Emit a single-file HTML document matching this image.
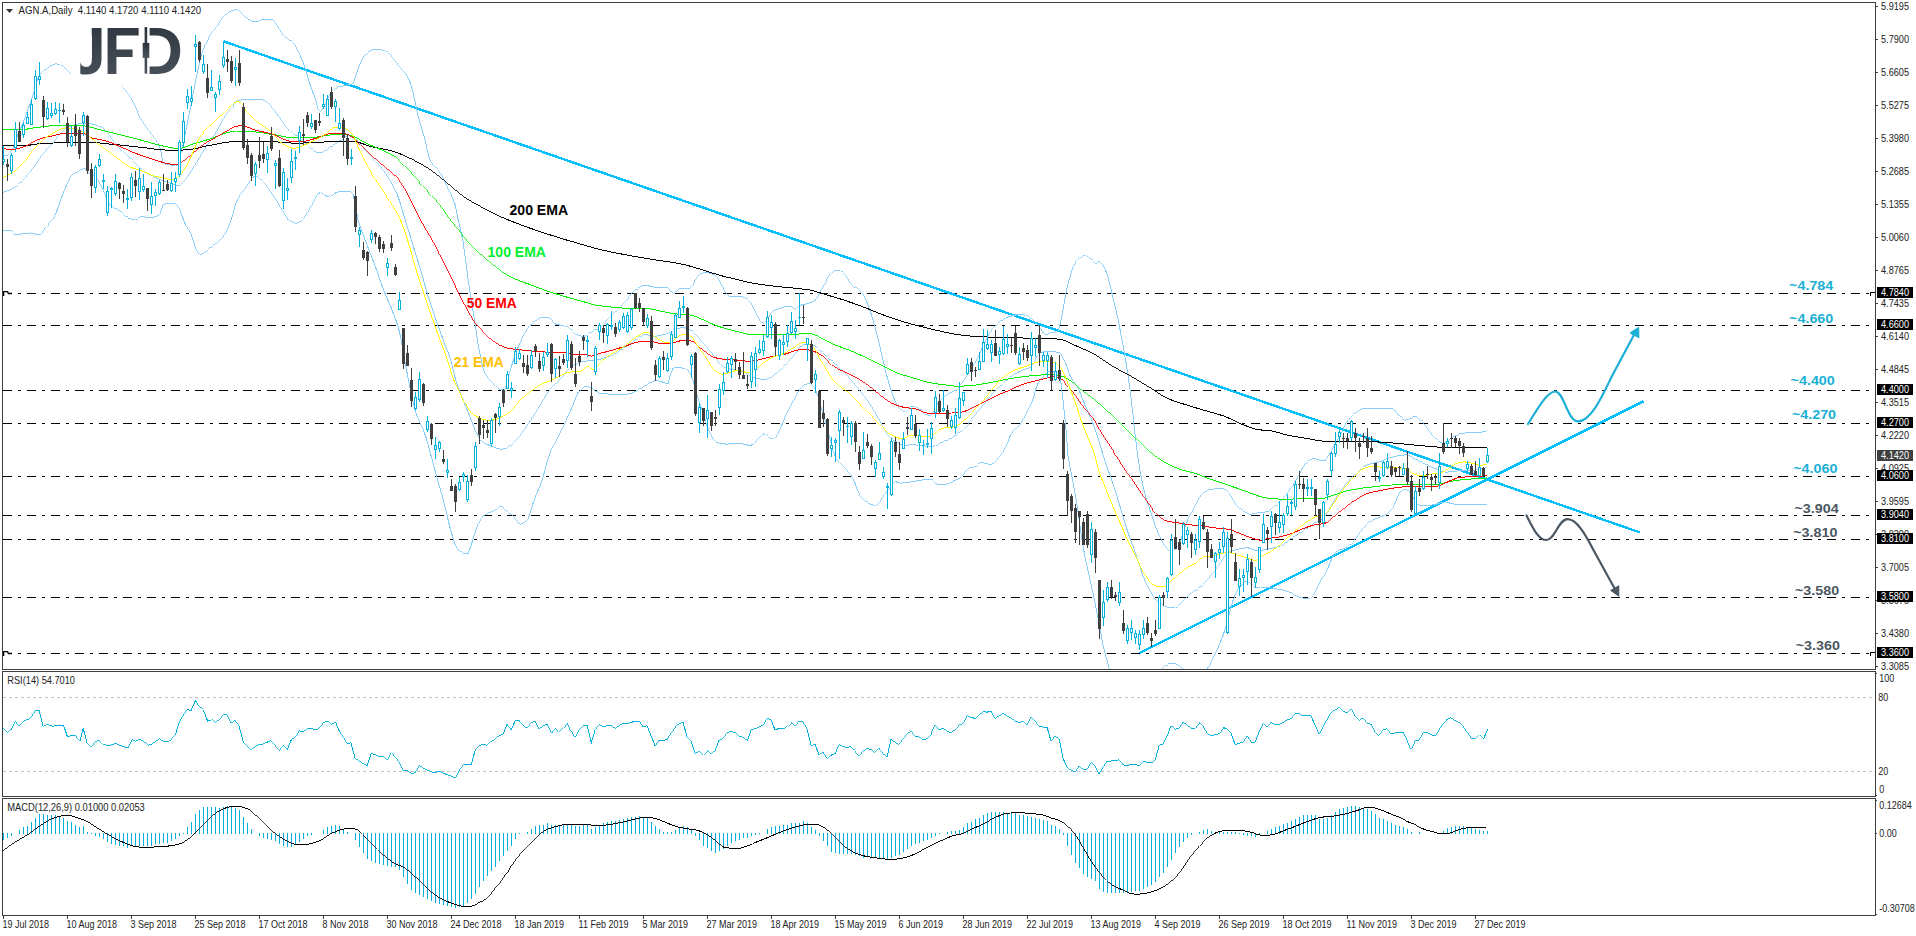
<!DOCTYPE html><html><head><meta charset="utf-8"><title>AGN.A Daily</title><style>html,body{margin:0;padding:0;background:#fff}body{width:1916px;height:936px;overflow:hidden}</style></head><body><svg width="1916" height="936" viewBox="0 0 1916 936" style="display:block">
<defs><clipPath id="cm"><rect x="3" y="3" width="1872" height="666"/></clipPath><clipPath id="cr"><rect x="3" y="672" width="1872" height="124"/></clipPath><clipPath id="cd"><rect x="3" y="799" width="1872" height="116"/></clipPath><linearGradient id="lg" x1="0" y1="0" x2="0" y2="1"><stop offset="0" stop-color="#2b323c"/><stop offset="1" stop-color="#4c555e"/></linearGradient><clipPath id="dclip"><rect x="150.4" y="20" width="40" height="60"/></clipPath></defs>
<rect width="1916" height="936" fill="#fff"/>
<g clip-path="url(#cm)">
<line x1="3" y1="293.5" x2="1872" y2="293.5" stroke="#000" stroke-width="1" stroke-dasharray="9 6 3 6" shape-rendering="crispEdges"/>
<line x1="3" y1="325.5" x2="1872" y2="325.5" stroke="#000" stroke-width="1" stroke-dasharray="9 6 3 6" shape-rendering="crispEdges"/>
<line x1="3" y1="390.5" x2="1872" y2="390.5" stroke="#000" stroke-width="1" stroke-dasharray="9 6 3 6" shape-rendering="crispEdges"/>
<line x1="3" y1="423.5" x2="1872" y2="423.5" stroke="#000" stroke-width="1" stroke-dasharray="9 6 3 6" shape-rendering="crispEdges"/>
<line x1="3" y1="476.5" x2="1872" y2="476.5" stroke="#000" stroke-width="1" stroke-dasharray="9 6 3 6" shape-rendering="crispEdges"/>
<line x1="3" y1="515.5" x2="1872" y2="515.5" stroke="#000" stroke-width="1" stroke-dasharray="9 6 3 6" shape-rendering="crispEdges"/>
<line x1="3" y1="539.5" x2="1872" y2="539.5" stroke="#000" stroke-width="1" stroke-dasharray="9 6 3 6" shape-rendering="crispEdges"/>
<line x1="3" y1="597.5" x2="1872" y2="597.5" stroke="#000" stroke-width="1" stroke-dasharray="9 6 3 6" shape-rendering="crispEdges"/>
<line x1="3" y1="653.5" x2="1872" y2="653.5" stroke="#000" stroke-width="1" stroke-dasharray="9 6 3 6" shape-rendering="crispEdges"/>
<line x1="223.5" y1="41.3" x2="1639.6" y2="532.3" stroke="#00BFFF" stroke-width="2.4" shape-rendering="crispEdges"/>
<line x1="1139.5" y1="653" x2="1643.5" y2="401.3" stroke="#00BFFF" stroke-width="2.4" shape-rendering="crispEdges"/>
<g fill="none" stroke="#87CEFA" shape-rendering="crispEdges">
<polyline points="3,154.4 5.5,155.5" stroke-width="0.9"/>
<polyline points="5.5,155.5 8,155.1" stroke-width="1"/>
<polyline points="8,155.1 10.5,152" stroke-width="0.8"/>
<polyline points="10.5,152 13,147.8" stroke-width="0.9"/>
<polyline points="13,147.8 15.5,141.5 18,134.5 20.5,128.6 23,123 25.5,116.3 28,109 30.5,102.9 33,95.2 35.5,86.3 38,78.1" stroke-width="1"/>
<polyline points="38,78.1 40.5,73.5" stroke-width="0.9"/>
<polyline points="40.5,73.5 43,70.9 45.5,69" stroke-width="0.8"/>
<polyline points="45.5,69 48,67.4 50.5,65.7 53,64.4" stroke-width="0.9"/>
<polyline points="53,64.4 55.5,63.8 58,64.1 60.5,65.1" stroke-width="1"/>
<polyline points="60.5,65.1 63,66.4 65.5,68.2" stroke-width="0.9"/>
<polyline points="65.5,68.2 68,70.9 70.5,73.6" stroke-width="0.8"/>
</g>
<g fill="none" stroke="#87CEFA" shape-rendering="crispEdges">
<polyline points="120.5,85.9 123,88 125.5,90.8 128,94 130.5,97.6" stroke-width="0.8"/>
<polyline points="130.5,97.6 133,101.7 135.5,106.9" stroke-width="0.9"/>
<polyline points="135.5,106.9 138,112.5" stroke-width="1"/>
<polyline points="138,112.5 140.5,117.9 143,122.3 145.5,126.1" stroke-width="0.9"/>
<polyline points="145.5,126.1 148,129.6 150.5,132.9 153,136.3 155.5,139.7 158,143.1" stroke-width="0.8"/>
<polyline points="158,143.1 160.5,149.7 163,162.7" stroke-width="1"/>
<polyline points="163,162.7 165.5,164.3" stroke-width="0.9"/>
<polyline points="165.5,164.3 168,164.8 170.5,165 173,165.2 175.5,165.4" stroke-width="1"/>
<polyline points="175.5,165.4 178,164.1" stroke-width="0.9"/>
<polyline points="178,164.1 180.5,154.9 183,144.7 185.5,132.5 188,119.8 190.5,107.3 193,94.5 195.5,81.9 198,69 200.5,58.2 203,50.3 205.5,43.8" stroke-width="1"/>
<polyline points="205.5,43.8 208,38.5 210.5,34.4" stroke-width="0.9"/>
<polyline points="210.5,34.4 213,31 215.5,27.9 218,24.6" stroke-width="0.8"/>
<polyline points="218,24.6 220.5,20.7 223,16.9" stroke-width="0.9"/>
<polyline points="223,16.9 225.5,14.3" stroke-width="0.7"/>
<polyline points="225.5,14.3 228,12.7 230.5,11.4" stroke-width="0.9"/>
<polyline points="230.5,11.4 233,10.3 235.5,9.7 238,9.9" stroke-width="1"/>
<polyline points="238,9.9 240.5,11.9 243,14.9 245.5,17.6" stroke-width="0.8"/>
<polyline points="245.5,17.6 248,19.1 250.5,20.4" stroke-width="0.9"/>
<polyline points="250.5,20.4 253,21.4 255.5,22 258,21.6" stroke-width="1"/>
<polyline points="258,21.6 260.5,20.3" stroke-width="0.9"/>
<polyline points="260.5,20.3 263,19.3 265.5,19.2 268,19.2 270.5,19.2 273,19.8" stroke-width="1"/>
<polyline points="273,19.8 275.5,22.9" stroke-width="0.8"/>
<polyline points="275.5,22.9 278,27 280.5,30.8 283,35" stroke-width="0.9"/>
<polyline points="283,35 285.5,37.9" stroke-width="0.8"/>
<polyline points="285.5,37.9 288,39.5 290.5,40.7" stroke-width="0.9"/>
<polyline points="290.5,40.7 293,42.6" stroke-width="0.8"/>
<polyline points="293,42.6 295.5,46.2 298,51 300.5,56.2" stroke-width="0.9"/>
<polyline points="300.5,56.2 303,62.2 305.5,69.3 308,78 310.5,86 313,92.5 315.5,99.1 318,108.9" stroke-width="1"/>
<polyline points="318,108.9 320.5,112.1" stroke-width="0.8"/>
<polyline points="320.5,112.1 323,108.4 325.5,103.6 328,98.3 330.5,93.3" stroke-width="0.9"/>
<polyline points="330.5,93.3 333,90.3 335.5,88.2" stroke-width="0.8"/>
<polyline points="335.5,88.2 338,87.1" stroke-width="0.9"/>
<polyline points="338,87.1 340.5,86.5 343,86 345.5,85.4 348,84.9 350.5,84.4" stroke-width="1"/>
<polyline points="350.5,84.4 353,83.1" stroke-width="0.9"/>
<polyline points="353,83.1 355.5,77.1 358,68.8 360.5,62.5" stroke-width="1"/>
<polyline points="360.5,62.5 363,57.9 365.5,54" stroke-width="0.9"/>
<polyline points="365.5,54 368,51.8" stroke-width="0.8"/>
<polyline points="368,51.8 370.5,50.6" stroke-width="0.9"/>
<polyline points="370.5,50.6 373,49.7 375.5,49.1 378,49 380.5,49.4 383,50.3 385.5,51.3" stroke-width="1"/>
<polyline points="385.5,51.3 388,52.6" stroke-width="0.9"/>
<polyline points="388,52.6 390.5,54.9 393,57.9 395.5,61.3 398,64.7 400.5,67.9 403,70.7 405.5,73.6" stroke-width="0.8"/>
<polyline points="405.5,73.6 408,77.6" stroke-width="0.9"/>
<polyline points="408,77.6 410.5,83.7 413,91.8 415.5,103.7 418,115.7 420.5,124.5 423,132.6 425.5,142 428,153.4 430.5,161.3" stroke-width="1"/>
<polyline points="430.5,161.3 433,164.9" stroke-width="0.9"/>
<polyline points="433,164.9 435.5,167.5 438,169.9" stroke-width="0.7"/>
<polyline points="438,169.9 440.5,173.3" stroke-width="0.8"/>
<polyline points="440.5,173.3 443,178 445.5,183.3 448,188.6 450.5,193.4 453,198.7" stroke-width="0.9"/>
<polyline points="453,198.7 455.5,206 458,219.5 460.5,229.2 463,241.3 465.5,259.3 468,278.6 470.5,295.2 473,310.8 475.5,326.9 478,343.6 480.5,356.9 483,368 485.5,374.6" stroke-width="1"/>
<polyline points="485.5,374.6 488,377.7 490.5,380.4 493,383.4 495.5,386.3 498,388.5" stroke-width="0.8"/>
<polyline points="498,388.5 500.5,389.5 503,390.1" stroke-width="1"/>
<polyline points="503,390.1 505.5,388.3" stroke-width="0.8"/>
<polyline points="505.5,388.3 508,378 510.5,369.3 513,361.5 515.5,354.2 518,347.6 520.5,341.6" stroke-width="1"/>
<polyline points="520.5,341.6 523,336.2 525.5,331.7 528,327.7" stroke-width="0.9"/>
<polyline points="528,327.7 530.5,324.4 533,322.2 535.5,320.4" stroke-width="0.8"/>
<polyline points="535.5,320.4 538,318.9 540.5,317.7" stroke-width="0.9"/>
<polyline points="540.5,317.7 543,317.1 545.5,317.2 548,317.7 550.5,318.7" stroke-width="1"/>
<polyline points="550.5,318.7 553,321.7 555.5,324" stroke-width="0.8"/>
<polyline points="555.5,324 558,324.7 560.5,325.2 563,325.7 565.5,326.3" stroke-width="1"/>
<polyline points="565.5,326.3 568,327.5" stroke-width="0.9"/>
<polyline points="568,327.5 570.5,329.8 573,332 575.5,334.1" stroke-width="0.8"/>
<polyline points="575.5,334.1 578,335.4" stroke-width="0.9"/>
<polyline points="578,335.4 580.5,336 583,336.3 585.5,335.8" stroke-width="1"/>
<polyline points="585.5,335.8 588,334 590.5,332" stroke-width="0.8"/>
<polyline points="590.5,332 593,330.6 595.5,329.5 598,328.3 600.5,326.5" stroke-width="0.9"/>
<polyline points="600.5,326.5 603,324.2 605.5,321.5 608,318.7" stroke-width="0.8"/>
<polyline points="608,318.7 610.5,316.1" stroke-width="0.7"/>
<polyline points="610.5,316.1 613,313.8 615.5,311.6 618,309.4 620.5,307.1 623,304.4 625.5,301.1" stroke-width="0.8"/>
<polyline points="625.5,301.1 628,297.5" stroke-width="0.9"/>
<polyline points="628,297.5 630.5,294.2 633,291.6 635.5,289.7" stroke-width="0.8"/>
<polyline points="635.5,289.7 638,288 640.5,286.6" stroke-width="0.9"/>
<polyline points="640.5,286.6 643,285.7 645.5,285.4 648,285.7 650.5,286.2 653,286.8 655.5,287.2 658,287.4 660.5,287.4 663,287.5 665.5,287.5 668,287.7" stroke-width="1"/>
<polyline points="668,287.7 670.5,291.9" stroke-width="0.9"/>
<polyline points="670.5,291.9 673,293.7 675.5,291.1 678,289.2" stroke-width="0.8"/>
<polyline points="678,289.2 680.5,288.8 683,288.6 685.5,288.4 688,288.2 690.5,287.9" stroke-width="1"/>
<polyline points="690.5,287.9 693,285.4" stroke-width="0.7"/>
<polyline points="693,285.4 695.5,279.2" stroke-width="1"/>
<polyline points="695.5,279.2 698,275.8 700.5,273.9" stroke-width="0.8"/>
<polyline points="700.5,273.9 703,272.6" stroke-width="0.9"/>
<polyline points="703,272.6 705.5,272.3 708,272.7 710.5,273.3 713,274.2" stroke-width="1"/>
<polyline points="713,274.2 715.5,275.6" stroke-width="0.9"/>
<polyline points="715.5,275.6 718,278.7" stroke-width="0.8"/>
<polyline points="718,278.7 720.5,282.8 723,287.4 725.5,292.7" stroke-width="0.9"/>
<polyline points="725.5,292.7 728,295.2" stroke-width="0.7"/>
<polyline points="728,295.2 730.5,296.7" stroke-width="0.9"/>
<polyline points="730.5,296.7 733,296.9 735.5,296.8 738,296.6 740.5,296.5 743,296.8" stroke-width="1"/>
<polyline points="743,296.8 745.5,298.1" stroke-width="0.9"/>
<polyline points="745.5,298.1 748,300 750.5,302.6" stroke-width="0.8"/>
<polyline points="750.5,302.6 753,307.1 755.5,312.2 758,317 760.5,322.1 763,323.7" stroke-width="0.9"/>
<polyline points="763,323.7 765.5,321.6 768,318.3" stroke-width="0.8"/>
<polyline points="768,318.3 770.5,313.5" stroke-width="0.9"/>
<polyline points="770.5,313.5 773,310.8" stroke-width="0.8"/>
<polyline points="773,310.8 775.5,309.8 778,309.1 780.5,308.3 783,307.2 785.5,306.6 788,306.4 790.5,306.3" stroke-width="1"/>
<polyline points="790.5,306.3 793,308.1 795.5,309.5" stroke-width="0.9"/>
<polyline points="795.5,309.5 798,306.8" stroke-width="0.8"/>
<polyline points="798,306.8 800.5,305.2" stroke-width="0.9"/>
<polyline points="800.5,305.2 803,304.7 805.5,304.1 808,303.4 810.5,302.5 813,301.7" stroke-width="1"/>
<polyline points="813,301.7 815.5,300.3 818,296.2 820.5,291.2 823,287.3 825.5,282.6 828,277.4 830.5,273.7" stroke-width="0.9"/>
<polyline points="830.5,273.7 833,271.4" stroke-width="0.8"/>
<polyline points="833,271.4 835.5,270.2" stroke-width="0.9"/>
<polyline points="835.5,270.2 838,270.3 840.5,271.1" stroke-width="1"/>
<polyline points="840.5,271.1 843,272.6" stroke-width="0.9"/>
<polyline points="843,272.6 845.5,275.3" stroke-width="0.8"/>
<polyline points="845.5,275.3 848,279.4 850.5,284.3" stroke-width="0.9"/>
<polyline points="850.5,284.3 853,286.4" stroke-width="0.8"/>
<polyline points="853,286.4 855.5,287.5 858,289.1" stroke-width="0.9"/>
<polyline points="858,289.1 860.5,291.2 863,294.2" stroke-width="0.8"/>
<polyline points="863,294.2 865.5,299" stroke-width="0.9"/>
<polyline points="865.5,299 868,304.8 870.5,311.8 873,320.2 875.5,329.1 878,338.7 880.5,349.4 883,360.1 885.5,370.7 888,380.2 890.5,388.5 893,396 895.5,402" stroke-width="1"/>
<polyline points="895.5,402 898,406.2 900.5,409.8" stroke-width="0.9"/>
<polyline points="900.5,409.8 903,411.9" stroke-width="0.8"/>
<polyline points="903,411.9 905.5,411.5" stroke-width="1"/>
<polyline points="905.5,411.5 908,409.1" stroke-width="0.7"/>
<polyline points="908,409.1 910.5,406.7" stroke-width="0.8"/>
<polyline points="910.5,406.7 913,406.5 915.5,407.3" stroke-width="1"/>
<polyline points="915.5,407.3 918,408.5 920.5,409.9" stroke-width="0.9"/>
<polyline points="920.5,409.9 923,412 925.5,414.3" stroke-width="0.8"/>
<polyline points="925.5,414.3 928,415.8" stroke-width="0.9"/>
<polyline points="928,415.8 930.5,415.3" stroke-width="1"/>
<polyline points="930.5,415.3 933,412" stroke-width="0.8"/>
<polyline points="933,412 935.5,407.5 938,403.3" stroke-width="0.9"/>
<polyline points="938,403.3 940.5,400.3 943,397.6 945.5,395.4" stroke-width="0.8"/>
<polyline points="945.5,395.4 948,393.8" stroke-width="0.9"/>
<polyline points="948,393.8 950.5,392.7 953,391.7" stroke-width="1"/>
<polyline points="953,391.7 955.5,390.3" stroke-width="0.9"/>
<polyline points="955.5,390.3 958,388 960.5,384.8" stroke-width="0.8"/>
<polyline points="960.5,384.8 963,381.2" stroke-width="0.9"/>
<polyline points="963,381.2 965.5,377.7" stroke-width="0.8"/>
<polyline points="965.5,377.7 968,374 970.5,370.1 973,366.1 975.5,361.9 978,357.3 980.5,352.1" stroke-width="0.9"/>
<polyline points="980.5,352.1 983,345.9" stroke-width="1"/>
<polyline points="983,345.9 985.5,340.5 988,335.6 990.5,331.2" stroke-width="0.9"/>
<polyline points="990.5,331.2 993,327.8 995.5,325.1 998,322.7 1000.5,320.8" stroke-width="0.8"/>
<polyline points="1000.5,320.8 1003,319.3 1005.5,318.1" stroke-width="0.9"/>
<polyline points="1005.5,318.1 1008,317.1 1010.5,316.3 1013,315.6 1015.5,315 1018,314.5 1020.5,314.4 1023,314.7 1025.5,315.4" stroke-width="1"/>
<polyline points="1025.5,315.4 1028,316.6" stroke-width="0.9"/>
<polyline points="1028,316.6 1030.5,318.5 1033,320.5 1035.5,322.7 1038,325.3 1040.5,328.7" stroke-width="0.8"/>
<polyline points="1040.5,328.7 1043,332.5 1045.5,334.1" stroke-width="0.9"/>
<polyline points="1045.5,334.1 1048,334.2" stroke-width="1"/>
<polyline points="1048,334.2 1050.5,332.6" stroke-width="0.9"/>
<polyline points="1050.5,332.6 1053,332.3 1055.5,332 1058,331 1060.5,322.9 1063,310 1065.5,295.1 1068,283.9 1070.5,274.8 1073,267" stroke-width="1"/>
<polyline points="1073,267 1075.5,261.5" stroke-width="0.9"/>
<polyline points="1075.5,261.5 1078,259" stroke-width="0.7"/>
<polyline points="1078,259 1080.5,257" stroke-width="0.8"/>
<polyline points="1080.5,257 1083,255.5" stroke-width="0.9"/>
<polyline points="1083,255.5 1085.5,255.6" stroke-width="1"/>
<polyline points="1085.5,255.6 1088,257" stroke-width="0.9"/>
<polyline points="1088,257 1090.5,259 1093,261.3 1095.5,263.1" stroke-width="0.8"/>
<polyline points="1095.5,263.1 1098,261.5" stroke-width="0.9"/>
<polyline points="1098,261.5 1100.5,262.1" stroke-width="1"/>
<polyline points="1100.5,262.1 1103,265.3" stroke-width="0.8"/>
<polyline points="1103,265.3 1105.5,270.1" stroke-width="0.9"/>
<polyline points="1105.5,270.1 1108,277.2 1110.5,286.7 1113,297.9 1115.5,308.1 1118,318.9 1120.5,332.1 1123,345.4 1125.5,359.4 1128,374.8 1130.5,393.8 1133,415.2 1135.5,438.2 1138,457.7 1140.5,473.8 1143,486.3 1145.5,496 1148,504.2 1150.5,511.6 1153,519.1 1155.5,526.4 1158,533" stroke-width="1"/>
<polyline points="1158,533 1160.5,538.3 1163,543 1165.5,546.9" stroke-width="0.9"/>
<polyline points="1165.5,546.9 1168,549.9 1170.5,551.7" stroke-width="0.8"/>
<polyline points="1170.5,551.7 1173,551" stroke-width="1"/>
<polyline points="1173,551 1175.5,549.1 1178,546.3" stroke-width="0.8"/>
<polyline points="1178,546.3 1180.5,541.3" stroke-width="0.9"/>
<polyline points="1180.5,541.3 1183,533.1 1185.5,525.1 1188,519.4" stroke-width="1"/>
<polyline points="1188,519.4 1190.5,514.4 1193,509.7 1195.5,504.9 1198,500 1200.5,496" stroke-width="0.9"/>
<polyline points="1200.5,496 1203,493.4" stroke-width="0.7"/>
<polyline points="1203,493.4 1205.5,491.3" stroke-width="0.8"/>
<polyline points="1205.5,491.3 1208,489.9" stroke-width="0.9"/>
<polyline points="1208,489.9 1210.5,489.4 1213,489.1 1215.5,488.9 1218,488.8 1220.5,488.8 1223,488.8 1225.5,489.2" stroke-width="1"/>
<polyline points="1225.5,489.2 1228,491.9 1230.5,495.4" stroke-width="0.8"/>
<polyline points="1230.5,495.4 1233,499.7 1235.5,504" stroke-width="0.9"/>
<polyline points="1235.5,504 1238,506.8 1240.5,509 1243,510.9" stroke-width="0.8"/>
<polyline points="1243,510.9 1245.5,512.6 1248,513.9" stroke-width="0.9"/>
<polyline points="1248,513.9 1250.5,514.2 1253,513.9 1255.5,513.4 1258,512.9 1260.5,512.5 1263,512.3 1265.5,512 1268,511.6" stroke-width="1"/>
<polyline points="1268,511.6 1270.5,509.9" stroke-width="0.9"/>
<polyline points="1270.5,509.9 1273,507.4 1275.5,505" stroke-width="0.7"/>
<polyline points="1275.5,505 1278,502.9 1280.5,500.8 1283,498.5 1285.5,495.6 1288,492.1" stroke-width="0.8"/>
<polyline points="1288,492.1 1290.5,488.4 1293,484.5 1295.5,480.4 1298,476.3 1300.5,471.9 1303,467.2 1305.5,463.4" stroke-width="0.9"/>
<polyline points="1305.5,463.4 1308,461.3" stroke-width="0.8"/>
<polyline points="1308,461.3 1310.5,459.7" stroke-width="0.9"/>
<polyline points="1310.5,459.7 1313,458.8 1315.5,458.8 1318,459.5 1320.5,460.5 1323,461.1 1325.5,460.1" stroke-width="1"/>
<polyline points="1325.5,460.1 1328,456.3 1330.5,452.4 1333,448.2 1335.5,443.6 1338,438.9 1340.5,433.7 1343,428.5 1345.5,424.1 1348,420" stroke-width="0.9"/>
<polyline points="1348,420 1350.5,416.5" stroke-width="0.8"/>
<polyline points="1350.5,416.5 1353,414.1" stroke-width="0.7"/>
<polyline points="1353,414.1 1355.5,412.3" stroke-width="0.8"/>
<polyline points="1355.5,412.3 1358,410.8 1360.5,409.5" stroke-width="0.9"/>
<polyline points="1360.5,409.5 1363,408.8 1365.5,408.6 1368,408.4 1370.5,408.3 1373,408.2 1375.5,408.1 1378,408.1 1380.5,408.1 1383,408.1 1385.5,408.2 1388,408.3 1390.5,408.4 1393,408.7" stroke-width="1"/>
<polyline points="1393,408.7 1395.5,410.9" stroke-width="0.8"/>
<polyline points="1395.5,410.9 1398,414.6" stroke-width="0.9"/>
<polyline points="1398,414.6 1400.5,416.9 1403,418.9" stroke-width="0.8"/>
<polyline points="1403,418.9 1405.5,420.1" stroke-width="0.9"/>
<polyline points="1405.5,420.1 1408,419.8" stroke-width="1"/>
<polyline points="1408,419.8 1410.5,418.1 1413,416.6" stroke-width="0.9"/>
<polyline points="1413,416.6 1415.5,416.6" stroke-width="1"/>
<polyline points="1415.5,416.6 1418,417.9" stroke-width="0.9"/>
<polyline points="1418,417.9 1420.5,420 1423,422.4 1425.5,425.8 1428,429.3 1430.5,432.8 1433,436.1" stroke-width="0.8"/>
<polyline points="1433,436.1 1435.5,438.6" stroke-width="0.7"/>
<polyline points="1435.5,438.6 1438,440.8 1440.5,442.5" stroke-width="0.8"/>
<polyline points="1440.5,442.5 1443,443.3 1445.5,442.4" stroke-width="1"/>
<polyline points="1445.5,442.4 1448,440.5 1450.5,438.6" stroke-width="0.8"/>
<polyline points="1450.5,438.6 1453,437 1455.5,435.5 1458,434.3" stroke-width="0.9"/>
<polyline points="1458,434.3 1460.5,433.7 1463,433.3 1465.5,432.9 1468,432.7 1470.5,432.6 1473,432.5 1475.5,432.5 1478,432.4 1480.5,432.2 1483,431.8 1485.5,431.2 1487.2,430.8" stroke-width="1"/>
</g>
<g fill="none" stroke="#87CEFA" shape-rendering="crispEdges">
<polyline points="3,192.3 5.5,191.7 8,190.7" stroke-width="1"/>
<polyline points="8,190.7 10.5,189.6 13,188.1" stroke-width="0.9"/>
<polyline points="13,188.1 15.5,186.3 18,184.2 20.5,182 23,179.7" stroke-width="0.8"/>
<polyline points="23,179.7 25.5,177.1" stroke-width="0.7"/>
<polyline points="25.5,177.1 28,174.3 30.5,171.4 33,168.1" stroke-width="0.8"/>
<polyline points="33,168.1 35.5,164.4 38,160.6 40.5,157.1" stroke-width="0.9"/>
<polyline points="40.5,157.1 43,153.9 45.5,151 48,148.2 50.5,145.3 53,142.3 55.5,139.3 58,136.2 60.5,133.4 63,130.6" stroke-width="0.8"/>
<polyline points="63,130.6 65.5,128.1" stroke-width="0.7"/>
<polyline points="65.5,128.1 68,126.8" stroke-width="0.9"/>
<polyline points="68,126.8 70.5,126 73,125.3 75.5,124.7 78,124 80.5,123.4 83,123 85.5,123.1 88,123.3 90.5,123.7 93,124.1 95.5,124.8 98,125.8" stroke-width="1"/>
<polyline points="98,125.8 100.5,127 103,128.5" stroke-width="0.9"/>
<polyline points="103,128.5 105.5,130.6 108,133.4 110.5,136.5 113,139.5 115.5,142.5 118,145.5 120.5,148.5 123,151.3" stroke-width="0.8"/>
<polyline points="123,151.3 125.5,153.9 128,156.4 130.5,158.8 133,161.2 135.5,163.8" stroke-width="0.7"/>
<polyline points="135.5,163.8 138,166.4" stroke-width="0.8"/>
<polyline points="138,166.4 140.5,168.8" stroke-width="0.7"/>
<polyline points="140.5,168.8 143,170.8" stroke-width="0.8"/>
<polyline points="143,170.8 145.5,172.5 148,173.9 150.5,175.3 153,176.5 155.5,177.6" stroke-width="0.9"/>
<polyline points="155.5,177.6 158,178.7 160.5,179.7 163,180.6 165.5,181.5 168,182.3 170.5,183.2 173,184.2 175.5,185 178,185.6 180.5,184.9" stroke-width="1"/>
<polyline points="180.5,184.9 183,182.4" stroke-width="0.7"/>
<polyline points="183,182.4 185.5,179.4 188,176" stroke-width="0.8"/>
<polyline points="188,176 190.5,172.1 193,168 195.5,164 198,160 200.5,155.9 203,151.9 205.5,148 208,144.4 210.5,140.8 213,137.1 215.5,133.2 218,128.8 220.5,124 223,119.4 225.5,115.3" stroke-width="0.9"/>
<polyline points="225.5,115.3 228,111.9 230.5,108.9 233,105.5" stroke-width="0.8"/>
<polyline points="233,105.5 235.5,101.9" stroke-width="0.9"/>
<polyline points="235.5,101.9 238,100.8 240.5,100.1 243,99.6 245.5,99.3 248,99.2 250.5,99.2 253,99.2 255.5,99.2 258,99.2 260.5,99.2 263,99.7" stroke-width="1"/>
<polyline points="263,99.7 265.5,101.3" stroke-width="0.9"/>
<polyline points="265.5,101.3 268,103.5 270.5,105.9 273,108.6 275.5,111.9" stroke-width="0.8"/>
<polyline points="275.5,111.9 278,115.6 280.5,119.2" stroke-width="0.9"/>
<polyline points="280.5,119.2 283,122.4 285.5,125.5 288,128.5 290.5,131.3 293,133.7" stroke-width="0.8"/>
<polyline points="293,133.7 295.5,135.4 298,136.7" stroke-width="0.9"/>
<polyline points="298,136.7 300.5,138.6 303,141.2 305.5,143.9 308,146.1 310.5,148.1 313,150.1" stroke-width="0.8"/>
<polyline points="313,150.1 315.5,151.8" stroke-width="0.9"/>
<polyline points="315.5,151.8 318,152.9 320.5,153 323,152" stroke-width="1"/>
<polyline points="323,152 325.5,150.2" stroke-width="0.9"/>
<polyline points="325.5,150.2 328,148.5" stroke-width="0.8"/>
<polyline points="328,148.5 330.5,146.9 333,145.2 335.5,143.4 338,141.7 340.5,140.2 343,138.4 345.5,136.7 348,135.6" stroke-width="0.9"/>
<polyline points="348,135.6 350.5,135.6" stroke-width="1"/>
<polyline points="350.5,135.6 353,137.5 355.5,139.8 358,142.1" stroke-width="0.8"/>
<polyline points="358,142.1 360.5,144.7" stroke-width="0.7"/>
<polyline points="360.5,144.7 363,147.4 365.5,150.2 368,153 370.5,155.8 373,158.5 375.5,161.2 378,163.9 380.5,166.7 383,169.9 385.5,173.4" stroke-width="0.8"/>
<polyline points="385.5,173.4 388,177.1 390.5,181.2 393,185.8 395.5,190.8" stroke-width="0.9"/>
<polyline points="395.5,190.8 398,196.5 400.5,203.9 403,212.4 405.5,220.9 408,229 410.5,237.1 413,245.2 415.5,253.3 418,261.4 420.5,269.6 423,278.3 425.5,287.3 428,295.9 430.5,303.8 433,311.3 435.5,318.6 438,325.6 440.5,332.5 443,339.3 445.5,345.9 448,352.3 450.5,359.4 453,368.9 455.5,379.6 458,386.9 460.5,393.1 463,399.5 465.5,405.7 468,411.9 470.5,418.3 473,424.9 475.5,431.1" stroke-width="1"/>
<polyline points="475.5,431.1 478,436.4 480.5,440.5" stroke-width="0.9"/>
<polyline points="480.5,440.5 483,442.4" stroke-width="0.8"/>
<polyline points="483,442.4 485.5,443.8" stroke-width="0.9"/>
<polyline points="485.5,443.8 488,444.8 490.5,445.7 493,446.7 495.5,447.7 498,448.6 500.5,449.1 503,449.1 505.5,448.2" stroke-width="1"/>
<polyline points="505.5,448.2 508,446.8 510.5,445" stroke-width="0.9"/>
<polyline points="510.5,445 513,443.1" stroke-width="0.8"/>
<polyline points="513,443.1 515.5,440.6" stroke-width="0.7"/>
<polyline points="515.5,440.6 518,437.6 520.5,434.5 523,431.3 525.5,427.9" stroke-width="0.8"/>
<polyline points="525.5,427.9 528,424.3 530.5,420.6 533,416.7 535.5,412.7 538,408.6 540.5,404.6 543,400.4 545.5,396.1 548,392.1" stroke-width="0.9"/>
<polyline points="548,392.1 550.5,388.8 553,386.2 555.5,383.8 558,381.5 560.5,378.9 563,375.8 565.5,372.7 568,369.7" stroke-width="0.8"/>
<polyline points="568,369.7 570.5,367.2" stroke-width="0.7"/>
<polyline points="570.5,367.2 573,365.6 575.5,364.2 578,363" stroke-width="0.9"/>
<polyline points="578,363 580.5,362 583,361.4 585.5,361.1 588,360.9 590.5,360.8 593,360.6 595.5,360.3 598,359.9 600.5,359.2 603,358.5 605.5,357.6 608,356.6 610.5,355.6" stroke-width="1"/>
<polyline points="610.5,355.6 613,354.4 615.5,353 618,351.4 620.5,349.8 623,348.2 625.5,346.6 628,344.8 630.5,343.1 633,341.5 635.5,339.8" stroke-width="0.9"/>
<polyline points="635.5,339.8 638,337.9 640.5,336.1" stroke-width="0.8"/>
<polyline points="640.5,336.1 643,334.8" stroke-width="0.9"/>
<polyline points="643,334.8 645.5,334.4 648,335 650.5,335.9 653,336.3 655.5,336.2 658,335.8 660.5,335.4 663,334.9 665.5,334.3 668,333.5" stroke-width="1"/>
<polyline points="668,333.5 670.5,332.1" stroke-width="0.9"/>
<polyline points="670.5,332.1 673,330.1" stroke-width="0.8"/>
<polyline points="673,330.1 675.5,328.7" stroke-width="0.9"/>
<polyline points="675.5,328.7 678,328.2 680.5,327.9 683,327.7 685.5,328 688,328.9" stroke-width="1"/>
<polyline points="688,328.9 690.5,330.2 693,331.9" stroke-width="0.9"/>
<polyline points="693,331.9 695.5,334.4" stroke-width="0.7"/>
<polyline points="695.5,334.4 698,337.3 700.5,340 703,342.8 705.5,345.6 708,348.6 710.5,351.6 713,354.7 715.5,357.7 718,360.5 720.5,363.6 723,366.2" stroke-width="0.8"/>
<polyline points="723,366.2 725.5,367.9" stroke-width="0.9"/>
<polyline points="725.5,367.9 728,368.7 730.5,369.1 733,369.5 735.5,370 738,370.6 740.5,371.3 743,372.1 745.5,373.1" stroke-width="1"/>
<polyline points="745.5,373.1 748,374.3 750.5,375.8 753,377.1" stroke-width="0.9"/>
<polyline points="753,377.1 755.5,377.9 758,378.6 760.5,379.2 763,379.6 765.5,379.5 768,378.6" stroke-width="1"/>
<polyline points="768,378.6 770.5,377.1 773,375.4 775.5,373.7" stroke-width="0.9"/>
<polyline points="775.5,373.7 778,371.5" stroke-width="0.8"/>
<polyline points="778,371.5 780.5,369.1 783,366.7" stroke-width="0.7"/>
<polyline points="783,366.7 785.5,364.3" stroke-width="0.8"/>
<polyline points="785.5,364.3 788,361.9 790.5,359.3" stroke-width="0.7"/>
<polyline points="790.5,359.3 793,356.7 795.5,353.4" stroke-width="0.8"/>
<polyline points="795.5,353.4 798,349.5" stroke-width="0.9"/>
<polyline points="798,349.5 800.5,346.1" stroke-width="0.8"/>
<polyline points="800.5,346.1 803,344.5" stroke-width="0.9"/>
<polyline points="803,344.5 805.5,344.5 808,344.6 810.5,344.7 813,345.1" stroke-width="1"/>
<polyline points="813,345.1 815.5,346.5" stroke-width="0.9"/>
<polyline points="815.5,346.5 818,348.6" stroke-width="0.8"/>
<polyline points="818,348.6 820.5,351" stroke-width="0.7"/>
<polyline points="820.5,351 823,353.3 825.5,355.4 828,357.7 830.5,360 833,362.4 835.5,364.7 838,366.9 840.5,369.1 843,371.4 845.5,373.8 848,376.4 850.5,379.2 853,382.1 855.5,385.2 858,388.3 860.5,391.4 863,394.6 865.5,398 868,401.4" stroke-width="0.8"/>
<polyline points="868,401.4 870.5,405.1 873,409.1 875.5,413.3 878,417.6 880.5,422 883,426.6 885.5,431.4 888,435.4" stroke-width="0.9"/>
<polyline points="888,435.4 890.5,438" stroke-width="0.7"/>
<polyline points="890.5,438 893,439.9" stroke-width="0.8"/>
<polyline points="893,439.9 895.5,441.5 898,442.9 900.5,444.4" stroke-width="0.9"/>
<polyline points="900.5,444.4 903,445.3 905.5,445.3 908,445.1 910.5,444.8 913,444.8 915.5,445 918,445.2 920.5,445.5 923,445.7 925.5,446.1 928,446.5 930.5,446.7 933,446.5 935.5,445.6" stroke-width="1"/>
<polyline points="935.5,445.6 938,444.3 940.5,442.9 943,441.7 945.5,440.5 948,439.4 950.5,438.1 953,436.8 955.5,435.2" stroke-width="0.9"/>
<polyline points="955.5,435.2 958,433.4 960.5,431.3 963,429" stroke-width="0.8"/>
<polyline points="963,429 965.5,426.5" stroke-width="0.7"/>
<polyline points="965.5,426.5 968,423.5 970.5,420.3 973,417.2 975.5,414.2 978,411.2 980.5,408.2 983,405.2 985.5,402.1 988,399.1 990.5,396.1 993,393.3 995.5,390.6" stroke-width="0.8"/>
<polyline points="995.5,390.6 998,388.1 1000.5,385.7" stroke-width="0.7"/>
<polyline points="1000.5,385.7 1003,383.3" stroke-width="0.8"/>
<polyline points="1003,383.3 1005.5,380.9" stroke-width="0.7"/>
<polyline points="1005.5,380.9 1008,378.5 1010.5,376.4" stroke-width="0.8"/>
<polyline points="1010.5,376.4 1013,374.8 1015.5,373.4 1018,372.2" stroke-width="0.9"/>
<polyline points="1018,372.2 1020.5,371.1 1023,370.1 1025.5,369.3 1028,368.5" stroke-width="1"/>
<polyline points="1028,368.5 1030.5,367.2" stroke-width="0.9"/>
<polyline points="1030.5,367.2 1033,363.8" stroke-width="0.8"/>
<polyline points="1033,363.8 1035.5,358.5 1038,354.6" stroke-width="0.9"/>
<polyline points="1038,354.6 1040.5,352.7" stroke-width="0.8"/>
<polyline points="1040.5,352.7 1043,352 1045.5,351.6 1048,351.5 1050.5,351.6 1053,351.7 1055.5,351.9 1058,352.2" stroke-width="1"/>
<polyline points="1058,352.2 1060.5,353.3 1063,357.7 1065.5,363" stroke-width="0.9"/>
<polyline points="1065.5,363 1068,370.1 1070.5,376.7" stroke-width="1"/>
<polyline points="1070.5,376.7 1073,380.6" stroke-width="0.9"/>
<polyline points="1073,380.6 1075.5,383.7" stroke-width="0.8"/>
<polyline points="1075.5,383.7 1078,387.8" stroke-width="0.9"/>
<polyline points="1078,387.8 1080.5,393.7 1083,400.2 1085.5,406.1" stroke-width="1"/>
<polyline points="1085.5,406.1 1088,411.5 1090.5,417.1" stroke-width="0.9"/>
<polyline points="1090.5,417.1 1093,423.4 1095.5,430.4 1098,438 1100.5,446.4 1103,454.8 1105.5,462.4 1108,469.7 1110.5,476.7 1113,483.8 1115.5,491.3 1118,499.6 1120.5,508.1 1123,516.4 1125.5,524.7 1128,532.5 1130.5,539.7 1133,546.4 1135.5,553.2 1138,560.7 1140.5,568.7 1143,576 1145.5,581.9" stroke-width="1"/>
<polyline points="1145.5,581.9 1148,587.1 1150.5,591.7 1153,595.5" stroke-width="0.9"/>
<polyline points="1153,595.5 1155.5,599 1158,601.8 1160.5,603.7" stroke-width="0.8"/>
<polyline points="1160.5,603.7 1163,605.4 1165.5,606.5" stroke-width="0.9"/>
<polyline points="1165.5,606.5 1168,607.2 1170.5,607.7 1173,608 1175.5,607.9" stroke-width="1"/>
<polyline points="1175.5,607.9 1178,606.1 1180.5,603.4" stroke-width="0.8"/>
<polyline points="1180.5,603.4 1183,600.9 1185.5,598.3" stroke-width="0.7"/>
<polyline points="1185.5,598.3 1188,595.7 1190.5,593.5 1193,591.7" stroke-width="0.8"/>
<polyline points="1193,591.7 1195.5,590.1 1198,588.4" stroke-width="0.9"/>
<polyline points="1198,588.4 1200.5,586.4 1203,584.1" stroke-width="0.8"/>
<polyline points="1203,584.1 1205.5,581.6" stroke-width="0.7"/>
<polyline points="1205.5,581.6 1208,578.9 1210.5,576 1213,572.8 1215.5,569.5 1218,566.1 1220.5,562.6" stroke-width="0.8"/>
<polyline points="1220.5,562.6 1223,558.8" stroke-width="0.9"/>
<polyline points="1223,558.8 1225.5,555.3" stroke-width="0.8"/>
<polyline points="1225.5,555.3 1228,552.9" stroke-width="0.7"/>
<polyline points="1228,552.9 1230.5,551.6" stroke-width="0.9"/>
<polyline points="1230.5,551.6 1233,550.6 1235.5,549.8 1238,549.2 1240.5,548.7 1243,548.3 1245.5,548 1248,547.9 1250.5,548.5 1253,549.6 1255.5,550.5 1258,550.8 1260.5,550.5 1263,550.1 1265.5,549.6 1268,549.1 1270.5,548.6 1273,548.1 1275.5,547.4 1278,546.7 1280.5,545.8" stroke-width="1"/>
<polyline points="1280.5,545.8 1283,544.4 1285.5,542.6" stroke-width="0.9"/>
<polyline points="1285.5,542.6 1288,540.7 1290.5,538.9" stroke-width="0.8"/>
<polyline points="1290.5,538.9 1293,537.2 1295.5,535.5 1298,533.8 1300.5,532.2 1303,530.5 1305.5,528.8 1308,527.2 1310.5,525.5 1313,523.8 1315.5,522.2 1318,520.8 1320.5,519.4 1323,517.7" stroke-width="0.9"/>
<polyline points="1323,517.7 1325.5,515.6 1328,512.1" stroke-width="0.8"/>
<polyline points="1328,512.1 1330.5,507.3 1333,502.6 1335.5,498.6 1338,494.8 1340.5,491.2" stroke-width="0.9"/>
<polyline points="1340.5,491.2 1343,487.8 1345.5,484.6 1348,481.6 1350.5,478.9" stroke-width="0.8"/>
<polyline points="1350.5,478.9 1353,476.4" stroke-width="0.7"/>
<polyline points="1353,476.4 1355.5,474 1358,471.6" stroke-width="0.8"/>
<polyline points="1358,471.6 1360.5,469.1" stroke-width="0.7"/>
<polyline points="1360.5,469.1 1363,467.1" stroke-width="0.8"/>
<polyline points="1363,467.1 1365.5,465.7" stroke-width="0.9"/>
<polyline points="1365.5,465.7 1368,464.6 1370.5,463.8 1373,463.2 1375.5,462.7 1378,462.3 1380.5,461.6 1383,460.5" stroke-width="1"/>
<polyline points="1383,460.5 1385.5,459.3" stroke-width="0.9"/>
<polyline points="1385.5,459.3 1388,458.4 1390.5,457.7 1393,457 1395.5,456.4 1398,455.9 1400.5,455.5 1403,455.1 1405.5,454.8 1408,455.1" stroke-width="1"/>
<polyline points="1408,455.1 1410.5,456.4 1413,458 1415.5,459.3 1418,460.6 1420.5,461.8 1423,463.1 1425.5,464.4 1428,465.6" stroke-width="0.9"/>
<polyline points="1428,465.6 1430.5,466.7 1433,467.7 1435.5,468.6 1438,469.5" stroke-width="1"/>
<polyline points="1438,469.5 1440.5,470.8" stroke-width="0.9"/>
<polyline points="1440.5,470.8 1443,471.8 1445.5,472.1 1448,472 1450.5,471.7 1453,471.5 1455.5,471.2 1458,470.9 1460.5,470.8 1463,470.8 1465.5,470.8 1468,470.8 1470.5,470.7 1473,470.4 1475.5,470 1478,469.5 1480.5,469 1483,468.5 1485.5,467.8 1487.2,467.3" stroke-width="1"/>
</g>
<g fill="none" stroke="#87CEFA" shape-rendering="crispEdges">
<polyline points="3,230.8 5.5,230.1 8,230 10.5,230.8" stroke-width="1"/>
<polyline points="10.5,230.8 13,233.1" stroke-width="0.8"/>
<polyline points="13,233.1 15.5,234.9" stroke-width="0.9"/>
<polyline points="15.5,234.9 18,234.8 20.5,234.1 23,233.4 25.5,233.2 28,233.1 30.5,233 33,233.3 35.5,234.2 38,234.9 40.5,234.5" stroke-width="1"/>
<polyline points="40.5,234.5 43,231.4" stroke-width="0.8"/>
<polyline points="43,231.4 45.5,227.4" stroke-width="0.9"/>
<polyline points="45.5,227.4 48,224.5 50.5,221.8 53,218.8" stroke-width="0.8"/>
<polyline points="53,218.8 55.5,214.6" stroke-width="0.9"/>
<polyline points="55.5,214.6 58,207.8 60.5,200.7 63,193.9 65.5,187.7 68,181.8" stroke-width="1"/>
<polyline points="68,181.8 70.5,176.9" stroke-width="0.9"/>
<polyline points="70.5,176.9 73,174.2" stroke-width="0.8"/>
<polyline points="73,174.2 75.5,172.6 78,171.3 80.5,169.9 83,168.6" stroke-width="0.9"/>
<polyline points="83,168.6 85.5,168" stroke-width="1"/>
<polyline points="85.5,168 88,172.1" stroke-width="0.9"/>
<polyline points="88,172.1 90.5,174.5" stroke-width="0.8"/>
<polyline points="90.5,174.5 93,175.5" stroke-width="1"/>
<polyline points="93,175.5 95.5,176.8" stroke-width="0.9"/>
<polyline points="95.5,176.8 98,179.9" stroke-width="0.8"/>
<polyline points="98,179.9 100.5,184.7 103,189.7" stroke-width="0.9"/>
<polyline points="103,189.7 105.5,195.3 108,201.2" stroke-width="1"/>
<polyline points="108,201.2 110.5,205.5" stroke-width="0.9"/>
<polyline points="110.5,205.5 113,207.5" stroke-width="0.8"/>
<polyline points="113,207.5 115.5,208.8 118,210 120.5,211.6" stroke-width="0.9"/>
<polyline points="120.5,211.6 123,213.9 125.5,216.3" stroke-width="0.8"/>
<polyline points="125.5,216.3 128,217.9" stroke-width="0.9"/>
<polyline points="128,217.9 130.5,218.8 133,219.5 135.5,219.6" stroke-width="1"/>
<polyline points="135.5,219.6 138,218.3 140.5,216.6" stroke-width="0.9"/>
<polyline points="140.5,216.6 143,216.3 145.5,217.2 148,217.9 150.5,217.9 153,217.4 155.5,216.7 158,215.7" stroke-width="1"/>
<polyline points="158,215.7 160.5,213.1" stroke-width="0.7"/>
<polyline points="160.5,213.1 163,204.6 165.5,203.9 168,203.4 170.5,203.1 173,203 175.5,203.4" stroke-width="1"/>
<polyline points="175.5,203.4 178,206.6" stroke-width="0.8"/>
<polyline points="178,206.6 180.5,211.2" stroke-width="0.9"/>
<polyline points="180.5,211.2 183,218.5 185.5,224.8" stroke-width="1"/>
<polyline points="185.5,224.8 188,228.9 190.5,232.9" stroke-width="0.9"/>
<polyline points="190.5,232.9 193,239.7 195.5,248.6" stroke-width="1"/>
<polyline points="195.5,248.6 198,252.8" stroke-width="0.9"/>
<polyline points="198,252.8 200.5,254.6" stroke-width="0.8"/>
<polyline points="200.5,254.6 203,253.5" stroke-width="1"/>
<polyline points="203,253.5 205.5,251.1 208,248.8 210.5,247" stroke-width="0.8"/>
<polyline points="210.5,247 213,245.3 215.5,243.6" stroke-width="0.9"/>
<polyline points="215.5,243.6 218,241.8 220.5,239.6 223,236.9" stroke-width="0.8"/>
<polyline points="223,236.9 225.5,233.2 228,227.9" stroke-width="0.9"/>
<polyline points="228,227.9 230.5,221.4 233,214.2 235.5,204.5 238,198.8" stroke-width="1"/>
<polyline points="238,198.8 240.5,194.6" stroke-width="0.9"/>
<polyline points="240.5,194.6 243,191.1 245.5,187.9" stroke-width="0.8"/>
<polyline points="245.5,187.9 248,184.1 250.5,180.2" stroke-width="0.9"/>
<polyline points="250.5,180.2 253,177.2" stroke-width="0.8"/>
<polyline points="253,177.2 255.5,176.2" stroke-width="1"/>
<polyline points="255.5,176.2 258,177.4" stroke-width="0.9"/>
<polyline points="258,177.4 260.5,179.6 263,181.9 265.5,184.8 268,188.1 270.5,191.6" stroke-width="0.8"/>
<polyline points="270.5,191.6 273,195.2 275.5,198.8 278,202.5 280.5,206.5 283,210.6 285.5,215.6 288,219.5 290.5,221.2 293,222.5" stroke-width="0.9"/>
<polyline points="293,222.5 295.5,223.2 298,222.9" stroke-width="1"/>
<polyline points="298,222.9 300.5,221.2" stroke-width="0.9"/>
<polyline points="300.5,221.2 303,218.8" stroke-width="0.7"/>
<polyline points="303,218.8 305.5,215.8" stroke-width="0.8"/>
<polyline points="305.5,215.8 308,211.7 310.5,207.2 313,203 315.5,198.1 318,193.6" stroke-width="0.9"/>
<polyline points="318,193.6 320.5,192.6" stroke-width="1"/>
<polyline points="320.5,192.6 323,194.1 325.5,195.8" stroke-width="0.9"/>
<polyline points="325.5,195.8 328,196.3 330.5,195.6" stroke-width="1"/>
<polyline points="330.5,195.6 333,194.4 335.5,193" stroke-width="0.9"/>
<polyline points="335.5,193 338,191.9 340.5,191.5 343,191.3 345.5,191.2 348,191.2 350.5,191.4" stroke-width="1"/>
<polyline points="350.5,191.4 353,194.2" stroke-width="0.8"/>
<polyline points="353,194.2 355.5,206.2 358,219.6 360.5,227.8 363,234.4 365.5,241 368,247.5 370.5,253.9 373,260.4 375.5,267.1 378,274.2 380.5,281.4 383,288.3 385.5,294.7 388,300.5 390.5,306.3 393,312.4 395.5,319 398,326.3 400.5,336.5 403,350.5 405.5,364.5 408,377.8 410.5,390.5 413,402.3 415.5,411.6 418,418.3" stroke-width="1"/>
<polyline points="418,418.3 420.5,423.6 423,429.1" stroke-width="0.9"/>
<polyline points="423,429.1 425.5,435.8 428,444.2 430.5,453.5 433,463.1 435.5,472.2 438,481 440.5,489.9 443,499 445.5,508.8 448,519.4 450.5,529.5 453,537.8 455.5,545.4" stroke-width="1"/>
<polyline points="455.5,545.4 458,549.7" stroke-width="0.9"/>
<polyline points="458,549.7 460.5,551.7" stroke-width="0.8"/>
<polyline points="460.5,551.7 463,553" stroke-width="0.9"/>
<polyline points="463,553 465.5,553.8 468,553.5 470.5,547.3 473,539.4 475.5,531.3 478,523.7" stroke-width="1"/>
<polyline points="478,523.7 480.5,519.5" stroke-width="0.9"/>
<polyline points="480.5,519.5 483,516.4 485.5,514.2" stroke-width="0.8"/>
<polyline points="485.5,514.2 488,512.9" stroke-width="0.9"/>
<polyline points="488,512.9 490.5,512.1 493,511.2" stroke-width="1"/>
<polyline points="493,511.2 495.5,509.8" stroke-width="0.9"/>
<polyline points="495.5,509.8 498,507.4" stroke-width="0.8"/>
<polyline points="498,507.4 500.5,506 503,507.4" stroke-width="0.9"/>
<polyline points="503,507.4 505.5,510.6 508,512.8" stroke-width="0.8"/>
<polyline points="508,512.8 510.5,514.5" stroke-width="0.9"/>
<polyline points="510.5,514.5 513,516.3 515.5,519.3" stroke-width="0.8"/>
<polyline points="515.5,519.3 518,522.9 520.5,524.2" stroke-width="0.9"/>
<polyline points="520.5,524.2 523,523.3" stroke-width="1"/>
<polyline points="523,523.3 525.5,521.5 528,518.6" stroke-width="0.8"/>
<polyline points="528,518.6 530.5,511.8 533,503.5 535.5,496.6 538,490.6 540.5,484.5 543,477.3 545.5,468.1 548,458.7 550.5,451.5" stroke-width="1"/>
<polyline points="550.5,451.5 553,446.4 555.5,441.8 558,436.8 560.5,431.8 563,426.8 565.5,421.6 568,416.2 570.5,410.8" stroke-width="0.9"/>
<polyline points="570.5,410.8 573,405.1 575.5,398.5 578,392.6" stroke-width="1"/>
<polyline points="578,392.6 580.5,389.5 583,387.5" stroke-width="0.8"/>
<polyline points="583,387.5 585.5,386.4 588,386.7" stroke-width="1"/>
<polyline points="588,386.7 590.5,387.9 593,389.4" stroke-width="0.9"/>
<polyline points="593,389.4 595.5,391.3" stroke-width="0.8"/>
<polyline points="595.5,391.3 598,392.8" stroke-width="0.9"/>
<polyline points="598,392.8 600.5,393.3 603,393.6 605.5,393.8 608,394 610.5,394 613,394 615.5,394 618,394 620.5,394 623,394 625.5,394 628,394 630.5,393.6 633,392.5" stroke-width="1"/>
<polyline points="633,392.5 635.5,391.2 638,389.9 640.5,388.3 643,386.6 645.5,385.2 648,383.8 650.5,382.4 653,381.3" stroke-width="0.9"/>
<polyline points="653,381.3 655.5,380.7 658,380.7 660.5,381.3 663,382.2 665.5,383.1 668,383.5 670.5,374.3 673,368.4 675.5,367.3 678,367.2 680.5,367.5 683,368.2 685.5,369.1" stroke-width="1"/>
<polyline points="685.5,369.1 688,370.4 690.5,374.1" stroke-width="0.9"/>
<polyline points="690.5,374.1 693,379.9 695.5,389.4 698,398.2 700.5,405.7 703,413 705.5,421.1 708,428.4" stroke-width="1"/>
<polyline points="708,428.4 710.5,433.8 713,438.6" stroke-width="0.9"/>
<polyline points="713,438.6 715.5,441.7" stroke-width="0.8"/>
<polyline points="715.5,441.7 718,442.7 720.5,443.4 723,443.9 725.5,444 728,444 730.5,443.7 733,443.4 735.5,443.1 738,443.1 740.5,443.4 743,443.9 745.5,444.6 748,445.1 750.5,445.4 753,444.5" stroke-width="1"/>
<polyline points="753,444.5 755.5,442" stroke-width="0.7"/>
<polyline points="755.5,442 758,438.9 760.5,436.1 763,433.5" stroke-width="0.8"/>
<polyline points="763,433.5 765.5,434.4" stroke-width="1"/>
<polyline points="765.5,434.4 768,436.7 770.5,438.8" stroke-width="0.8"/>
<polyline points="770.5,438.8 773,439" stroke-width="1"/>
<polyline points="773,439 775.5,436.5" stroke-width="0.7"/>
<polyline points="775.5,436.5 778,432.5 780.5,428.1" stroke-width="0.9"/>
<polyline points="780.5,428.1 783,422.2 785.5,416.1" stroke-width="1"/>
<polyline points="785.5,416.1 788,410.8 790.5,405.7 793,401 795.5,396.5 798,392.3 800.5,388.7" stroke-width="0.9"/>
<polyline points="800.5,388.7 803,385.9" stroke-width="0.8"/>
<polyline points="803,385.9 805.5,384.4" stroke-width="0.9"/>
<polyline points="805.5,384.4 808,383.5 810.5,383.4" stroke-width="1"/>
<polyline points="810.5,383.4 813,385.9" stroke-width="0.7"/>
<polyline points="813,385.9 815.5,389.9" stroke-width="0.9"/>
<polyline points="815.5,389.9 818,396.3 820.5,405 823,413.3 825.5,422.1 828,431 830.5,440.6 833,450.7 835.5,457.1" stroke-width="1"/>
<polyline points="835.5,457.1 838,460.5 840.5,463.2 843,466 845.5,468.8 848,471.6 850.5,474.6" stroke-width="0.8"/>
<polyline points="850.5,474.6 853,478.6" stroke-width="0.9"/>
<polyline points="853,478.6 855.5,484.6 858,491.2" stroke-width="1"/>
<polyline points="858,491.2 860.5,496.6" stroke-width="0.9"/>
<polyline points="860.5,496.6 863,499.2 865.5,501.3" stroke-width="0.8"/>
<polyline points="865.5,501.3 868,503 870.5,504.3" stroke-width="0.9"/>
<polyline points="870.5,504.3 873,505.1 875.5,505.4" stroke-width="1"/>
<polyline points="875.5,505.4 878,503.7" stroke-width="0.9"/>
<polyline points="878,503.7 880.5,500.5" stroke-width="0.8"/>
<polyline points="880.5,500.5 883,496.6" stroke-width="0.9"/>
<polyline points="883,496.6 885.5,493.3 888,490.1 890.5,486.9 893,484 895.5,481.7" stroke-width="0.8"/>
<polyline points="895.5,481.7 898,482.5 900.5,483.1 903,482.9 905.5,482.7 908,482.3 910.5,481.9 913,481.5 915.5,481.1 918,480.6 920.5,480.2 923,479.8 925.5,479.6 928,479.3 930.5,479.2" stroke-width="1"/>
<polyline points="930.5,479.2 933,480.7" stroke-width="0.9"/>
<polyline points="933,480.7 935.5,483.6" stroke-width="0.8"/>
<polyline points="935.5,483.6 938,484.3 940.5,484.5 943,484.6 945.5,484.5 948,483.8" stroke-width="1"/>
<polyline points="948,483.8 950.5,482.6 953,481.2" stroke-width="0.9"/>
<polyline points="953,481.2 955.5,480.1 958,479.1" stroke-width="1"/>
<polyline points="958,479.1 960.5,477.8" stroke-width="0.9"/>
<polyline points="960.5,477.8 963,475.3" stroke-width="0.7"/>
<polyline points="963,475.3 965.5,470.5" stroke-width="0.9"/>
<polyline points="965.5,470.5 968,468.1" stroke-width="0.8"/>
<polyline points="968,468.1 970.5,467.7 973,467.4" stroke-width="1"/>
<polyline points="973,467.4 975.5,466" stroke-width="0.9"/>
<polyline points="975.5,466 978,463.9" stroke-width="0.8"/>
<polyline points="978,463.9 980.5,462.5" stroke-width="0.9"/>
<polyline points="980.5,462.5 983,462.7 985.5,463.4 988,464.1 990.5,464.4 993,463.6" stroke-width="1"/>
<polyline points="993,463.6 995.5,461.4 998,458.4 1000.5,455.3" stroke-width="0.8"/>
<polyline points="1000.5,455.3 1003,451.6 1005.5,447.1 1008,442" stroke-width="0.9"/>
<polyline points="1008,442 1010.5,435.2" stroke-width="1"/>
<polyline points="1010.5,435.2 1013,431" stroke-width="0.9"/>
<polyline points="1013,431 1015.5,428.7 1018,426.5 1020.5,423.5" stroke-width="0.8"/>
<polyline points="1020.5,423.5 1023,419.3 1025.5,414.5 1028,409.9 1030.5,405.4" stroke-width="0.9"/>
<polyline points="1030.5,405.4 1033,399.5 1035.5,389.9 1038,383.5" stroke-width="1"/>
<polyline points="1038,383.5 1040.5,378.7" stroke-width="0.9"/>
<polyline points="1040.5,378.7 1043,375.5 1045.5,373.1" stroke-width="0.8"/>
<polyline points="1045.5,373.1 1048,372" stroke-width="0.9"/>
<polyline points="1048,372 1050.5,371.5 1053,371.2 1055.5,371.2" stroke-width="1"/>
<polyline points="1055.5,371.2 1058,373.1" stroke-width="0.8"/>
<polyline points="1058,373.1 1060.5,379.1 1063,400.1 1065.5,423.4 1068,455.9 1070.5,469.4 1073,482.4 1075.5,495.6 1078,511.6 1080.5,530 1083,546.1 1085.5,559.4 1088,570.9 1090.5,581.7 1093,593.1 1095.5,605 1098,617.5 1100.5,631.7 1103,645 1105.5,655 1108,663.8 1110.5,673.6 1113,684.5" stroke-width="1"/>
<polyline points="1113,684.5 1115.5,689.5" stroke-width="0.9"/>
<polyline points="1115.5,689.5 1118,692.4" stroke-width="0.8"/>
<polyline points="1118,692.4 1120.5,694.9" stroke-width="0.7"/>
<polyline points="1120.5,694.9 1123,697" stroke-width="0.8"/>
<polyline points="1123,697 1125.5,698.7 1128,699.9" stroke-width="0.9"/>
<polyline points="1128,699.9 1130.5,700.7 1133,701 1135.5,700.9 1138,700.5 1140.5,699.6" stroke-width="1"/>
<polyline points="1140.5,699.6 1143,698.5 1145.5,697" stroke-width="0.9"/>
<polyline points="1145.5,697 1148,695.2 1150.5,693.1 1153,690.8 1155.5,688.2" stroke-width="0.8"/>
<polyline points="1155.5,688.2 1158,682 1160.5,673.3" stroke-width="1"/>
<polyline points="1160.5,673.3 1163,668.2" stroke-width="0.9"/>
<polyline points="1163,668.2 1165.5,665.8" stroke-width="0.7"/>
<polyline points="1165.5,665.8 1168,664" stroke-width="0.8"/>
<polyline points="1168,664 1170.5,663.2 1173,663.4 1175.5,663.9 1178,664.8" stroke-width="1"/>
<polyline points="1178,664.8 1180.5,666.7 1183,669.6" stroke-width="0.8"/>
<polyline points="1183,669.6 1185.5,675.6 1188,682.9" stroke-width="1"/>
<polyline points="1188,682.9 1190.5,687.8" stroke-width="0.9"/>
<polyline points="1190.5,687.8 1193,688.2 1195.5,688.2 1198,688.2 1200.5,687.1 1203,681.4 1205.5,673.8 1208,667.5" stroke-width="1"/>
<polyline points="1208,667.5 1210.5,662.5 1213,657.8 1215.5,652.9 1218,647.6" stroke-width="0.9"/>
<polyline points="1218,647.6 1220.5,641.9 1223,635.6 1225.5,627.9 1228,618.7 1230.5,608.9 1233,600.5 1235.5,593.7" stroke-width="1"/>
<polyline points="1235.5,593.7 1238,588.7 1240.5,585.2" stroke-width="0.9"/>
<polyline points="1240.5,585.2 1243,582.8" stroke-width="0.8"/>
<polyline points="1243,582.8 1245.5,581.3" stroke-width="0.9"/>
<polyline points="1245.5,581.3 1248,581.8" stroke-width="1"/>
<polyline points="1248,581.8 1250.5,583.8 1253,586.2" stroke-width="0.8"/>
<polyline points="1253,586.2 1255.5,587.6" stroke-width="0.9"/>
<polyline points="1255.5,587.6 1258,587.3 1260.5,587 1263,587 1265.5,587.2 1268,587.5 1270.5,587.9 1273,588.3 1275.5,588.8 1278,589.2 1280.5,589.5 1283,590 1285.5,590.7 1288,591.7" stroke-width="1"/>
<polyline points="1288,591.7 1290.5,592.9 1293,594.2 1295.5,595.6 1298,596.8" stroke-width="0.9"/>
<polyline points="1298,596.8 1300.5,597.5 1303,598.1 1305.5,598.4 1308,598.4 1310.5,597.8" stroke-width="1"/>
<polyline points="1310.5,597.8 1313,595.4" stroke-width="0.8"/>
<polyline points="1313,595.4 1315.5,590.8 1318,586.2 1320.5,580.7 1323,577" stroke-width="0.9"/>
<polyline points="1323,577 1325.5,573.4" stroke-width="0.8"/>
<polyline points="1325.5,573.4 1328,568.1" stroke-width="0.9"/>
<polyline points="1328,568.1 1330.5,561.8 1333,556" stroke-width="1"/>
<polyline points="1333,556 1335.5,551.8 1338,550.4" stroke-width="0.9"/>
<polyline points="1338,550.4 1340.5,549.6 1343,548.9" stroke-width="1"/>
<polyline points="1343,548.9 1345.5,547.8 1348,546.2" stroke-width="0.9"/>
<polyline points="1348,546.2 1350.5,544.2 1353,541.9 1355.5,538.7" stroke-width="0.8"/>
<polyline points="1355.5,538.7 1358,535.1" stroke-width="0.9"/>
<polyline points="1358,535.1 1360.5,531.7 1363,528.3 1365.5,525.5" stroke-width="0.8"/>
<polyline points="1365.5,525.5 1368,523" stroke-width="0.7"/>
<polyline points="1368,523 1370.5,521" stroke-width="0.8"/>
<polyline points="1370.5,521 1373,519.6" stroke-width="0.9"/>
<polyline points="1373,519.6 1375.5,518.7 1378,517.9 1380.5,516.9 1383,515.8" stroke-width="1"/>
<polyline points="1383,515.8 1385.5,514.5 1388,512.9" stroke-width="0.9"/>
<polyline points="1388,512.9 1390.5,510.7 1393,507.7" stroke-width="0.8"/>
<polyline points="1393,507.7 1395.5,502.2" stroke-width="0.9"/>
<polyline points="1395.5,502.2 1398,495.7" stroke-width="1"/>
<polyline points="1398,495.7 1400.5,491.4" stroke-width="0.9"/>
<polyline points="1400.5,491.4 1403,489.4" stroke-width="0.8"/>
<polyline points="1403,489.4 1405.5,489.7 1408,490.3" stroke-width="1"/>
<polyline points="1408,490.3 1410.5,493.1" stroke-width="0.8"/>
<polyline points="1410.5,493.1 1413,497.4 1415.5,502.1" stroke-width="0.9"/>
<polyline points="1415.5,502.1 1418,504.8" stroke-width="0.8"/>
<polyline points="1418,504.8 1420.5,505.3 1423,505.6 1425.5,505.8 1428,505.6 1430.5,505.3 1433,504.8 1435.5,504.2 1438,503.7 1440.5,502.9 1443,502.2 1445.5,501.9 1448,502.5 1450.5,503.3 1453,503.9 1455.5,504.2 1458,504.5 1460.5,504.7 1463,504.8 1465.5,504.8 1468,504.8 1470.5,504.8 1473,504.8 1475.5,504.8 1478,504.8 1480.5,504.8 1483,504.8 1485.5,504.3" stroke-width="1"/>
<polyline points="1485.5,504.3 1487.2,503.5" stroke-width="0.9"/>
</g>
<g fill="none" stroke="#000" shape-rendering="crispEdges">
<polyline points="2.9,145.8 5.9,145.8 8.9,145.8 11.9,145.8 14.9,145.8 17.9,145.8 20.9,145.8 23.9,145.8 26.9,145.5 29.9,145.1 32.9,144.6 35.9,144.1 38.9,143.8 41.9,143.6 44.9,143.4 47.9,143.3 50.9,143.1 53.9,143 56.9,142.9 59.9,142.8 62.9,142.7 65.9,142.6 68.9,142.6 71.9,142.5 74.9,142.4 77.9,142.4 80.9,142.3 83.9,142.3 86.9,142.3 89.9,142.4 92.9,142.5 95.9,142.7 98.9,142.9 101.9,143.2 104.9,143.5 107.9,143.9 110.9,144.2 113.9,144.5 116.9,144.8 119.9,145 122.9,145.4 125.9,145.7 128.9,146 131.9,146.3 134.9,146.7 137.9,147 140.9,147.3 143.9,147.7 146.9,148 149.9,148.4 152.9,148.8 155.9,149.2 158.9,149.5 161.9,149.8 164.9,150 167.9,150 170.9,150 173.9,150 176.9,150 179.9,150 182.9,150 185.9,149.7 188.9,149.4 191.9,149.1 194.9,148.7 197.9,148 200.9,147.3 203.9,146.6 206.9,145.9 209.9,145.3 212.9,144.8 215.9,144.2 218.9,143.6 221.9,143.1 224.9,142.6 227.9,142.2 230.9,141.7 233.9,141.3 236.9,141.2 239.9,141.2 242.9,141.2 245.9,141.2 248.9,141.2 251.9,141.2 254.9,141.2 257.9,141.2 260.9,141.2 263.9,141.2 266.9,141.2 269.9,141.3 272.9,141.5 275.9,141.8 278.9,142.1 281.9,142.4 284.9,142.6 287.9,142.9 290.9,143 293.9,143.1 296.9,143.1 299.9,143 302.9,143 305.9,142.9 308.9,142.8 311.9,142.7 314.9,142.6 317.9,142.4 320.9,142.2 323.9,142 326.9,141.7 329.9,141.4 332.9,141.2 335.9,141.2 338.9,141.2 341.9,141.2 344.9,141.3 347.9,141.3 350.9,141.4 353.9,141.6 356.9,142 359.9,142.8 362.9,143.8 365.9,144.9 368.9,145.9 371.9,146.7 374.9,147.3 377.9,148 380.9,148.6 383.9,149.2 386.9,149.8 389.9,150.5 392.9,151.3 395.9,152.2 398.9,153.4 401.9,154.6" stroke-width="1"/>
<polyline points="401.9,154.6 404.9,155.9 407.9,157.3 410.9,158.7 413.9,160.2 416.9,161.8 419.9,163.4 422.9,165.1 425.9,166.9 428.9,168.8 431.9,170.9" stroke-width="0.9"/>
<polyline points="431.9,170.9 434.9,173.1 437.9,175.5 440.9,177.9 443.9,180.3 446.9,182.7 449.9,185.2 452.9,187.8 455.9,190.4 458.9,192.9 461.9,195.3 464.9,197.4" stroke-width="0.8"/>
<polyline points="464.9,197.4 467.9,199.4 470.9,201.2 473.9,202.9 476.9,204.6 479.9,206.2 482.9,207.8 485.9,209.4 488.9,211 491.9,212.5 494.9,214 497.9,215.4 500.9,216.8" stroke-width="0.9"/>
<polyline points="500.9,216.8 503.9,218.1 506.9,219.4 509.9,220.6 512.9,221.8 515.9,223 518.9,224.1 521.9,225.2 524.9,226.3 527.9,227.4 530.9,228.5 533.9,229.5 536.9,230.6 539.9,231.6 542.9,232.6 545.9,233.6 548.9,234.5 551.9,235.5 554.9,236.4 557.9,237.4 560.9,238.3 563.9,239.2 566.9,240.1 569.9,241 572.9,241.8 575.9,242.7 578.9,243.6 581.9,244.5 584.9,245.3 587.9,246.2 590.9,247 593.9,247.9 596.9,248.7 599.9,249.4 602.9,250.2 605.9,250.8 608.9,251.5 611.9,252.1 614.9,252.7 617.9,253.3 620.9,253.9 623.9,254.4 626.9,255 629.9,255.5 632.9,256.1 635.9,256.6 638.9,257.2 641.9,257.7 644.9,258.2 647.9,258.7 650.9,259.2 653.9,259.7 656.9,260.2 659.9,260.6 662.9,261 665.9,261.4 668.9,261.8 671.9,262.3 674.9,262.8 677.9,263.3 680.9,263.9 683.9,264.5 686.9,265.3 689.9,266.1 692.9,267 695.9,267.9 698.9,268.8 701.9,269.7 704.9,270.6 707.9,271.6 710.9,272.6 713.9,273.5 716.9,274.4 719.9,275.3 722.9,276.1 725.9,276.9 728.9,277.6 731.9,278.3 734.9,279 737.9,279.7 740.9,280.4 743.9,281.2 746.9,281.9 749.9,282.5 752.9,283.2 755.9,283.7 758.9,284.2 761.9,284.6 764.9,285 767.9,285.4 770.9,285.8 773.9,286.1 776.9,286.5 779.9,286.8 782.9,287.1 785.9,287.4 788.9,287.6 791.9,287.9 794.9,288.2 797.9,288.6 800.9,288.9 803.9,289.2 806.9,289.6 809.9,290 812.9,290.7 815.9,291.5 818.9,292.5 821.9,293.4 824.9,294.3 827.9,295.2 830.9,296.1 833.9,297 836.9,297.9 839.9,298.8 842.9,299.8 845.9,300.7 848.9,301.8 851.9,302.8 854.9,303.9 857.9,304.9 860.9,306 863.9,307.2 866.9,308.4 869.9,309.6 872.9,310.8 875.9,312.1 878.9,313.3 881.9,314.4 884.9,315.5 887.9,316.6 890.9,317.7 893.9,318.7 896.9,319.7 899.9,320.7 902.9,321.6 905.9,322.5 908.9,323.3 911.9,324.2 914.9,325 917.9,325.8 920.9,326.5 923.9,327.3 926.9,328 929.9,328.8 932.9,329.5 935.9,330.2 938.9,330.8 941.9,331.5 944.9,332.2 947.9,332.8 950.9,333.4 953.9,334 956.9,334.5 959.9,334.9 962.9,335.3 965.9,335.6 968.9,335.9 971.9,336.2 974.9,336.4 977.9,336.6 980.9,336.7 983.9,336.9 986.9,337 989.9,337.1 992.9,337.2 995.9,337.3 998.9,337.4 1001.9,337.4 1004.9,337.5 1007.9,337.5 1010.9,337.6 1013.9,337.7 1016.9,337.7 1019.9,337.9 1022.9,338 1025.9,338.1 1028.9,338.3 1031.9,338.4 1034.9,338.5 1037.9,338.5 1040.9,338.5 1043.9,338.5 1046.9,338.5 1049.9,338.5 1052.9,338.6 1055.9,338.9 1058.9,339.2 1061.9,339.6 1064.9,340.5" stroke-width="1"/>
<polyline points="1064.9,340.5 1067.9,341.9 1070.9,343.4 1073.9,344.9" stroke-width="0.9"/>
<polyline points="1073.9,344.9 1076.9,346.2 1079.9,347.5 1082.9,348.8 1085.9,350.1" stroke-width="1"/>
<polyline points="1085.9,350.1 1088.9,351.5 1091.9,352.9 1094.9,354.5 1097.9,356.3 1100.9,358.3 1103.9,360.3 1106.9,362.4 1109.9,364.4 1112.9,366.3 1115.9,368.1 1118.9,369.7 1121.9,371.3 1124.9,372.9 1127.9,374.5 1130.9,376.2 1133.9,377.9 1136.9,379.7 1139.9,381.5 1142.9,383.3 1145.9,385.1 1148.9,386.9 1151.9,388.8 1154.9,390.7 1157.9,392.8 1160.9,394.8 1163.9,396.6 1166.9,398.1" stroke-width="0.9"/>
<polyline points="1166.9,398.1 1169.9,399.4 1172.9,400.5 1175.9,401.6 1178.9,402.6 1181.9,403.5 1184.9,404.5 1187.9,405.4 1190.9,406.3 1193.9,407.2 1196.9,408.1 1199.9,409 1202.9,409.9 1205.9,410.8 1208.9,411.6 1211.9,412.5 1214.9,413.3 1217.9,414.2 1220.9,415.1 1223.9,416.1 1226.9,417.3 1229.9,418.6" stroke-width="1"/>
<polyline points="1229.9,418.6 1232.9,420.1 1235.9,421.5 1238.9,423" stroke-width="0.9"/>
<polyline points="1238.9,423 1241.9,424.3 1244.9,425.4 1247.9,426.6 1250.9,427.7 1253.9,428.7 1256.9,429.5 1259.9,429.9 1262.9,430.1 1265.9,430.2 1268.9,430.5 1271.9,431 1274.9,431.7 1277.9,432.5 1280.9,433.4 1283.9,434.2 1286.9,434.9 1289.9,435.5 1292.9,436.1 1295.9,436.7 1298.9,437.2 1301.9,437.7 1304.9,438.2 1307.9,438.7 1310.9,439.2 1313.9,439.8 1316.9,440.3 1319.9,440.8 1322.9,441.1 1325.9,441.4 1328.9,441.5 1331.9,441.6 1334.9,441.7 1337.9,441.8 1340.9,441.9 1343.9,441.9 1346.9,441.9 1349.9,441.8 1352.9,441.7 1355.9,441.6 1358.9,441.5 1361.9,441.4 1364.9,441.3 1367.9,441.4 1370.9,441.5 1373.9,441.7 1376.9,441.9 1379.9,442.1 1382.9,442.3 1385.9,442.5 1388.9,442.7 1391.9,442.9 1394.9,443.2 1397.9,443.4 1400.9,443.7 1403.9,444 1406.9,444.3 1409.9,444.6 1412.9,444.9 1415.9,445.2 1418.9,445.5 1421.9,445.8 1424.9,446 1427.9,446.3 1430.9,446.6 1433.9,446.8 1436.9,447 1439.9,447.1 1442.9,447.1 1445.9,447.1 1448.9,447.1 1451.9,447.1 1454.9,447.1 1457.9,447.1 1460.9,447.1 1463.9,447.1 1466.9,447.1 1469.9,447.1 1472.9,447.1 1475.9,447.1 1478.9,447.1 1481.9,447.1 1484.9,447.2 1487.2,447.3" stroke-width="1"/>
</g>
<g fill="none" stroke="#00F000" shape-rendering="crispEdges">
<polyline points="2.9,129.2 5.9,129.5 8.9,129.7 11.9,129.8 14.9,129.8 17.9,129.8 20.9,129.8 23.9,129.5 26.9,129.1 29.9,128.6 32.9,128.1 35.9,127.6 38.9,127.3 41.9,126.9 44.9,126.5 47.9,126.2 50.9,125.8 53.9,125.5 56.9,125.3 59.9,125.1 62.9,125 65.9,125 68.9,125.1 71.9,125.2 74.9,125.3 77.9,125.5 80.9,125.7 83.9,125.9 86.9,126.2 89.9,126.9 92.9,127.7 95.9,128.6 98.9,129.5 101.9,130.3 104.9,131 107.9,131.8 110.9,132.5 113.9,133.3 116.9,134 119.9,134.8 122.9,135.5 125.9,136.3 128.9,137 131.9,137.7 134.9,138.5 137.9,139.3 140.9,140.1 143.9,140.9 146.9,141.8 149.9,142.7 152.9,143.5 155.9,144.3 158.9,145 161.9,145.7 164.9,146.4 167.9,147 170.9,147.6 173.9,148.1 176.9,148.4 179.9,148.4 182.9,147.8 185.9,146.7 188.9,145.5 191.9,144.4 194.9,143.5 197.9,142.6 200.9,141.7 203.9,140.8 206.9,139.9 209.9,139 212.9,138 215.9,136.8 218.9,135.6 221.9,134.3 224.9,133.3 227.9,132.4 230.9,131.7 233.9,131.1 236.9,131 239.9,131 242.9,131.1 245.9,131.3 248.9,131.5 251.9,131.7 254.9,131.9 257.9,132.2 260.9,132.6 263.9,133 266.9,133.5 269.9,134.1 272.9,134.6 275.9,135 278.9,135.6 281.9,136.2 284.9,136.8 287.9,137.2 290.9,137.6 293.9,137.7 296.9,137.7 299.9,137.6 302.9,137.6 305.9,137.5 308.9,137.4 311.9,137.3 314.9,137.2 317.9,136.9 320.9,136.4 323.9,135.9 326.9,135.4 329.9,135 332.9,134.8 335.9,134.5 338.9,134.4 341.9,134.3 344.9,134.3 347.9,134.8 350.9,135.6 353.9,136.6" stroke-width="1"/>
<polyline points="353.9,136.6 356.9,138 359.9,139.7 362.9,141.4 365.9,143 368.9,144.4" stroke-width="0.9"/>
<polyline points="368.9,144.4 371.9,145.7 374.9,147 377.9,148.3 380.9,149.6" stroke-width="1"/>
<polyline points="380.9,149.6 383.9,151" stroke-width="0.9"/>
<polyline points="383.9,151 386.9,152.3" stroke-width="1"/>
<polyline points="386.9,152.3 389.9,153.7 392.9,155.3 395.9,157.1" stroke-width="0.9"/>
<polyline points="395.9,157.1 398.9,159.5" stroke-width="0.8"/>
<polyline points="398.9,159.5 401.9,162.5" stroke-width="0.7"/>
<polyline points="401.9,162.5 404.9,165.8 407.9,169.1 410.9,172.3 413.9,175.6 416.9,179 419.9,182.5 422.9,185.9 425.9,189.3 428.9,192.5 431.9,195.8 434.9,199.1 437.9,202.6 440.9,206.4 443.9,210.6" stroke-width="0.8"/>
<polyline points="443.9,210.6 446.9,215" stroke-width="0.9"/>
<polyline points="446.9,215 449.9,219.3 452.9,223.1 455.9,226.7 458.9,230.3 461.9,234.2 464.9,238.1 467.9,241.9 470.9,245.3" stroke-width="0.8"/>
<polyline points="470.9,245.3 473.9,248.3" stroke-width="0.7"/>
<polyline points="473.9,248.3 476.9,251 479.9,253.6 482.9,256.2 485.9,258.8 488.9,261.3 491.9,263.8 494.9,266.1 497.9,268.5 500.9,270.9 503.9,273" stroke-width="0.8"/>
<polyline points="503.9,273 506.9,274.8 509.9,276.4 512.9,277.9 515.9,279.2" stroke-width="0.9"/>
<polyline points="515.9,279.2 518.9,280.5 521.9,281.7 524.9,282.8 527.9,283.8 530.9,284.9 533.9,286 536.9,287.2 539.9,288.3 542.9,289.5 545.9,290.6 548.9,291.6 551.9,292.6 554.9,293.5 557.9,294.5 560.9,295.4 563.9,296.2 566.9,297.1 569.9,297.9 572.9,298.7 575.9,299.6 578.9,300.4 581.9,301.3 584.9,302.1 587.9,303.1 590.9,304 593.9,304.8 596.9,305.3 599.9,305.7 602.9,306.1 605.9,306.5 608.9,306.8 611.9,307.1 614.9,307.4 617.9,307.7 620.9,307.9 623.9,308.2 626.9,308.3 629.9,308.5 632.9,308.5 635.9,308.6 638.9,308.6 641.9,308.7 644.9,308.7 647.9,308.8 650.9,309 653.9,309.5 656.9,310.2 659.9,310.9 662.9,311.6 665.9,312.2 668.9,312.8 671.9,313.3 674.9,313.7 677.9,314.1 680.9,314.3 683.9,314.5 686.9,314.7 689.9,315 692.9,315.5 695.9,316.6 698.9,317.9" stroke-width="1"/>
<polyline points="698.9,317.9 701.9,319.2" stroke-width="0.9"/>
<polyline points="701.9,319.2 704.9,320.5" stroke-width="1"/>
<polyline points="704.9,320.5 707.9,321.9 710.9,323.4" stroke-width="0.9"/>
<polyline points="710.9,323.4 713.9,324.6 716.9,325.8 719.9,326.8 722.9,327.8 725.9,328.7 728.9,329.5 731.9,330.2 734.9,331 737.9,331.7 740.9,332.5 743.9,333.3 746.9,334 749.9,334.4 752.9,334.4 755.9,334.4 758.9,334.4 761.9,334.4 764.9,334.4 767.9,334.4 770.9,334.4 773.9,334.4 776.9,334.4 779.9,334.4 782.9,334.4 785.9,334.4 788.9,334.4 791.9,334.3 794.9,334.2 797.9,334.1 800.9,333.7 803.9,333.3 806.9,333.4 809.9,333.6 812.9,334.1 815.9,335.2" stroke-width="1"/>
<polyline points="815.9,335.2 818.9,336.7 821.9,338.4 824.9,339.8 827.9,341.4 830.9,343 833.9,344.4" stroke-width="0.9"/>
<polyline points="833.9,344.4 836.9,345.7 839.9,346.8 842.9,347.9 845.9,349 848.9,350.1 851.9,351.3 854.9,352.5 857.9,353.8 860.9,355.2" stroke-width="1"/>
<polyline points="860.9,355.2 863.9,356.5 866.9,357.9 869.9,359.4 872.9,360.9 875.9,362.4 878.9,364 881.9,365.5 884.9,367.1 887.9,368.7 890.9,370.2 893.9,371.7" stroke-width="0.9"/>
<polyline points="893.9,371.7 896.9,372.9 899.9,374 902.9,374.9 905.9,375.8 908.9,376.7 911.9,377.6 914.9,378.5 917.9,379.4 920.9,380.3 923.9,381.2 926.9,381.9 929.9,382.5 932.9,383.1 935.9,383.6 938.9,384.1 941.9,384.5 944.9,384.9 947.9,385.3 950.9,385.7 953.9,386 956.9,386.1 959.9,386.1 962.9,386.1 965.9,385.9 968.9,385.8 971.9,385.6 974.9,385.2 977.9,384.7 980.9,384.2 983.9,383.7 986.9,383.2 989.9,382.6 992.9,382 995.9,381.4 998.9,380.9 1001.9,380.3 1004.9,379.7 1007.9,379.1 1010.9,378.6 1013.9,378.1 1016.9,377.6 1019.9,377.1 1022.9,376.7 1025.9,376.3 1028.9,376 1031.9,375.7 1034.9,375.5 1037.9,375.2 1040.9,375 1043.9,374.7 1046.9,374.6 1049.9,374.7 1052.9,374.9 1055.9,375.2 1058.9,375.6 1061.9,376.2 1064.9,377.3" stroke-width="1"/>
<polyline points="1064.9,377.3 1067.9,379.1 1070.9,380.9" stroke-width="0.9"/>
<polyline points="1070.9,380.9 1073.9,383.2 1076.9,385.8 1079.9,388.5 1082.9,391 1085.9,393.2 1088.9,395.4 1091.9,397.6 1094.9,400 1097.9,402.5 1100.9,405.1 1103.9,407.7 1106.9,410.5 1109.9,413.3" stroke-width="0.8"/>
<polyline points="1109.9,413.3 1112.9,416.2 1115.9,419.3 1118.9,422.3 1121.9,425.3" stroke-width="0.7"/>
<polyline points="1121.9,425.3 1124.9,428.1 1127.9,430.9 1130.9,433.7 1133.9,436.5 1136.9,439.3" stroke-width="0.8"/>
<polyline points="1136.9,439.3 1139.9,442.2 1142.9,445.2 1145.9,448.1" stroke-width="0.7"/>
<polyline points="1145.9,448.1 1148.9,450.8 1151.9,453.3 1154.9,455.6 1157.9,457.8" stroke-width="0.8"/>
<polyline points="1157.9,457.8 1160.9,459.9 1163.9,461.8 1166.9,463.5 1169.9,465 1172.9,466.5" stroke-width="0.9"/>
<polyline points="1172.9,466.5 1175.9,467.7 1178.9,468.9 1181.9,469.9 1184.9,470.8 1187.9,471.5 1190.9,472.1 1193.9,472.9 1196.9,473.9 1199.9,475.1 1202.9,476.3 1205.9,477.5 1208.9,478.6 1211.9,479.6 1214.9,480.6 1217.9,481.6 1220.9,482.6 1223.9,483.6 1226.9,484.7 1229.9,485.7 1232.9,486.8 1235.9,487.8 1238.9,488.9 1241.9,490 1244.9,491 1247.9,492.1 1250.9,493.2 1253.9,494.2 1256.9,495.4 1259.9,496.5 1262.9,497.3 1265.9,497.8 1268.9,498.2 1271.9,498.5 1274.9,498.8 1277.9,499 1280.9,499 1283.9,499 1286.9,499 1289.9,499 1292.9,499 1295.9,498.9 1298.9,498.7 1301.9,498.6 1304.9,498.5 1307.9,498.5 1310.9,498.5 1313.9,498.5 1316.9,498.5 1319.9,498.5 1322.9,498.4 1325.9,497.8 1328.9,496.8 1331.9,495.7 1334.9,494.7 1337.9,493.6 1340.9,492.6 1343.9,491.6 1346.9,490.9 1349.9,490.2 1352.9,489.7 1355.9,489.2 1358.9,488.7 1361.9,488.2 1364.9,487.8 1367.9,487.4 1370.9,487.1 1373.9,486.7 1376.9,486.4 1379.9,486 1382.9,485.7 1385.9,485.4 1388.9,485.1 1391.9,485 1394.9,484.9 1397.9,484.8 1400.9,484.7 1403.9,484.6 1406.9,484.6 1409.9,484.6 1412.9,484.6 1415.9,484.6 1418.9,484.6 1421.9,484.6 1424.9,484.6 1427.9,484.6 1430.9,484.5 1433.9,484.4 1436.9,484.2 1439.9,483.9 1442.9,483.2 1445.9,482.5 1448.9,481.8 1451.9,481.2 1454.9,480.6 1457.9,480.2 1460.9,479.9 1463.9,479.6 1466.9,479.3 1469.9,479.1 1472.9,478.9 1475.9,478.7 1478.9,478.5 1481.9,478.3 1484.9,478.1 1487.2,477.9" stroke-width="1"/>
</g>
<g fill="none" stroke="#FF0000" shape-rendering="crispEdges">
<polyline points="3.8,148.5 6.8,149.2 9.8,149.6 12.8,149.6 15.8,149.1 18.8,148.4 21.8,147.5 24.8,146.5" stroke-width="1"/>
<polyline points="24.8,146.5 27.8,145 30.8,143.3 33.8,141.6 36.8,140" stroke-width="0.9"/>
<polyline points="36.8,140 39.8,139 42.8,138.1 45.8,137.3 48.8,136.6 51.8,136 54.8,135.4 57.8,134.6 60.8,133.9 63.8,133.3 66.8,133.1 69.8,133.1 72.8,133.1 75.8,133.1 78.8,133.1 81.8,133.1 84.8,133.8" stroke-width="1"/>
<polyline points="84.8,133.8 87.8,136" stroke-width="0.8"/>
<polyline points="87.8,136 90.8,137.6" stroke-width="0.9"/>
<polyline points="90.8,137.6 93.8,138.4 96.8,139 99.8,139.5 102.8,140.1 105.8,140.8 108.8,141.8 111.8,143 114.8,144.2 117.8,145.6 120.8,146.8 123.8,148.2" stroke-width="1"/>
<polyline points="123.8,148.2 126.8,149.5 129.8,150.9" stroke-width="0.9"/>
<polyline points="129.8,150.9 132.8,152.2 135.8,153.4 138.8,154.5 141.8,155.6 144.8,156.7 147.8,157.7 150.8,158.7 153.8,159.6 156.8,160.6 159.8,161.5 162.8,162.4 165.8,163.2 168.8,163.8 171.8,164.3 174.8,164.7 177.8,164.7" stroke-width="1"/>
<polyline points="177.8,164.7 180.8,162.9" stroke-width="0.9"/>
<polyline points="180.8,162.9 183.8,160.7 186.8,158.4 189.8,155.9 192.8,153.4 195.8,150.8 198.8,148.2 201.8,145.7 204.8,143.6" stroke-width="0.8"/>
<polyline points="204.8,143.6 207.8,141.7 210.8,140.1 213.8,138.4 216.8,136.8 219.8,135.1 222.8,133.3 225.8,131.6 228.8,129.9 231.8,128.2 234.8,126.5" stroke-width="0.9"/>
<polyline points="234.8,126.5 237.8,126 240.8,125.8 243.8,126 246.8,126.8 249.8,128 252.8,129.2 255.8,130.2 258.8,130.9 261.8,131.6 264.8,132.3 267.8,133 270.8,133.8 273.8,134.6 276.8,135.7" stroke-width="1"/>
<polyline points="276.8,135.7 279.8,137.2 282.8,138.7 285.8,140.1" stroke-width="0.9"/>
<polyline points="285.8,140.1 288.8,141 291.8,141.4 294.8,141.7 297.8,141.9 300.8,141.9 303.8,141.5 306.8,140.8 309.8,140 312.8,139.2 315.8,138.4 318.8,137.3 321.8,136 324.8,134.9 327.8,134 330.8,133.5 333.8,133.5 336.8,133.5 339.8,133.5 342.8,133.5 345.8,133.8 348.8,135" stroke-width="1"/>
<polyline points="348.8,135 351.8,136.8 354.8,138.8" stroke-width="0.9"/>
<polyline points="354.8,138.8 357.8,141.5 360.8,144.8 363.8,148.1" stroke-width="0.8"/>
<polyline points="363.8,148.1 366.8,151.2" stroke-width="0.7"/>
<polyline points="366.8,151.2 369.8,154 372.8,156.6 375.8,159.2 378.8,161.8 381.8,164.4 384.8,166.8 387.8,169.3 390.8,171.7 393.8,174.4 396.8,177.1 399.8,180.5" stroke-width="0.8"/>
<polyline points="399.8,180.5 402.8,185.3 405.8,191 408.8,196.9 411.8,202.7 414.8,208.7 417.8,214.7 420.8,220.4 423.8,225.8 426.8,230.9 429.8,236.1 432.8,241.3 435.8,246.6 438.8,252.5 441.8,258.6 444.8,264.6 447.8,270.6 450.8,276.6 453.8,282.9 456.8,289.4 459.8,295.6 462.8,301.3 465.8,306.8 468.8,312.3 471.8,317.8 474.8,322.4" stroke-width="0.9"/>
<polyline points="474.8,322.4 477.8,326 480.8,329.2 483.8,332.4" stroke-width="0.8"/>
<polyline points="483.8,332.4 486.8,335.5" stroke-width="0.7"/>
<polyline points="486.8,335.5 489.8,338.3 492.8,340.7 495.8,342.9" stroke-width="0.8"/>
<polyline points="495.8,342.9 498.8,344.7 501.8,346.1" stroke-width="0.9"/>
<polyline points="501.8,346.1 504.8,347.3 507.8,348.2 510.8,348.7 513.8,349.1 516.8,349.4 519.8,349.7 522.8,350.1 525.8,350.4 528.8,350.7 531.8,351 534.8,351.3 537.8,351.5 540.8,351.7 543.8,351.9 546.8,352.1 549.8,352.2 552.8,352.4 555.8,352.5 558.8,352.6 561.8,352.7 564.8,352.9 567.8,353.3 570.8,354.4 573.8,354.6 576.8,354.5 579.8,354.3 582.8,354.2 585.8,354.6 588.8,355.7 591.8,356.1 594.8,355.3 597.8,354 600.8,353.1 603.8,352.4 606.8,351.7 609.8,350.9 612.8,350.1 615.8,349.2 618.8,348.2 621.8,347.3 624.8,346.3 627.8,345.3 630.8,344.1 633.8,343 636.8,342.2 639.8,341.8 642.8,341.5 645.8,341.2 648.8,341.2 651.8,341.5 654.8,342.3 657.8,343 660.8,343.4 663.8,343.8 666.8,344 669.8,343.9 672.8,343 675.8,342.1 678.8,341.2 681.8,340.4 684.8,340.2 687.8,340.4 690.8,340.7" stroke-width="1"/>
<polyline points="690.8,340.7 693.8,342.1" stroke-width="0.9"/>
<polyline points="693.8,342.1 696.8,345" stroke-width="0.7"/>
<polyline points="696.8,345 699.8,347.6 702.8,350 705.8,352.2 708.8,354.3" stroke-width="0.8"/>
<polyline points="708.8,354.3 711.8,356.4" stroke-width="0.9"/>
<polyline points="711.8,356.4 714.8,357.6 717.8,358.3 720.8,358.9 723.8,359.2 726.8,359.5 729.8,359.7 732.8,359.8 735.8,359.9 738.8,360.1 741.8,360.6 744.8,361 747.8,361.3 750.8,361.3 753.8,360.8 756.8,360.2 759.8,359.5 762.8,358.9 765.8,358.1 768.8,357.3 771.8,356.6 774.8,356 777.8,355.6 780.8,355.1 783.8,354.5 786.8,353.6 789.8,352.5 792.8,351.4 795.8,350.6 798.8,349.7 801.8,349.1 804.8,349.1 807.8,349.6 810.8,350.4 813.8,351.3 816.8,352.6" stroke-width="1"/>
<polyline points="816.8,352.6 819.8,354.2 822.8,356.1" stroke-width="0.9"/>
<polyline points="822.8,356.1 825.8,358.4" stroke-width="0.8"/>
<polyline points="825.8,358.4 828.8,361.5 831.8,364.5" stroke-width="0.7"/>
<polyline points="831.8,364.5 834.8,367" stroke-width="0.8"/>
<polyline points="834.8,367 837.8,368.7 840.8,370.2 843.8,371.5 846.8,373 849.8,374.4 852.8,375.8 855.8,377.4 858.8,379 861.8,380.9 864.8,382.9" stroke-width="0.9"/>
<polyline points="864.8,382.9 867.8,385 870.8,387.3 873.8,389.8 876.8,392.4 879.8,394.9 882.8,397.2 885.8,399.4" stroke-width="0.8"/>
<polyline points="885.8,399.4 888.8,401.5 891.8,403.2" stroke-width="0.9"/>
<polyline points="891.8,403.2 894.8,404.5 897.8,405.6 900.8,406.6 903.8,407.3 906.8,407.7 909.8,408.1 912.8,408.4 915.8,408.9 918.8,410" stroke-width="1"/>
<polyline points="918.8,410 921.8,411.4" stroke-width="0.9"/>
<polyline points="921.8,411.4 924.8,412.6 927.8,413.1 930.8,413.3 933.8,413.4 936.8,413.5 939.8,413.5 942.8,413.4 945.8,413.3 948.8,413.1 951.8,413 954.8,412.8 957.8,412.6 960.8,412.2 963.8,411.6 966.8,410.5" stroke-width="1"/>
<polyline points="966.8,410.5 969.8,409 972.8,407.5 975.8,406.1 978.8,404.6 981.8,403 984.8,401.5 987.8,400 990.8,398.4 993.8,396.9 996.8,395.5" stroke-width="0.9"/>
<polyline points="996.8,395.5 999.8,394.2 1002.8,393 1005.8,391.8 1008.8,390.5" stroke-width="1"/>
<polyline points="1008.8,390.5 1011.8,389.1 1014.8,387.7" stroke-width="0.9"/>
<polyline points="1014.8,387.7 1017.8,386.4 1020.8,385.2 1023.8,384.1 1026.8,383.1 1029.8,382.2 1032.8,381.5 1035.8,380.8 1038.8,380.1 1041.8,379.3 1044.8,378.6 1047.8,377.8 1050.8,377.1 1053.8,376.9 1056.8,377.3 1059.8,378.1" stroke-width="1"/>
<polyline points="1059.8,378.1 1062.8,379.8" stroke-width="0.9"/>
<polyline points="1062.8,379.8 1065.8,383.5 1068.8,387.1 1071.8,390.8 1074.8,394.7 1077.8,398.9" stroke-width="0.8"/>
<polyline points="1077.8,398.9 1080.8,403.3" stroke-width="0.9"/>
<polyline points="1080.8,403.3 1083.8,407.4 1086.8,411 1089.8,414.4 1092.8,418.1" stroke-width="0.8"/>
<polyline points="1092.8,418.1 1095.8,422.7 1098.8,428.2 1101.8,433.4 1104.8,438 1107.8,442.4 1110.8,446.8 1113.8,451.5 1116.8,456.6 1119.8,461.8 1122.8,466.7 1125.8,471.1" stroke-width="0.9"/>
<polyline points="1125.8,471.1 1128.8,475.1 1131.8,479.2" stroke-width="0.8"/>
<polyline points="1131.8,479.2 1134.8,483.6 1137.8,488.2 1140.8,492.6" stroke-width="0.9"/>
<polyline points="1140.8,492.6 1143.8,496.7 1146.8,500.8" stroke-width="0.8"/>
<polyline points="1146.8,500.8 1149.8,505.1 1152.8,509.5" stroke-width="0.9"/>
<polyline points="1152.8,509.5 1155.8,512.9" stroke-width="0.8"/>
<polyline points="1155.8,512.9 1158.8,515.8" stroke-width="0.7"/>
<polyline points="1158.8,515.8 1161.8,518.3" stroke-width="0.8"/>
<polyline points="1161.8,518.3 1164.8,520.2" stroke-width="0.9"/>
<polyline points="1164.8,520.2 1167.8,521.2 1170.8,521.8 1173.8,522.3 1176.8,522.7 1179.8,523.2 1182.8,523.7 1185.8,524.2 1188.8,524.7 1191.8,525 1194.8,525.2 1197.8,525.4 1200.8,525.7 1203.8,526.1 1206.8,526.7 1209.8,527.2 1212.8,527.7 1215.8,528 1218.8,528.3 1221.8,528.5 1224.8,528.8 1227.8,529.2 1230.8,529.8 1233.8,531 1236.8,532.2 1239.8,533.5 1242.8,534.6 1245.8,535.8 1248.8,536.9 1251.8,537.8 1254.8,538.9 1257.8,539.8 1260.8,540.2 1263.8,539.7 1266.8,538.7 1269.8,538.2 1272.8,537.8 1275.8,537.5 1278.8,537 1281.8,536.4 1284.8,535.6 1287.8,534.7 1290.8,533.7 1293.8,532.6 1296.8,531.3 1299.8,530 1302.8,528.8 1305.8,527.6 1308.8,526.5 1311.8,525.6 1314.8,524.9 1317.8,524.4 1320.8,524 1323.8,523.5 1326.8,522.6" stroke-width="1"/>
<polyline points="1326.8,522.6 1329.8,520.4 1332.8,517.6 1335.8,515 1338.8,512.5 1341.8,510.1 1344.8,507.8 1347.8,505.4 1350.8,503.2" stroke-width="0.8"/>
<polyline points="1350.8,503.2 1353.8,501.1 1356.8,499.2 1359.8,497.4 1362.8,495.7 1365.8,494.1" stroke-width="0.9"/>
<polyline points="1365.8,494.1 1368.8,493 1371.8,492.3 1374.8,491.7 1377.8,491.1 1380.8,490.5 1383.8,489.9 1386.8,489.2 1389.8,488.7 1392.8,488.2 1395.8,487.7 1398.8,487.3 1401.8,487 1404.8,486.8 1407.8,486.7 1410.8,486.6 1413.8,486.5 1416.8,486.5 1419.8,486.5 1422.8,486.5 1425.8,486.5 1428.8,486.5 1431.8,486.4 1434.8,486.3 1437.8,486.1 1440.8,485.1" stroke-width="1"/>
<polyline points="1440.8,485.1 1443.8,483.6" stroke-width="0.9"/>
<polyline points="1443.8,483.6 1446.8,482.3 1449.8,480.9 1452.8,479.7 1455.8,478.5 1458.8,477.5 1461.8,477.2 1464.8,477 1467.8,476.9 1470.8,476.8 1473.8,476.8 1476.8,476.7 1479.8,476.5 1482.8,476.2 1485.8,475.7 1487.2,475.4" stroke-width="1"/>
</g>
<g fill="none" stroke="#FFFF00" shape-rendering="crispEdges">
<polyline points="2.9,177.3 5.9,176.1" stroke-width="1"/>
<polyline points="5.9,176.1 8.9,174.6 11.9,172.9 14.9,170.8" stroke-width="0.9"/>
<polyline points="14.9,170.8 17.9,168.4 20.9,165.6" stroke-width="0.8"/>
<polyline points="20.9,165.6 23.9,162.6" stroke-width="0.7"/>
<polyline points="23.9,162.6 26.9,158.7" stroke-width="0.8"/>
<polyline points="26.9,158.7 29.9,154.3" stroke-width="0.9"/>
<polyline points="29.9,154.3 32.9,150.1 35.9,146.7" stroke-width="0.8"/>
<polyline points="35.9,146.7 38.9,143.7" stroke-width="0.7"/>
<polyline points="38.9,143.7 41.9,140.9 44.9,138.4 47.9,136.3" stroke-width="0.8"/>
<polyline points="47.9,136.3 50.9,134.4 53.9,132.7 56.9,131.1 59.9,129.7 62.9,128.4" stroke-width="0.9"/>
<polyline points="62.9,128.4 65.9,127.9 68.9,128.1 71.9,128.5 74.9,129.1 77.9,129.9 80.9,130.8" stroke-width="1"/>
<polyline points="80.9,130.8 83.9,132.3" stroke-width="0.9"/>
<polyline points="83.9,132.3 86.9,134.4 89.9,136.7 92.9,139.4 95.9,142.1 98.9,144.5 101.9,146.7 104.9,148.9 107.9,151.1 110.9,153.4 113.9,155.7 116.9,157.9 119.9,160.1 122.9,162.3 125.9,164.5" stroke-width="0.8"/>
<polyline points="125.9,164.5 128.9,166.4 131.9,167.8" stroke-width="0.9"/>
<polyline points="131.9,167.8 134.9,168.8 137.9,169.7 140.9,170.7 143.9,171.8" stroke-width="1"/>
<polyline points="143.9,171.8 146.9,173.1 149.9,174.5" stroke-width="0.9"/>
<polyline points="149.9,174.5 152.9,175.7 155.9,176.5 158.9,177 161.9,177.6 164.9,178.2 167.9,179 170.9,179.6 173.9,179.7" stroke-width="1"/>
<polyline points="173.9,179.7 176.9,177.7" stroke-width="0.9"/>
<polyline points="176.9,177.7 179.9,175 182.9,171.6" stroke-width="0.8"/>
<polyline points="182.9,171.6 185.9,167.2 188.9,161.3 191.9,154.7" stroke-width="0.9"/>
<polyline points="191.9,154.7 194.9,147.8 197.9,140.5" stroke-width="1"/>
<polyline points="197.9,140.5 200.9,135.3" stroke-width="0.9"/>
<polyline points="200.9,135.3 203.9,131.5" stroke-width="0.8"/>
<polyline points="203.9,131.5 206.9,128.4" stroke-width="0.7"/>
<polyline points="206.9,128.4 209.9,125.6 212.9,122.8 215.9,120.1 218.9,117.5 221.9,114.7" stroke-width="0.8"/>
<polyline points="221.9,114.7 224.9,111.6 227.9,108.5" stroke-width="0.7"/>
<polyline points="227.9,108.5 230.9,105.7" stroke-width="0.8"/>
<polyline points="230.9,105.7 233.9,102.6" stroke-width="0.7"/>
<polyline points="233.9,102.6 236.9,101.6 239.9,102.1" stroke-width="1"/>
<polyline points="239.9,102.1 242.9,105.2" stroke-width="0.7"/>
<polyline points="242.9,105.2 245.9,110.4" stroke-width="0.9"/>
<polyline points="245.9,110.4 248.9,114.2" stroke-width="0.8"/>
<polyline points="248.9,114.2 251.9,117.2" stroke-width="0.7"/>
<polyline points="251.9,117.2 254.9,119.9 257.9,122.3 260.9,124.6" stroke-width="0.8"/>
<polyline points="260.9,124.6 263.9,126.5 266.9,128.3 269.9,130.4" stroke-width="0.9"/>
<polyline points="269.9,130.4 272.9,133.2 275.9,136.9 278.9,140.6 281.9,143.3" stroke-width="0.8"/>
<polyline points="281.9,143.3 284.9,145.1 287.9,146.7" stroke-width="0.9"/>
<polyline points="287.9,146.7 290.9,147.9 293.9,148.3 296.9,147.8 299.9,146.7 302.9,145.5 305.9,144.4 308.9,143.1" stroke-width="1"/>
<polyline points="308.9,143.1 311.9,141.7 314.9,140.2 317.9,138.6 320.9,136.9 323.9,135.2" stroke-width="0.9"/>
<polyline points="323.9,135.2 326.9,133 329.9,130.4 332.9,128.1" stroke-width="0.8"/>
<polyline points="332.9,128.1 335.9,127.1 338.9,127.3 341.9,127.7 344.9,128.4" stroke-width="1"/>
<polyline points="344.9,128.4 347.9,130" stroke-width="0.9"/>
<polyline points="347.9,130 350.9,132.4" stroke-width="0.8"/>
<polyline points="350.9,132.4 353.9,136.9" stroke-width="0.9"/>
<polyline points="353.9,136.9 356.9,144.1 359.9,150.9" stroke-width="1"/>
<polyline points="359.9,150.9 362.9,157.1 365.9,163 368.9,168.4 371.9,173.5 374.9,178.4 377.9,183.2 380.9,187.8 383.9,192.1 386.9,196.5 389.9,201.2 392.9,206.1 395.9,211.1 398.9,216.7" stroke-width="0.9"/>
<polyline points="398.9,216.7 401.9,223.5 404.9,231.9 407.9,241.2 410.9,251.1 413.9,261.9 416.9,272.3 419.9,281.5 422.9,290.3 425.9,299.3 428.9,308.4 431.9,317.3 434.9,325.7 437.9,333.9 440.9,342.1 443.9,350.1 446.9,358.5 449.9,368.1 452.9,377.9 455.9,384.8" stroke-width="1"/>
<polyline points="455.9,384.8 458.9,390.4 461.9,396.5 464.9,402.4 467.9,408.1 470.9,412.6" stroke-width="0.9"/>
<polyline points="470.9,412.6 473.9,415" stroke-width="0.8"/>
<polyline points="473.9,415 476.9,416.7" stroke-width="0.9"/>
<polyline points="476.9,416.7 479.9,418 482.9,419.2 485.9,420.1 488.9,420.4 491.9,420.1 494.9,419.6 497.9,418.8" stroke-width="1"/>
<polyline points="497.9,418.8 500.9,417.2 503.9,415.5 506.9,413.8 509.9,411.9" stroke-width="0.9"/>
<polyline points="509.9,411.9 512.9,409.2 515.9,405.2 518.9,401.4 521.9,398.5 524.9,395.9 527.9,393.6 530.9,391.3 533.9,389 536.9,386.8" stroke-width="0.8"/>
<polyline points="536.9,386.8 539.9,385 542.9,383.6" stroke-width="0.9"/>
<polyline points="542.9,383.6 545.9,382.4 548.9,381.3 551.9,380.1" stroke-width="1"/>
<polyline points="551.9,380.1 554.9,378.6 557.9,376.9 560.9,375.3 563.9,373.9" stroke-width="0.9"/>
<polyline points="563.9,373.9 566.9,372.8 569.9,372.1 572.9,371.9 575.9,371.9 578.9,371.9 581.9,370.8" stroke-width="1"/>
<polyline points="581.9,370.8 584.9,367.6" stroke-width="0.8"/>
<polyline points="584.9,367.6 587.9,366.2" stroke-width="0.9"/>
<polyline points="587.9,366.2 590.9,368.7" stroke-width="0.8"/>
<polyline points="590.9,368.7 593.9,369.9" stroke-width="1"/>
<polyline points="593.9,369.9 596.9,367.2 599.9,363.3 602.9,360.5 605.9,358 608.9,355.7" stroke-width="0.8"/>
<polyline points="608.9,355.7 611.9,353.7 614.9,352 617.9,350.3 620.9,348.6 623.9,346.6" stroke-width="0.9"/>
<polyline points="623.9,346.6 626.9,344.3 629.9,342 632.9,339.6 635.9,337.3" stroke-width="0.8"/>
<polyline points="635.9,337.3 638.9,335.4 641.9,333.6 644.9,332.3" stroke-width="0.9"/>
<polyline points="644.9,332.3 647.9,332.1" stroke-width="1"/>
<polyline points="647.9,332.1 650.9,334 653.9,336.1 656.9,338.1 659.9,339.9 662.9,341.4" stroke-width="0.9"/>
<polyline points="662.9,341.4 665.9,342.7 668.9,343" stroke-width="1"/>
<polyline points="668.9,343 671.9,341.3" stroke-width="0.9"/>
<polyline points="671.9,341.3 674.9,338.9" stroke-width="0.8"/>
<polyline points="674.9,338.9 677.9,337 680.9,335.1" stroke-width="0.9"/>
<polyline points="680.9,335.1 683.9,334.4 686.9,334.8 689.9,335.8" stroke-width="1"/>
<polyline points="689.9,335.8 692.9,338" stroke-width="0.8"/>
<polyline points="692.9,338 695.9,343.2 698.9,347.7" stroke-width="0.9"/>
<polyline points="698.9,347.7 701.9,351.8 704.9,356" stroke-width="0.8"/>
<polyline points="704.9,356 707.9,360.4 710.9,365.6" stroke-width="0.9"/>
<polyline points="710.9,365.6 713.9,369.6 716.9,372" stroke-width="0.8"/>
<polyline points="716.9,372 719.9,373.8" stroke-width="0.9"/>
<polyline points="719.9,373.8 722.9,374.2 725.9,373.6 728.9,372.7 731.9,371.9 734.9,370.9 737.9,370.1 740.9,370.3" stroke-width="1"/>
<polyline points="740.9,370.3 743.9,371.8" stroke-width="0.9"/>
<polyline points="743.9,371.8 746.9,372.9 749.9,372.2" stroke-width="1"/>
<polyline points="749.9,372.2 752.9,370.5 755.9,368.5 758.9,366.5" stroke-width="0.9"/>
<polyline points="758.9,366.5 761.9,364.1 764.9,361.9" stroke-width="0.8"/>
<polyline points="764.9,361.9 767.9,359.9 770.9,358 773.9,356.6" stroke-width="0.9"/>
<polyline points="773.9,356.6 776.9,355.6 779.9,354.8 782.9,353.9" stroke-width="1"/>
<polyline points="782.9,353.9 785.9,352.5 788.9,350.6 791.9,348.6 794.9,346.8" stroke-width="0.9"/>
<polyline points="794.9,346.8 797.9,344.6" stroke-width="0.8"/>
<polyline points="797.9,344.6 800.9,342.9" stroke-width="0.9"/>
<polyline points="800.9,342.9 803.9,342.3 806.9,343.1" stroke-width="1"/>
<polyline points="806.9,343.1 809.9,344.6" stroke-width="0.9"/>
<polyline points="809.9,344.6 812.9,346.8" stroke-width="0.8"/>
<polyline points="812.9,346.8 815.9,351.2 818.9,356.5 821.9,361.6 824.9,367 827.9,372.1 830.9,377 833.9,381.3" stroke-width="0.9"/>
<polyline points="833.9,381.3 836.9,384.3" stroke-width="0.7"/>
<polyline points="836.9,384.3 839.9,386.5" stroke-width="0.8"/>
<polyline points="839.9,386.5 842.9,388.5" stroke-width="0.9"/>
<polyline points="842.9,388.5 845.9,390.6 848.9,393.2 851.9,395.9 854.9,398.7 857.9,401.6" stroke-width="0.8"/>
<polyline points="857.9,401.6 860.9,404.5 863.9,407.5 866.9,410.6 869.9,413.6 872.9,416.5 875.9,419.5 878.9,422.5" stroke-width="0.7"/>
<polyline points="878.9,422.5 881.9,425.7 884.9,429.4 887.9,432.7" stroke-width="0.8"/>
<polyline points="887.9,432.7 890.9,434.7 893.9,436.1" stroke-width="0.9"/>
<polyline points="893.9,436.1 896.9,437.4 899.9,438.6 902.9,439 905.9,437.7" stroke-width="1"/>
<polyline points="905.9,437.7 908.9,436" stroke-width="0.9"/>
<polyline points="908.9,436 911.9,435.2 914.9,435.4 917.9,435.9 920.9,436.4 923.9,436.5 926.9,436.4 929.9,436.2 932.9,435.3" stroke-width="1"/>
<polyline points="932.9,435.3 935.9,432.6 938.9,430.3" stroke-width="0.8"/>
<polyline points="938.9,430.3 941.9,428.8" stroke-width="0.9"/>
<polyline points="941.9,428.8 944.9,427.8 947.9,427.3 950.9,427.2 953.9,426.9 956.9,425.9" stroke-width="1"/>
<polyline points="956.9,425.9 959.9,423.8" stroke-width="0.9"/>
<polyline points="959.9,423.8 962.9,421.4 965.9,418.7 968.9,415.6" stroke-width="0.8"/>
<polyline points="968.9,415.6 971.9,412.5 974.9,409.6 977.9,406.6" stroke-width="0.7"/>
<polyline points="977.9,406.6 980.9,403.3 983.9,399.7 986.9,396 989.9,392.3 992.9,388.4 995.9,384.7 998.9,381.4" stroke-width="0.8"/>
<polyline points="998.9,381.4 1001.9,378.3" stroke-width="0.7"/>
<polyline points="1001.9,378.3 1004.9,375.9" stroke-width="0.8"/>
<polyline points="1004.9,375.9 1007.9,373.8 1010.9,372.1 1013.9,370.5" stroke-width="0.9"/>
<polyline points="1013.9,370.5 1016.9,369.3 1019.9,368.2 1022.9,367.3 1025.9,366.4 1028.9,365.2 1031.9,363.9 1034.9,362.8 1037.9,362 1040.9,361.4 1043.9,361.2 1046.9,361.2 1049.9,361.5 1052.9,361.9 1055.9,363.1" stroke-width="1"/>
<polyline points="1055.9,363.1 1058.9,365.8 1061.9,369.6" stroke-width="0.8"/>
<polyline points="1061.9,369.6 1064.9,376.2" stroke-width="0.9"/>
<polyline points="1064.9,376.2 1067.9,383.4 1070.9,390.7 1073.9,398.4 1076.9,407.1 1079.9,416.4 1082.9,425 1085.9,432.5 1088.9,439.9 1091.9,447.3 1094.9,455.3 1097.9,467.6 1100.9,476.9 1103.9,484 1106.9,491.5 1109.9,499.1 1112.9,506.4 1115.9,513.3" stroke-width="1"/>
<polyline points="1115.9,513.3 1118.9,519.9" stroke-width="0.9"/>
<polyline points="1118.9,519.9 1121.9,526.9 1124.9,534.2 1127.9,541.2" stroke-width="1"/>
<polyline points="1127.9,541.2 1130.9,547.2 1133.9,552.6 1136.9,558.3 1139.9,564.5 1142.9,570.5 1145.9,575.8 1148.9,580.7" stroke-width="0.9"/>
<polyline points="1148.9,580.7 1151.9,583.8" stroke-width="0.7"/>
<polyline points="1151.9,583.8 1154.9,585.6" stroke-width="0.9"/>
<polyline points="1154.9,585.6 1157.9,586.4 1160.9,586.8 1163.9,586.9 1166.9,585.8" stroke-width="1"/>
<polyline points="1166.9,585.8 1169.9,582.3 1172.9,579.5 1175.9,576.9 1178.9,574.3 1181.9,571.7 1184.9,569.3" stroke-width="0.8"/>
<polyline points="1184.9,569.3 1187.9,567.1 1190.9,565.6 1193.9,564.2 1196.9,562.3" stroke-width="0.9"/>
<polyline points="1196.9,562.3 1199.9,559.2" stroke-width="0.7"/>
<polyline points="1199.9,559.2 1202.9,557" stroke-width="0.8"/>
<polyline points="1202.9,557 1205.9,556.6 1208.9,556.5 1211.9,556.3 1214.9,555.7 1217.9,554.6 1220.9,553.6 1223.9,552.6 1226.9,551.8 1229.9,552 1232.9,553.2" stroke-width="1"/>
<polyline points="1232.9,553.2 1235.9,554.6" stroke-width="0.9"/>
<polyline points="1235.9,554.6 1238.9,555.5 1241.9,556.4 1244.9,557.3 1247.9,558.3 1250.9,559.5 1253.9,560.3 1256.9,560" stroke-width="1"/>
<polyline points="1256.9,560 1259.9,557.9" stroke-width="0.9"/>
<polyline points="1259.9,557.9 1262.9,555.6" stroke-width="0.8"/>
<polyline points="1262.9,555.6 1265.9,554 1268.9,552.4 1271.9,550.5 1274.9,548.6" stroke-width="0.9"/>
<polyline points="1274.9,548.6 1277.9,546.4 1280.9,544.1 1283.9,541.4" stroke-width="0.8"/>
<polyline points="1283.9,541.4 1286.9,538.5" stroke-width="0.7"/>
<polyline points="1286.9,538.5 1289.9,535.7 1292.9,533 1295.9,530.4 1298.9,527.9 1301.9,525.5 1304.9,523.3 1307.9,521.1" stroke-width="0.8"/>
<polyline points="1307.9,521.1 1310.9,519.1 1313.9,517.4" stroke-width="0.9"/>
<polyline points="1313.9,517.4 1316.9,516.3 1319.9,515.5 1322.9,514.7 1325.9,513.4" stroke-width="1"/>
<polyline points="1325.9,513.4 1328.9,510.3" stroke-width="0.7"/>
<polyline points="1328.9,510.3 1331.9,506 1334.9,501.7 1337.9,497.1 1340.9,492.6" stroke-width="0.9"/>
<polyline points="1340.9,492.6 1343.9,488.6 1346.9,484.9 1349.9,481.4 1352.9,477.8 1355.9,474.6 1358.9,471.9 1361.9,469.5" stroke-width="0.8"/>
<polyline points="1361.9,469.5 1364.9,468" stroke-width="0.9"/>
<polyline points="1364.9,468 1367.9,467 1370.9,466.4 1373.9,466.4 1376.9,466.7 1379.9,467 1382.9,467.3 1385.9,467.4 1388.9,467.5 1391.9,467.6 1394.9,467.7 1397.9,467.9 1400.9,468.1 1403.9,468.4 1406.9,469" stroke-width="1"/>
<polyline points="1406.9,469 1409.9,470.9" stroke-width="0.9"/>
<polyline points="1409.9,470.9 1412.9,473.4" stroke-width="0.8"/>
<polyline points="1412.9,473.4 1415.9,474.7 1418.9,475.6 1421.9,476 1424.9,475.6 1427.9,474.8 1430.9,474.1 1433.9,473.8 1436.9,473.6 1439.9,473.3 1442.9,472.4" stroke-width="1"/>
<polyline points="1442.9,472.4 1445.9,470.4" stroke-width="0.9"/>
<polyline points="1445.9,470.4 1448.9,468.2 1451.9,466.1" stroke-width="0.8"/>
<polyline points="1451.9,466.1 1454.9,464.1" stroke-width="0.9"/>
<polyline points="1454.9,464.1 1457.9,463 1460.9,462.3 1463.9,461.9 1466.9,462.1 1469.9,462.7 1472.9,463.3 1475.9,464.5 1478.9,465.3 1481.9,465.3 1484.9,464.7 1487.2,463.8" stroke-width="1"/>
</g>
<g shape-rendering="crispEdges">
<rect x="3" y="146" width="1" height="19" fill="#02B1DC"/>
<rect x="2" y="159" width="3" height="3" fill="#02B1DC"/>
<rect x="3" y="160" width="1" height="1" fill="#fff"/>
<rect x="7" y="159" width="1" height="22" fill="#404040"/>
<rect x="6" y="164" width="3" height="3" fill="#404040"/>
<rect x="11" y="153" width="1" height="21" fill="#02B1DC"/>
<rect x="10" y="155" width="3" height="16" fill="#02B1DC"/>
<rect x="11" y="156" width="1" height="14" fill="#fff"/>
<rect x="15" y="122" width="1" height="30" fill="#02B1DC"/>
<rect x="14" y="129" width="3" height="19" fill="#02B1DC"/>
<rect x="15" y="130" width="1" height="17" fill="#fff"/>
<rect x="19" y="122" width="1" height="20" fill="#404040"/>
<rect x="18" y="131" width="3" height="11" fill="#404040"/>
<rect x="23" y="123" width="1" height="15" fill="#02B1DC"/>
<rect x="22" y="125" width="3" height="10" fill="#02B1DC"/>
<rect x="23" y="126" width="1" height="8" fill="#fff"/>
<rect x="27" y="112" width="1" height="12" fill="#02B1DC"/>
<rect x="26" y="117" width="3" height="7" fill="#02B1DC"/>
<rect x="27" y="118" width="1" height="5" fill="#fff"/>
<rect x="31" y="99" width="1" height="26" fill="#02B1DC"/>
<rect x="30" y="104" width="3" height="21" fill="#02B1DC"/>
<rect x="31" y="105" width="1" height="19" fill="#fff"/>
<rect x="35" y="70" width="1" height="30" fill="#02B1DC"/>
<rect x="34" y="76" width="3" height="23" fill="#02B1DC"/>
<rect x="35" y="77" width="1" height="21" fill="#fff"/>
<rect x="39" y="62" width="1" height="23" fill="#02B1DC"/>
<rect x="38" y="76" width="3" height="4" fill="#02B1DC"/>
<rect x="39" y="77" width="1" height="2" fill="#fff"/>
<rect x="43" y="96" width="1" height="32" fill="#404040"/>
<rect x="42" y="100" width="3" height="17" fill="#404040"/>
<rect x="47" y="102" width="1" height="18" fill="#02B1DC"/>
<rect x="46" y="108" width="3" height="11" fill="#02B1DC"/>
<rect x="47" y="109" width="1" height="9" fill="#fff"/>
<rect x="51" y="103" width="1" height="15" fill="#02B1DC"/>
<rect x="50" y="113" width="3" height="3" fill="#02B1DC"/>
<rect x="51" y="114" width="1" height="1" fill="#fff"/>
<rect x="55" y="102" width="1" height="13" fill="#02B1DC"/>
<rect x="54" y="109" width="3" height="5" fill="#02B1DC"/>
<rect x="55" y="110" width="1" height="3" fill="#fff"/>
<rect x="59" y="103" width="1" height="20" fill="#02B1DC"/>
<rect x="58" y="110" width="3" height="1" fill="#02B1DC"/>
<rect x="63" y="104" width="1" height="11" fill="#404040"/>
<rect x="62" y="110" width="3" height="2" fill="#404040"/>
<rect x="67" y="117" width="1" height="30" fill="#404040"/>
<rect x="66" y="123" width="3" height="19" fill="#404040"/>
<rect x="71" y="126" width="1" height="21" fill="#02B1DC"/>
<rect x="70" y="136" width="3" height="10" fill="#02B1DC"/>
<rect x="71" y="137" width="1" height="8" fill="#fff"/>
<rect x="75" y="114" width="1" height="32" fill="#404040"/>
<rect x="74" y="126" width="3" height="10" fill="#404040"/>
<rect x="79" y="127" width="1" height="32" fill="#404040"/>
<rect x="78" y="130" width="3" height="24" fill="#404040"/>
<rect x="83" y="112" width="1" height="24" fill="#02B1DC"/>
<rect x="82" y="115" width="3" height="8" fill="#02B1DC"/>
<rect x="83" y="116" width="1" height="6" fill="#fff"/>
<rect x="87" y="115" width="1" height="59" fill="#404040"/>
<rect x="86" y="116" width="3" height="55" fill="#404040"/>
<rect x="91" y="163" width="1" height="35" fill="#404040"/>
<rect x="90" y="169" width="3" height="17" fill="#404040"/>
<rect x="95" y="165" width="1" height="28" fill="#02B1DC"/>
<rect x="94" y="167" width="3" height="21" fill="#02B1DC"/>
<rect x="95" y="168" width="1" height="19" fill="#fff"/>
<rect x="99" y="154" width="1" height="13" fill="#02B1DC"/>
<rect x="98" y="159" width="3" height="7" fill="#02B1DC"/>
<rect x="99" y="160" width="1" height="5" fill="#fff"/>
<rect x="103" y="174" width="1" height="15" fill="#02B1DC"/>
<rect x="102" y="180" width="3" height="2" fill="#02B1DC"/>
<rect x="107" y="186" width="1" height="30" fill="#02B1DC"/>
<rect x="106" y="191" width="3" height="22" fill="#02B1DC"/>
<rect x="107" y="192" width="1" height="20" fill="#fff"/>
<rect x="111" y="187" width="1" height="21" fill="#02B1DC"/>
<rect x="110" y="188" width="3" height="2" fill="#02B1DC"/>
<rect x="115" y="174" width="1" height="22" fill="#02B1DC"/>
<rect x="114" y="181" width="3" height="13" fill="#02B1DC"/>
<rect x="115" y="182" width="1" height="11" fill="#fff"/>
<rect x="119" y="182" width="1" height="17" fill="#404040"/>
<rect x="118" y="183" width="3" height="6" fill="#404040"/>
<rect x="123" y="185" width="1" height="18" fill="#404040"/>
<rect x="122" y="191" width="3" height="3" fill="#404040"/>
<rect x="127" y="189" width="1" height="20" fill="#02B1DC"/>
<rect x="126" y="198" width="3" height="2" fill="#02B1DC"/>
<rect x="131" y="173" width="1" height="28" fill="#02B1DC"/>
<rect x="130" y="177" width="3" height="21" fill="#02B1DC"/>
<rect x="131" y="178" width="1" height="19" fill="#fff"/>
<rect x="135" y="171" width="1" height="26" fill="#404040"/>
<rect x="134" y="180" width="3" height="6" fill="#404040"/>
<rect x="139" y="168" width="1" height="32" fill="#02B1DC"/>
<rect x="138" y="178" width="3" height="14" fill="#02B1DC"/>
<rect x="139" y="179" width="1" height="12" fill="#fff"/>
<rect x="143" y="174" width="1" height="18" fill="#02B1DC"/>
<rect x="142" y="186" width="3" height="4" fill="#02B1DC"/>
<rect x="143" y="187" width="1" height="2" fill="#fff"/>
<rect x="147" y="188" width="1" height="23" fill="#404040"/>
<rect x="146" y="188" width="3" height="11" fill="#404040"/>
<rect x="151" y="182" width="1" height="32" fill="#02B1DC"/>
<rect x="150" y="196" width="3" height="9" fill="#02B1DC"/>
<rect x="151" y="197" width="1" height="7" fill="#fff"/>
<rect x="155" y="189" width="1" height="17" fill="#02B1DC"/>
<rect x="154" y="192" width="3" height="4" fill="#02B1DC"/>
<rect x="155" y="193" width="1" height="2" fill="#fff"/>
<rect x="159" y="180" width="1" height="15" fill="#02B1DC"/>
<rect x="158" y="182" width="3" height="12" fill="#02B1DC"/>
<rect x="159" y="183" width="1" height="10" fill="#fff"/>
<rect x="163" y="174" width="1" height="17" fill="#404040"/>
<rect x="162" y="190" width="3" height="1" fill="#404040"/>
<rect x="167" y="180" width="1" height="11" fill="#404040"/>
<rect x="166" y="184" width="3" height="6" fill="#404040"/>
<rect x="171" y="172" width="1" height="20" fill="#02B1DC"/>
<rect x="170" y="183" width="3" height="8" fill="#02B1DC"/>
<rect x="171" y="184" width="1" height="6" fill="#fff"/>
<rect x="175" y="172" width="1" height="20" fill="#02B1DC"/>
<rect x="174" y="178" width="3" height="4" fill="#02B1DC"/>
<rect x="175" y="179" width="1" height="2" fill="#fff"/>
<rect x="179" y="140" width="1" height="37" fill="#02B1DC"/>
<rect x="178" y="142" width="3" height="33" fill="#02B1DC"/>
<rect x="179" y="143" width="1" height="31" fill="#fff"/>
<rect x="183" y="112" width="1" height="35" fill="#02B1DC"/>
<rect x="182" y="121" width="3" height="22" fill="#02B1DC"/>
<rect x="183" y="122" width="1" height="20" fill="#fff"/>
<rect x="187" y="89" width="1" height="20" fill="#02B1DC"/>
<rect x="186" y="96" width="3" height="7" fill="#02B1DC"/>
<rect x="187" y="97" width="1" height="5" fill="#fff"/>
<rect x="191" y="84" width="1" height="22" fill="#02B1DC"/>
<rect x="190" y="98" width="3" height="4" fill="#02B1DC"/>
<rect x="191" y="99" width="1" height="2" fill="#fff"/>
<rect x="195" y="35" width="1" height="37" fill="#02B1DC"/>
<rect x="194" y="44" width="3" height="3" fill="#02B1DC"/>
<rect x="195" y="45" width="1" height="1" fill="#fff"/>
<rect x="199" y="41" width="1" height="21" fill="#404040"/>
<rect x="198" y="42" width="3" height="18" fill="#404040"/>
<rect x="203" y="55" width="1" height="19" fill="#02B1DC"/>
<rect x="202" y="64" width="3" height="8" fill="#02B1DC"/>
<rect x="203" y="65" width="1" height="6" fill="#fff"/>
<rect x="207" y="64" width="1" height="34" fill="#404040"/>
<rect x="206" y="78" width="3" height="15" fill="#404040"/>
<rect x="211" y="70" width="1" height="21" fill="#02B1DC"/>
<rect x="210" y="87" width="3" height="4" fill="#02B1DC"/>
<rect x="211" y="88" width="1" height="2" fill="#fff"/>
<rect x="215" y="92" width="1" height="20" fill="#02B1DC"/>
<rect x="214" y="94" width="3" height="4" fill="#02B1DC"/>
<rect x="215" y="95" width="1" height="2" fill="#fff"/>
<rect x="219" y="75" width="1" height="20" fill="#02B1DC"/>
<rect x="218" y="81" width="3" height="9" fill="#02B1DC"/>
<rect x="219" y="82" width="1" height="7" fill="#fff"/>
<rect x="223" y="42" width="1" height="26" fill="#02B1DC"/>
<rect x="222" y="57" width="3" height="9" fill="#02B1DC"/>
<rect x="223" y="58" width="1" height="7" fill="#fff"/>
<rect x="227" y="50" width="1" height="22" fill="#404040"/>
<rect x="226" y="59" width="3" height="3" fill="#404040"/>
<rect x="231" y="56" width="1" height="27" fill="#404040"/>
<rect x="230" y="61" width="3" height="20" fill="#404040"/>
<rect x="235" y="58" width="1" height="28" fill="#02B1DC"/>
<rect x="234" y="67" width="3" height="3" fill="#02B1DC"/>
<rect x="235" y="68" width="1" height="1" fill="#fff"/>
<rect x="239" y="50" width="1" height="36" fill="#404040"/>
<rect x="238" y="63" width="3" height="20" fill="#404040"/>
<rect x="243" y="103" width="1" height="47" fill="#404040"/>
<rect x="242" y="107" width="3" height="41" fill="#404040"/>
<rect x="247" y="139" width="1" height="25" fill="#404040"/>
<rect x="246" y="145" width="3" height="13" fill="#404040"/>
<rect x="251" y="153" width="1" height="28" fill="#404040"/>
<rect x="250" y="155" width="3" height="21" fill="#404040"/>
<rect x="255" y="162" width="1" height="24" fill="#02B1DC"/>
<rect x="254" y="164" width="3" height="10" fill="#02B1DC"/>
<rect x="255" y="165" width="1" height="8" fill="#fff"/>
<rect x="259" y="137" width="1" height="31" fill="#404040"/>
<rect x="258" y="155" width="3" height="6" fill="#404040"/>
<rect x="263" y="142" width="1" height="21" fill="#404040"/>
<rect x="262" y="154" width="3" height="5" fill="#404040"/>
<rect x="267" y="146" width="1" height="27" fill="#02B1DC"/>
<rect x="266" y="153" width="3" height="7" fill="#02B1DC"/>
<rect x="267" y="154" width="1" height="5" fill="#fff"/>
<rect x="271" y="127" width="1" height="24" fill="#404040"/>
<rect x="270" y="136" width="3" height="13" fill="#404040"/>
<rect x="275" y="160" width="1" height="29" fill="#02B1DC"/>
<rect x="274" y="163" width="3" height="3" fill="#02B1DC"/>
<rect x="275" y="164" width="1" height="1" fill="#fff"/>
<rect x="279" y="150" width="1" height="37" fill="#404040"/>
<rect x="278" y="158" width="3" height="28" fill="#404040"/>
<rect x="283" y="168" width="1" height="41" fill="#02B1DC"/>
<rect x="282" y="172" width="3" height="29" fill="#02B1DC"/>
<rect x="283" y="173" width="1" height="27" fill="#fff"/>
<rect x="287" y="178" width="1" height="22" fill="#02B1DC"/>
<rect x="286" y="188" width="3" height="3" fill="#02B1DC"/>
<rect x="287" y="189" width="1" height="1" fill="#fff"/>
<rect x="291" y="149" width="1" height="34" fill="#02B1DC"/>
<rect x="290" y="161" width="3" height="17" fill="#02B1DC"/>
<rect x="291" y="162" width="1" height="15" fill="#fff"/>
<rect x="295" y="151" width="1" height="19" fill="#02B1DC"/>
<rect x="294" y="157" width="3" height="2" fill="#02B1DC"/>
<rect x="299" y="126" width="1" height="27" fill="#02B1DC"/>
<rect x="298" y="132" width="3" height="9" fill="#02B1DC"/>
<rect x="299" y="133" width="1" height="7" fill="#fff"/>
<rect x="303" y="119" width="1" height="26" fill="#404040"/>
<rect x="302" y="134" width="3" height="2" fill="#404040"/>
<rect x="307" y="112" width="1" height="15" fill="#404040"/>
<rect x="306" y="115" width="3" height="8" fill="#404040"/>
<rect x="311" y="114" width="1" height="15" fill="#02B1DC"/>
<rect x="310" y="123" width="3" height="4" fill="#02B1DC"/>
<rect x="311" y="124" width="1" height="2" fill="#fff"/>
<rect x="315" y="120" width="1" height="13" fill="#404040"/>
<rect x="314" y="120" width="3" height="10" fill="#404040"/>
<rect x="319" y="113" width="1" height="13" fill="#404040"/>
<rect x="318" y="121" width="3" height="2" fill="#404040"/>
<rect x="323" y="94" width="1" height="15" fill="#02B1DC"/>
<rect x="322" y="104" width="3" height="3" fill="#02B1DC"/>
<rect x="323" y="105" width="1" height="1" fill="#fff"/>
<rect x="327" y="95" width="1" height="21" fill="#02B1DC"/>
<rect x="326" y="99" width="3" height="17" fill="#02B1DC"/>
<rect x="327" y="100" width="1" height="15" fill="#fff"/>
<rect x="331" y="87" width="1" height="22" fill="#404040"/>
<rect x="330" y="92" width="3" height="15" fill="#404040"/>
<rect x="335" y="99" width="1" height="23" fill="#02B1DC"/>
<rect x="334" y="101" width="3" height="6" fill="#02B1DC"/>
<rect x="335" y="102" width="1" height="4" fill="#fff"/>
<rect x="339" y="108" width="1" height="22" fill="#02B1DC"/>
<rect x="338" y="123" width="3" height="6" fill="#02B1DC"/>
<rect x="339" y="124" width="1" height="4" fill="#fff"/>
<rect x="343" y="118" width="1" height="38" fill="#404040"/>
<rect x="342" y="120" width="3" height="18" fill="#404040"/>
<rect x="347" y="134" width="1" height="31" fill="#404040"/>
<rect x="346" y="138" width="3" height="21" fill="#404040"/>
<rect x="351" y="149" width="1" height="16" fill="#02B1DC"/>
<rect x="350" y="157" width="3" height="2" fill="#02B1DC"/>
<rect x="355" y="186" width="1" height="46" fill="#404040"/>
<rect x="354" y="196" width="3" height="31" fill="#404040"/>
<rect x="359" y="227" width="1" height="20" fill="#02B1DC"/>
<rect x="358" y="230" width="3" height="5" fill="#02B1DC"/>
<rect x="359" y="231" width="1" height="3" fill="#fff"/>
<rect x="363" y="242" width="1" height="18" fill="#404040"/>
<rect x="362" y="250" width="3" height="8" fill="#404040"/>
<rect x="367" y="251" width="1" height="25" fill="#404040"/>
<rect x="366" y="252" width="3" height="9" fill="#404040"/>
<rect x="371" y="230" width="1" height="13" fill="#02B1DC"/>
<rect x="370" y="233" width="3" height="7" fill="#02B1DC"/>
<rect x="371" y="234" width="1" height="5" fill="#fff"/>
<rect x="375" y="232" width="1" height="12" fill="#404040"/>
<rect x="374" y="233" width="3" height="4" fill="#404040"/>
<rect x="379" y="235" width="1" height="17" fill="#404040"/>
<rect x="378" y="237" width="3" height="12" fill="#404040"/>
<rect x="383" y="241" width="1" height="12" fill="#404040"/>
<rect x="382" y="244" width="3" height="5" fill="#404040"/>
<rect x="387" y="258" width="1" height="18" fill="#02B1DC"/>
<rect x="386" y="263" width="3" height="5" fill="#02B1DC"/>
<rect x="387" y="264" width="1" height="3" fill="#fff"/>
<rect x="391" y="235" width="1" height="16" fill="#404040"/>
<rect x="390" y="243" width="3" height="5" fill="#404040"/>
<rect x="395" y="264" width="1" height="12" fill="#404040"/>
<rect x="394" y="267" width="3" height="8" fill="#404040"/>
<rect x="399" y="292" width="1" height="18" fill="#02B1DC"/>
<rect x="398" y="300" width="3" height="10" fill="#02B1DC"/>
<rect x="399" y="301" width="1" height="8" fill="#fff"/>
<rect x="403" y="328" width="1" height="41" fill="#404040"/>
<rect x="402" y="328" width="3" height="36" fill="#404040"/>
<rect x="407" y="345" width="1" height="21" fill="#404040"/>
<rect x="406" y="353" width="3" height="13" fill="#404040"/>
<rect x="411" y="368" width="1" height="39" fill="#404040"/>
<rect x="410" y="380" width="3" height="21" fill="#404040"/>
<rect x="415" y="392" width="1" height="18" fill="#02B1DC"/>
<rect x="414" y="397" width="3" height="12" fill="#02B1DC"/>
<rect x="415" y="398" width="1" height="10" fill="#fff"/>
<rect x="419" y="372" width="1" height="30" fill="#02B1DC"/>
<rect x="418" y="379" width="3" height="21" fill="#02B1DC"/>
<rect x="419" y="380" width="1" height="19" fill="#fff"/>
<rect x="423" y="383" width="1" height="23" fill="#404040"/>
<rect x="422" y="384" width="3" height="19" fill="#404040"/>
<rect x="427" y="416" width="1" height="16" fill="#02B1DC"/>
<rect x="426" y="421" width="3" height="9" fill="#02B1DC"/>
<rect x="427" y="422" width="1" height="7" fill="#fff"/>
<rect x="431" y="423" width="1" height="22" fill="#404040"/>
<rect x="430" y="424" width="3" height="15" fill="#404040"/>
<rect x="435" y="437" width="1" height="22" fill="#02B1DC"/>
<rect x="434" y="445" width="3" height="5" fill="#02B1DC"/>
<rect x="435" y="446" width="1" height="3" fill="#fff"/>
<rect x="439" y="441" width="1" height="11" fill="#02B1DC"/>
<rect x="438" y="442" width="3" height="7" fill="#02B1DC"/>
<rect x="439" y="443" width="1" height="5" fill="#fff"/>
<rect x="443" y="450" width="1" height="14" fill="#404040"/>
<rect x="442" y="459" width="3" height="3" fill="#404040"/>
<rect x="447" y="459" width="1" height="19" fill="#02B1DC"/>
<rect x="446" y="470" width="3" height="3" fill="#02B1DC"/>
<rect x="447" y="471" width="1" height="1" fill="#fff"/>
<rect x="451" y="479" width="1" height="12" fill="#404040"/>
<rect x="450" y="486" width="3" height="5" fill="#404040"/>
<rect x="455" y="484" width="1" height="28" fill="#404040"/>
<rect x="454" y="486" width="3" height="16" fill="#404040"/>
<rect x="459" y="477" width="1" height="14" fill="#02B1DC"/>
<rect x="458" y="482" width="3" height="8" fill="#02B1DC"/>
<rect x="459" y="483" width="1" height="6" fill="#fff"/>
<rect x="463" y="472" width="1" height="10" fill="#02B1DC"/>
<rect x="462" y="474" width="3" height="3" fill="#02B1DC"/>
<rect x="463" y="475" width="1" height="1" fill="#fff"/>
<rect x="467" y="475" width="1" height="27" fill="#02B1DC"/>
<rect x="466" y="481" width="3" height="19" fill="#02B1DC"/>
<rect x="467" y="482" width="1" height="17" fill="#fff"/>
<rect x="471" y="469" width="1" height="17" fill="#404040"/>
<rect x="470" y="475" width="3" height="7" fill="#404040"/>
<rect x="475" y="442" width="1" height="29" fill="#02B1DC"/>
<rect x="474" y="446" width="3" height="22" fill="#02B1DC"/>
<rect x="475" y="447" width="1" height="20" fill="#fff"/>
<rect x="479" y="416" width="1" height="28" fill="#404040"/>
<rect x="478" y="418" width="3" height="17" fill="#404040"/>
<rect x="483" y="420" width="1" height="19" fill="#404040"/>
<rect x="482" y="425" width="3" height="3" fill="#404040"/>
<rect x="487" y="420" width="1" height="18" fill="#404040"/>
<rect x="486" y="430" width="3" height="3" fill="#404040"/>
<rect x="491" y="418" width="1" height="28" fill="#02B1DC"/>
<rect x="490" y="420" width="3" height="24" fill="#02B1DC"/>
<rect x="491" y="421" width="1" height="22" fill="#fff"/>
<rect x="495" y="413" width="1" height="20" fill="#404040"/>
<rect x="494" y="414" width="3" height="4" fill="#404040"/>
<rect x="499" y="403" width="1" height="23" fill="#02B1DC"/>
<rect x="498" y="407" width="3" height="10" fill="#02B1DC"/>
<rect x="499" y="408" width="1" height="8" fill="#fff"/>
<rect x="503" y="389" width="1" height="18" fill="#404040"/>
<rect x="502" y="390" width="3" height="13" fill="#404040"/>
<rect x="507" y="371" width="1" height="18" fill="#02B1DC"/>
<rect x="506" y="374" width="3" height="15" fill="#02B1DC"/>
<rect x="507" y="375" width="1" height="13" fill="#fff"/>
<rect x="511" y="382" width="1" height="16" fill="#02B1DC"/>
<rect x="510" y="388" width="3" height="3" fill="#02B1DC"/>
<rect x="511" y="389" width="1" height="1" fill="#fff"/>
<rect x="515" y="347" width="1" height="17" fill="#02B1DC"/>
<rect x="514" y="351" width="3" height="13" fill="#02B1DC"/>
<rect x="515" y="352" width="1" height="11" fill="#fff"/>
<rect x="519" y="349" width="1" height="11" fill="#02B1DC"/>
<rect x="518" y="353" width="3" height="6" fill="#02B1DC"/>
<rect x="519" y="354" width="1" height="4" fill="#fff"/>
<rect x="523" y="355" width="1" height="18" fill="#404040"/>
<rect x="522" y="363" width="3" height="4" fill="#404040"/>
<rect x="527" y="355" width="1" height="21" fill="#404040"/>
<rect x="526" y="365" width="3" height="9" fill="#404040"/>
<rect x="531" y="350" width="1" height="19" fill="#02B1DC"/>
<rect x="530" y="355" width="3" height="13" fill="#02B1DC"/>
<rect x="531" y="356" width="1" height="11" fill="#fff"/>
<rect x="535" y="344" width="1" height="13" fill="#404040"/>
<rect x="534" y="346" width="3" height="5" fill="#404040"/>
<rect x="539" y="353" width="1" height="19" fill="#404040"/>
<rect x="538" y="361" width="3" height="8" fill="#404040"/>
<rect x="543" y="352" width="1" height="19" fill="#02B1DC"/>
<rect x="542" y="357" width="3" height="9" fill="#02B1DC"/>
<rect x="543" y="358" width="1" height="7" fill="#fff"/>
<rect x="547" y="343" width="1" height="14" fill="#02B1DC"/>
<rect x="546" y="352" width="3" height="3" fill="#02B1DC"/>
<rect x="547" y="353" width="1" height="1" fill="#fff"/>
<rect x="551" y="343" width="1" height="39" fill="#404040"/>
<rect x="550" y="344" width="3" height="30" fill="#404040"/>
<rect x="555" y="358" width="1" height="20" fill="#02B1DC"/>
<rect x="554" y="359" width="3" height="10" fill="#02B1DC"/>
<rect x="555" y="360" width="1" height="8" fill="#fff"/>
<rect x="559" y="356" width="1" height="21" fill="#404040"/>
<rect x="558" y="366" width="3" height="3" fill="#404040"/>
<rect x="563" y="354" width="1" height="11" fill="#404040"/>
<rect x="562" y="359" width="3" height="4" fill="#404040"/>
<rect x="567" y="335" width="1" height="33" fill="#02B1DC"/>
<rect x="566" y="340" width="3" height="21" fill="#02B1DC"/>
<rect x="567" y="341" width="1" height="19" fill="#fff"/>
<rect x="571" y="341" width="1" height="29" fill="#404040"/>
<rect x="570" y="344" width="3" height="24" fill="#404040"/>
<rect x="575" y="358" width="1" height="29" fill="#404040"/>
<rect x="574" y="374" width="3" height="10" fill="#404040"/>
<rect x="579" y="351" width="1" height="15" fill="#404040"/>
<rect x="578" y="356" width="3" height="6" fill="#404040"/>
<rect x="583" y="335" width="1" height="15" fill="#404040"/>
<rect x="582" y="337" width="3" height="4" fill="#404040"/>
<rect x="587" y="336" width="1" height="21" fill="#02B1DC"/>
<rect x="586" y="340" width="3" height="2" fill="#02B1DC"/>
<rect x="591" y="382" width="1" height="29" fill="#404040"/>
<rect x="590" y="396" width="3" height="6" fill="#404040"/>
<rect x="595" y="346" width="1" height="29" fill="#02B1DC"/>
<rect x="594" y="348" width="3" height="24" fill="#02B1DC"/>
<rect x="595" y="349" width="1" height="22" fill="#fff"/>
<rect x="599" y="323" width="1" height="17" fill="#02B1DC"/>
<rect x="598" y="325" width="3" height="7" fill="#02B1DC"/>
<rect x="599" y="326" width="1" height="5" fill="#fff"/>
<rect x="603" y="325" width="1" height="18" fill="#404040"/>
<rect x="602" y="328" width="3" height="5" fill="#404040"/>
<rect x="607" y="323" width="1" height="21" fill="#02B1DC"/>
<rect x="606" y="324" width="3" height="12" fill="#02B1DC"/>
<rect x="607" y="325" width="1" height="10" fill="#fff"/>
<rect x="611" y="311" width="1" height="19" fill="#02B1DC"/>
<rect x="610" y="325" width="3" height="2" fill="#02B1DC"/>
<rect x="615" y="323" width="1" height="14" fill="#404040"/>
<rect x="614" y="327" width="3" height="7" fill="#404040"/>
<rect x="619" y="320" width="1" height="12" fill="#02B1DC"/>
<rect x="618" y="322" width="3" height="8" fill="#02B1DC"/>
<rect x="619" y="323" width="1" height="6" fill="#fff"/>
<rect x="623" y="313" width="1" height="16" fill="#02B1DC"/>
<rect x="622" y="316" width="3" height="12" fill="#02B1DC"/>
<rect x="623" y="317" width="1" height="10" fill="#fff"/>
<rect x="627" y="312" width="1" height="21" fill="#02B1DC"/>
<rect x="626" y="315" width="3" height="17" fill="#02B1DC"/>
<rect x="627" y="316" width="1" height="15" fill="#fff"/>
<rect x="631" y="308" width="1" height="22" fill="#02B1DC"/>
<rect x="630" y="309" width="3" height="19" fill="#02B1DC"/>
<rect x="631" y="310" width="1" height="17" fill="#fff"/>
<rect x="635" y="293" width="1" height="16" fill="#404040"/>
<rect x="634" y="293" width="3" height="15" fill="#404040"/>
<rect x="639" y="298" width="1" height="14" fill="#404040"/>
<rect x="638" y="303" width="3" height="5" fill="#404040"/>
<rect x="643" y="308" width="1" height="18" fill="#404040"/>
<rect x="642" y="308" width="3" height="14" fill="#404040"/>
<rect x="647" y="314" width="1" height="14" fill="#02B1DC"/>
<rect x="646" y="318" width="3" height="8" fill="#02B1DC"/>
<rect x="647" y="319" width="1" height="6" fill="#fff"/>
<rect x="651" y="316" width="1" height="34" fill="#404040"/>
<rect x="650" y="321" width="3" height="27" fill="#404040"/>
<rect x="655" y="360" width="1" height="21" fill="#404040"/>
<rect x="654" y="365" width="3" height="10" fill="#404040"/>
<rect x="659" y="356" width="1" height="22" fill="#02B1DC"/>
<rect x="658" y="358" width="3" height="19" fill="#02B1DC"/>
<rect x="659" y="359" width="1" height="17" fill="#fff"/>
<rect x="663" y="351" width="1" height="19" fill="#404040"/>
<rect x="662" y="357" width="3" height="3" fill="#404040"/>
<rect x="667" y="353" width="1" height="19" fill="#02B1DC"/>
<rect x="666" y="358" width="3" height="13" fill="#02B1DC"/>
<rect x="667" y="359" width="1" height="11" fill="#fff"/>
<rect x="671" y="331" width="1" height="29" fill="#02B1DC"/>
<rect x="670" y="334" width="3" height="23" fill="#02B1DC"/>
<rect x="671" y="335" width="1" height="21" fill="#fff"/>
<rect x="675" y="313" width="1" height="25" fill="#02B1DC"/>
<rect x="674" y="315" width="3" height="23" fill="#02B1DC"/>
<rect x="675" y="316" width="1" height="21" fill="#fff"/>
<rect x="679" y="301" width="1" height="17" fill="#02B1DC"/>
<rect x="678" y="308" width="3" height="10" fill="#02B1DC"/>
<rect x="679" y="309" width="1" height="8" fill="#fff"/>
<rect x="683" y="296" width="1" height="17" fill="#02B1DC"/>
<rect x="682" y="306" width="3" height="2" fill="#02B1DC"/>
<rect x="687" y="307" width="1" height="39" fill="#404040"/>
<rect x="686" y="308" width="3" height="37" fill="#404040"/>
<rect x="691" y="354" width="1" height="24" fill="#02B1DC"/>
<rect x="690" y="356" width="3" height="9" fill="#02B1DC"/>
<rect x="691" y="357" width="1" height="7" fill="#fff"/>
<rect x="695" y="352" width="1" height="64" fill="#404040"/>
<rect x="694" y="353" width="3" height="61" fill="#404040"/>
<rect x="699" y="403" width="1" height="30" fill="#02B1DC"/>
<rect x="698" y="407" width="3" height="16" fill="#02B1DC"/>
<rect x="699" y="408" width="1" height="14" fill="#fff"/>
<rect x="703" y="408" width="1" height="18" fill="#404040"/>
<rect x="702" y="408" width="3" height="13" fill="#404040"/>
<rect x="707" y="395" width="1" height="43" fill="#02B1DC"/>
<rect x="706" y="410" width="3" height="9" fill="#02B1DC"/>
<rect x="707" y="411" width="1" height="7" fill="#fff"/>
<rect x="711" y="412" width="1" height="19" fill="#404040"/>
<rect x="710" y="412" width="3" height="14" fill="#404040"/>
<rect x="715" y="410" width="1" height="16" fill="#404040"/>
<rect x="714" y="417" width="3" height="2" fill="#404040"/>
<rect x="719" y="384" width="1" height="31" fill="#02B1DC"/>
<rect x="718" y="389" width="3" height="19" fill="#02B1DC"/>
<rect x="719" y="390" width="1" height="17" fill="#fff"/>
<rect x="723" y="372" width="1" height="23" fill="#02B1DC"/>
<rect x="722" y="382" width="3" height="9" fill="#02B1DC"/>
<rect x="723" y="383" width="1" height="7" fill="#fff"/>
<rect x="727" y="357" width="1" height="16" fill="#02B1DC"/>
<rect x="726" y="363" width="3" height="9" fill="#02B1DC"/>
<rect x="727" y="364" width="1" height="7" fill="#fff"/>
<rect x="731" y="356" width="1" height="22" fill="#02B1DC"/>
<rect x="730" y="358" width="3" height="7" fill="#02B1DC"/>
<rect x="731" y="359" width="1" height="5" fill="#fff"/>
<rect x="735" y="353" width="1" height="17" fill="#404040"/>
<rect x="734" y="359" width="3" height="3" fill="#404040"/>
<rect x="739" y="362" width="1" height="17" fill="#404040"/>
<rect x="738" y="367" width="3" height="8" fill="#404040"/>
<rect x="743" y="352" width="1" height="27" fill="#404040"/>
<rect x="742" y="375" width="3" height="4" fill="#404040"/>
<rect x="747" y="375" width="1" height="14" fill="#404040"/>
<rect x="746" y="384" width="3" height="2" fill="#404040"/>
<rect x="751" y="352" width="1" height="36" fill="#02B1DC"/>
<rect x="750" y="356" width="3" height="26" fill="#02B1DC"/>
<rect x="751" y="357" width="1" height="24" fill="#fff"/>
<rect x="755" y="347" width="1" height="40" fill="#02B1DC"/>
<rect x="754" y="353" width="3" height="17" fill="#02B1DC"/>
<rect x="755" y="354" width="1" height="15" fill="#fff"/>
<rect x="759" y="340" width="1" height="14" fill="#02B1DC"/>
<rect x="758" y="349" width="3" height="4" fill="#02B1DC"/>
<rect x="759" y="350" width="1" height="2" fill="#fff"/>
<rect x="763" y="335" width="1" height="21" fill="#02B1DC"/>
<rect x="762" y="341" width="3" height="10" fill="#02B1DC"/>
<rect x="763" y="342" width="1" height="8" fill="#fff"/>
<rect x="767" y="311" width="1" height="27" fill="#02B1DC"/>
<rect x="766" y="317" width="3" height="20" fill="#02B1DC"/>
<rect x="767" y="318" width="1" height="18" fill="#fff"/>
<rect x="771" y="315" width="1" height="24" fill="#02B1DC"/>
<rect x="770" y="322" width="3" height="6" fill="#02B1DC"/>
<rect x="771" y="323" width="1" height="4" fill="#fff"/>
<rect x="775" y="322" width="1" height="34" fill="#404040"/>
<rect x="774" y="324" width="3" height="23" fill="#404040"/>
<rect x="779" y="339" width="1" height="21" fill="#02B1DC"/>
<rect x="778" y="340" width="3" height="16" fill="#02B1DC"/>
<rect x="779" y="341" width="1" height="14" fill="#fff"/>
<rect x="783" y="334" width="1" height="21" fill="#02B1DC"/>
<rect x="782" y="342" width="3" height="3" fill="#02B1DC"/>
<rect x="783" y="343" width="1" height="1" fill="#fff"/>
<rect x="787" y="325" width="1" height="22" fill="#02B1DC"/>
<rect x="786" y="333" width="3" height="9" fill="#02B1DC"/>
<rect x="787" y="334" width="1" height="7" fill="#fff"/>
<rect x="791" y="312" width="1" height="22" fill="#02B1DC"/>
<rect x="790" y="321" width="3" height="12" fill="#02B1DC"/>
<rect x="791" y="322" width="1" height="10" fill="#fff"/>
<rect x="795" y="320" width="1" height="19" fill="#02B1DC"/>
<rect x="794" y="328" width="3" height="4" fill="#02B1DC"/>
<rect x="795" y="329" width="1" height="2" fill="#fff"/>
<rect x="799" y="293" width="1" height="32" fill="#02B1DC"/>
<rect x="798" y="317" width="3" height="1" fill="#02B1DC"/>
<rect x="803" y="305" width="1" height="19" fill="#404040"/>
<rect x="802" y="317" width="3" height="1" fill="#404040"/>
<rect x="807" y="338" width="1" height="23" fill="#02B1DC"/>
<rect x="806" y="338" width="3" height="7" fill="#02B1DC"/>
<rect x="807" y="339" width="1" height="5" fill="#fff"/>
<rect x="811" y="340" width="1" height="44" fill="#404040"/>
<rect x="810" y="344" width="3" height="39" fill="#404040"/>
<rect x="815" y="370" width="1" height="23" fill="#02B1DC"/>
<rect x="814" y="374" width="3" height="6" fill="#02B1DC"/>
<rect x="815" y="375" width="1" height="4" fill="#fff"/>
<rect x="819" y="391" width="1" height="37" fill="#404040"/>
<rect x="818" y="391" width="3" height="37" fill="#404040"/>
<rect x="823" y="400" width="1" height="27" fill="#404040"/>
<rect x="822" y="413" width="3" height="6" fill="#404040"/>
<rect x="827" y="418" width="1" height="38" fill="#404040"/>
<rect x="826" y="419" width="3" height="35" fill="#404040"/>
<rect x="831" y="437" width="1" height="20" fill="#02B1DC"/>
<rect x="830" y="445" width="3" height="4" fill="#02B1DC"/>
<rect x="831" y="446" width="1" height="2" fill="#fff"/>
<rect x="835" y="438" width="1" height="24" fill="#02B1DC"/>
<rect x="834" y="440" width="3" height="3" fill="#02B1DC"/>
<rect x="835" y="441" width="1" height="1" fill="#fff"/>
<rect x="839" y="410" width="1" height="49" fill="#02B1DC"/>
<rect x="838" y="412" width="3" height="19" fill="#02B1DC"/>
<rect x="839" y="413" width="1" height="17" fill="#fff"/>
<rect x="843" y="417" width="1" height="19" fill="#404040"/>
<rect x="842" y="420" width="3" height="3" fill="#404040"/>
<rect x="847" y="417" width="1" height="26" fill="#02B1DC"/>
<rect x="846" y="426" width="3" height="1" fill="#02B1DC"/>
<rect x="851" y="421" width="1" height="24" fill="#02B1DC"/>
<rect x="850" y="423" width="3" height="14" fill="#02B1DC"/>
<rect x="851" y="424" width="1" height="12" fill="#fff"/>
<rect x="855" y="421" width="1" height="31" fill="#404040"/>
<rect x="854" y="423" width="3" height="19" fill="#404040"/>
<rect x="859" y="446" width="1" height="24" fill="#404040"/>
<rect x="858" y="452" width="3" height="12" fill="#404040"/>
<rect x="863" y="432" width="1" height="27" fill="#02B1DC"/>
<rect x="862" y="450" width="3" height="9" fill="#02B1DC"/>
<rect x="863" y="451" width="1" height="7" fill="#fff"/>
<rect x="867" y="434" width="1" height="14" fill="#404040"/>
<rect x="866" y="442" width="3" height="4" fill="#404040"/>
<rect x="871" y="444" width="1" height="21" fill="#404040"/>
<rect x="870" y="446" width="3" height="11" fill="#404040"/>
<rect x="875" y="460" width="1" height="17" fill="#02B1DC"/>
<rect x="874" y="462" width="3" height="7" fill="#02B1DC"/>
<rect x="875" y="463" width="1" height="5" fill="#fff"/>
<rect x="879" y="442" width="1" height="18" fill="#02B1DC"/>
<rect x="878" y="453" width="3" height="7" fill="#02B1DC"/>
<rect x="879" y="454" width="1" height="5" fill="#fff"/>
<rect x="883" y="467" width="1" height="12" fill="#02B1DC"/>
<rect x="882" y="472" width="3" height="5" fill="#02B1DC"/>
<rect x="883" y="473" width="1" height="3" fill="#fff"/>
<rect x="887" y="483" width="1" height="26" fill="#02B1DC"/>
<rect x="886" y="486" width="3" height="2" fill="#02B1DC"/>
<rect x="891" y="438" width="1" height="58" fill="#02B1DC"/>
<rect x="890" y="441" width="3" height="54" fill="#02B1DC"/>
<rect x="891" y="442" width="1" height="52" fill="#fff"/>
<rect x="895" y="437" width="1" height="20" fill="#404040"/>
<rect x="894" y="442" width="3" height="10" fill="#404040"/>
<rect x="899" y="442" width="1" height="28" fill="#404040"/>
<rect x="898" y="454" width="3" height="9" fill="#404040"/>
<rect x="903" y="432" width="1" height="17" fill="#02B1DC"/>
<rect x="902" y="439" width="3" height="10" fill="#02B1DC"/>
<rect x="903" y="440" width="1" height="8" fill="#fff"/>
<rect x="907" y="417" width="1" height="18" fill="#404040"/>
<rect x="906" y="427" width="3" height="2" fill="#404040"/>
<rect x="911" y="408" width="1" height="22" fill="#02B1DC"/>
<rect x="910" y="415" width="3" height="15" fill="#02B1DC"/>
<rect x="911" y="416" width="1" height="13" fill="#fff"/>
<rect x="915" y="415" width="1" height="23" fill="#404040"/>
<rect x="914" y="424" width="3" height="12" fill="#404040"/>
<rect x="919" y="429" width="1" height="22" fill="#02B1DC"/>
<rect x="918" y="435" width="3" height="8" fill="#02B1DC"/>
<rect x="919" y="436" width="1" height="6" fill="#fff"/>
<rect x="923" y="440" width="1" height="15" fill="#02B1DC"/>
<rect x="922" y="445" width="3" height="1" fill="#02B1DC"/>
<rect x="927" y="429" width="1" height="19" fill="#02B1DC"/>
<rect x="926" y="443" width="3" height="2" fill="#02B1DC"/>
<rect x="931" y="422" width="1" height="32" fill="#02B1DC"/>
<rect x="930" y="428" width="3" height="11" fill="#02B1DC"/>
<rect x="931" y="429" width="1" height="9" fill="#fff"/>
<rect x="935" y="391" width="1" height="27" fill="#02B1DC"/>
<rect x="934" y="397" width="3" height="16" fill="#02B1DC"/>
<rect x="935" y="398" width="1" height="14" fill="#fff"/>
<rect x="939" y="394" width="1" height="19" fill="#404040"/>
<rect x="938" y="401" width="3" height="11" fill="#404040"/>
<rect x="943" y="390" width="1" height="22" fill="#02B1DC"/>
<rect x="942" y="408" width="3" height="3" fill="#02B1DC"/>
<rect x="943" y="409" width="1" height="1" fill="#fff"/>
<rect x="947" y="405" width="1" height="22" fill="#404040"/>
<rect x="946" y="410" width="3" height="9" fill="#404040"/>
<rect x="951" y="416" width="1" height="13" fill="#02B1DC"/>
<rect x="950" y="420" width="3" height="7" fill="#02B1DC"/>
<rect x="951" y="421" width="1" height="5" fill="#fff"/>
<rect x="955" y="408" width="1" height="26" fill="#02B1DC"/>
<rect x="954" y="415" width="3" height="13" fill="#02B1DC"/>
<rect x="955" y="416" width="1" height="11" fill="#fff"/>
<rect x="959" y="382" width="1" height="37" fill="#02B1DC"/>
<rect x="958" y="398" width="3" height="20" fill="#02B1DC"/>
<rect x="959" y="399" width="1" height="18" fill="#fff"/>
<rect x="963" y="392" width="1" height="14" fill="#02B1DC"/>
<rect x="962" y="392" width="3" height="9" fill="#02B1DC"/>
<rect x="963" y="393" width="1" height="7" fill="#fff"/>
<rect x="967" y="358" width="1" height="17" fill="#02B1DC"/>
<rect x="966" y="364" width="3" height="10" fill="#02B1DC"/>
<rect x="967" y="365" width="1" height="8" fill="#fff"/>
<rect x="971" y="358" width="1" height="23" fill="#404040"/>
<rect x="970" y="362" width="3" height="10" fill="#404040"/>
<rect x="975" y="367" width="1" height="10" fill="#404040"/>
<rect x="974" y="370" width="3" height="1" fill="#404040"/>
<rect x="979" y="352" width="1" height="18" fill="#02B1DC"/>
<rect x="978" y="361" width="3" height="9" fill="#02B1DC"/>
<rect x="979" y="362" width="1" height="7" fill="#fff"/>
<rect x="983" y="329" width="1" height="33" fill="#02B1DC"/>
<rect x="982" y="342" width="3" height="20" fill="#02B1DC"/>
<rect x="983" y="343" width="1" height="18" fill="#fff"/>
<rect x="987" y="330" width="1" height="20" fill="#02B1DC"/>
<rect x="986" y="344" width="3" height="5" fill="#02B1DC"/>
<rect x="987" y="345" width="1" height="3" fill="#fff"/>
<rect x="991" y="340" width="1" height="22" fill="#02B1DC"/>
<rect x="990" y="344" width="3" height="9" fill="#02B1DC"/>
<rect x="991" y="345" width="1" height="7" fill="#fff"/>
<rect x="995" y="330" width="1" height="26" fill="#404040"/>
<rect x="994" y="343" width="3" height="13" fill="#404040"/>
<rect x="999" y="347" width="1" height="17" fill="#02B1DC"/>
<rect x="998" y="351" width="3" height="4" fill="#02B1DC"/>
<rect x="999" y="352" width="1" height="2" fill="#fff"/>
<rect x="1003" y="326" width="1" height="29" fill="#02B1DC"/>
<rect x="1002" y="339" width="3" height="15" fill="#02B1DC"/>
<rect x="1003" y="340" width="1" height="13" fill="#fff"/>
<rect x="1007" y="334" width="1" height="20" fill="#02B1DC"/>
<rect x="1006" y="344" width="3" height="3" fill="#02B1DC"/>
<rect x="1007" y="345" width="1" height="1" fill="#fff"/>
<rect x="1011" y="338" width="1" height="15" fill="#404040"/>
<rect x="1010" y="345" width="3" height="1" fill="#404040"/>
<rect x="1015" y="326" width="1" height="29" fill="#404040"/>
<rect x="1014" y="333" width="3" height="20" fill="#404040"/>
<rect x="1019" y="347" width="1" height="18" fill="#02B1DC"/>
<rect x="1018" y="354" width="3" height="10" fill="#02B1DC"/>
<rect x="1019" y="355" width="1" height="8" fill="#fff"/>
<rect x="1023" y="343" width="1" height="17" fill="#404040"/>
<rect x="1022" y="348" width="3" height="4" fill="#404040"/>
<rect x="1027" y="345" width="1" height="16" fill="#404040"/>
<rect x="1026" y="350" width="3" height="8" fill="#404040"/>
<rect x="1031" y="332" width="1" height="39" fill="#02B1DC"/>
<rect x="1030" y="338" width="3" height="18" fill="#02B1DC"/>
<rect x="1031" y="339" width="1" height="16" fill="#fff"/>
<rect x="1035" y="338" width="1" height="19" fill="#02B1DC"/>
<rect x="1034" y="345" width="3" height="3" fill="#02B1DC"/>
<rect x="1035" y="346" width="1" height="1" fill="#fff"/>
<rect x="1039" y="325" width="1" height="41" fill="#404040"/>
<rect x="1038" y="335" width="3" height="18" fill="#404040"/>
<rect x="1043" y="352" width="1" height="15" fill="#02B1DC"/>
<rect x="1042" y="355" width="3" height="6" fill="#02B1DC"/>
<rect x="1043" y="356" width="1" height="4" fill="#fff"/>
<rect x="1047" y="352" width="1" height="26" fill="#02B1DC"/>
<rect x="1046" y="355" width="3" height="6" fill="#02B1DC"/>
<rect x="1047" y="356" width="1" height="4" fill="#fff"/>
<rect x="1051" y="355" width="1" height="35" fill="#404040"/>
<rect x="1050" y="357" width="3" height="24" fill="#404040"/>
<rect x="1055" y="362" width="1" height="19" fill="#02B1DC"/>
<rect x="1054" y="371" width="3" height="9" fill="#02B1DC"/>
<rect x="1055" y="372" width="1" height="7" fill="#fff"/>
<rect x="1059" y="355" width="1" height="26" fill="#404040"/>
<rect x="1058" y="370" width="3" height="9" fill="#404040"/>
<rect x="1063" y="420" width="1" height="49" fill="#404040"/>
<rect x="1062" y="423" width="3" height="36" fill="#404040"/>
<rect x="1067" y="471" width="1" height="45" fill="#404040"/>
<rect x="1066" y="474" width="3" height="27" fill="#404040"/>
<rect x="1071" y="494" width="1" height="29" fill="#404040"/>
<rect x="1070" y="496" width="3" height="15" fill="#404040"/>
<rect x="1075" y="504" width="1" height="39" fill="#404040"/>
<rect x="1074" y="508" width="3" height="24" fill="#404040"/>
<rect x="1079" y="511" width="1" height="34" fill="#404040"/>
<rect x="1078" y="511" width="3" height="6" fill="#404040"/>
<rect x="1083" y="518" width="1" height="27" fill="#404040"/>
<rect x="1082" y="522" width="3" height="23" fill="#404040"/>
<rect x="1087" y="511" width="1" height="37" fill="#404040"/>
<rect x="1086" y="514" width="3" height="31" fill="#404040"/>
<rect x="1091" y="522" width="1" height="41" fill="#02B1DC"/>
<rect x="1090" y="529" width="3" height="26" fill="#02B1DC"/>
<rect x="1091" y="530" width="1" height="24" fill="#fff"/>
<rect x="1095" y="529" width="1" height="44" fill="#404040"/>
<rect x="1094" y="532" width="3" height="26" fill="#404040"/>
<rect x="1099" y="580" width="1" height="59" fill="#404040"/>
<rect x="1098" y="580" width="3" height="49" fill="#404040"/>
<rect x="1103" y="590" width="1" height="36" fill="#02B1DC"/>
<rect x="1102" y="602" width="3" height="16" fill="#02B1DC"/>
<rect x="1103" y="603" width="1" height="14" fill="#fff"/>
<rect x="1107" y="582" width="1" height="20" fill="#02B1DC"/>
<rect x="1106" y="587" width="3" height="13" fill="#02B1DC"/>
<rect x="1107" y="588" width="1" height="11" fill="#fff"/>
<rect x="1111" y="580" width="1" height="19" fill="#404040"/>
<rect x="1110" y="587" width="3" height="10" fill="#404040"/>
<rect x="1115" y="592" width="1" height="9" fill="#404040"/>
<rect x="1114" y="595" width="3" height="2" fill="#404040"/>
<rect x="1119" y="582" width="1" height="24" fill="#02B1DC"/>
<rect x="1118" y="592" width="3" height="11" fill="#02B1DC"/>
<rect x="1119" y="593" width="1" height="9" fill="#fff"/>
<rect x="1123" y="610" width="1" height="24" fill="#404040"/>
<rect x="1122" y="623" width="3" height="8" fill="#404040"/>
<rect x="1127" y="625" width="1" height="19" fill="#02B1DC"/>
<rect x="1126" y="628" width="3" height="13" fill="#02B1DC"/>
<rect x="1127" y="629" width="1" height="11" fill="#fff"/>
<rect x="1131" y="620" width="1" height="20" fill="#02B1DC"/>
<rect x="1130" y="628" width="3" height="5" fill="#02B1DC"/>
<rect x="1131" y="629" width="1" height="3" fill="#fff"/>
<rect x="1135" y="630" width="1" height="14" fill="#02B1DC"/>
<rect x="1134" y="633" width="3" height="5" fill="#02B1DC"/>
<rect x="1135" y="634" width="1" height="3" fill="#fff"/>
<rect x="1139" y="630" width="1" height="20" fill="#02B1DC"/>
<rect x="1138" y="634" width="3" height="11" fill="#02B1DC"/>
<rect x="1139" y="635" width="1" height="9" fill="#fff"/>
<rect x="1143" y="620" width="1" height="19" fill="#02B1DC"/>
<rect x="1142" y="628" width="3" height="7" fill="#02B1DC"/>
<rect x="1143" y="629" width="1" height="5" fill="#fff"/>
<rect x="1147" y="617" width="1" height="18" fill="#404040"/>
<rect x="1146" y="623" width="3" height="10" fill="#404040"/>
<rect x="1151" y="633" width="1" height="14" fill="#404040"/>
<rect x="1150" y="638" width="3" height="3" fill="#404040"/>
<rect x="1155" y="620" width="1" height="16" fill="#404040"/>
<rect x="1154" y="630" width="3" height="4" fill="#404040"/>
<rect x="1159" y="595" width="1" height="34" fill="#02B1DC"/>
<rect x="1158" y="597" width="3" height="32" fill="#02B1DC"/>
<rect x="1159" y="598" width="1" height="30" fill="#fff"/>
<rect x="1163" y="592" width="1" height="14" fill="#404040"/>
<rect x="1162" y="595" width="3" height="3" fill="#404040"/>
<rect x="1167" y="577" width="1" height="21" fill="#02B1DC"/>
<rect x="1166" y="578" width="3" height="14" fill="#02B1DC"/>
<rect x="1167" y="579" width="1" height="12" fill="#fff"/>
<rect x="1171" y="534" width="1" height="42" fill="#02B1DC"/>
<rect x="1170" y="540" width="3" height="35" fill="#02B1DC"/>
<rect x="1171" y="541" width="1" height="33" fill="#fff"/>
<rect x="1175" y="519" width="1" height="30" fill="#404040"/>
<rect x="1174" y="537" width="3" height="12" fill="#404040"/>
<rect x="1179" y="540" width="1" height="25" fill="#404040"/>
<rect x="1178" y="542" width="3" height="8" fill="#404040"/>
<rect x="1183" y="522" width="1" height="23" fill="#02B1DC"/>
<rect x="1182" y="524" width="3" height="20" fill="#02B1DC"/>
<rect x="1183" y="525" width="1" height="18" fill="#fff"/>
<rect x="1187" y="527" width="1" height="21" fill="#02B1DC"/>
<rect x="1186" y="530" width="3" height="5" fill="#02B1DC"/>
<rect x="1187" y="531" width="1" height="3" fill="#fff"/>
<rect x="1191" y="532" width="1" height="26" fill="#404040"/>
<rect x="1190" y="534" width="3" height="9" fill="#404040"/>
<rect x="1195" y="534" width="1" height="21" fill="#02B1DC"/>
<rect x="1194" y="540" width="3" height="10" fill="#02B1DC"/>
<rect x="1195" y="541" width="1" height="8" fill="#fff"/>
<rect x="1199" y="516" width="1" height="32" fill="#02B1DC"/>
<rect x="1198" y="519" width="3" height="23" fill="#02B1DC"/>
<rect x="1199" y="520" width="1" height="21" fill="#fff"/>
<rect x="1203" y="516" width="1" height="14" fill="#404040"/>
<rect x="1202" y="522" width="3" height="7" fill="#404040"/>
<rect x="1207" y="529" width="1" height="39" fill="#404040"/>
<rect x="1206" y="532" width="3" height="20" fill="#404040"/>
<rect x="1211" y="544" width="1" height="14" fill="#404040"/>
<rect x="1210" y="549" width="3" height="9" fill="#404040"/>
<rect x="1215" y="552" width="1" height="26" fill="#02B1DC"/>
<rect x="1214" y="553" width="3" height="9" fill="#02B1DC"/>
<rect x="1215" y="554" width="1" height="7" fill="#fff"/>
<rect x="1219" y="542" width="1" height="17" fill="#02B1DC"/>
<rect x="1218" y="549" width="3" height="4" fill="#02B1DC"/>
<rect x="1219" y="550" width="1" height="2" fill="#fff"/>
<rect x="1223" y="527" width="1" height="26" fill="#02B1DC"/>
<rect x="1222" y="532" width="3" height="15" fill="#02B1DC"/>
<rect x="1223" y="533" width="1" height="13" fill="#fff"/>
<rect x="1227" y="532" width="1" height="102" fill="#02B1DC"/>
<rect x="1226" y="538" width="3" height="95" fill="#02B1DC"/>
<rect x="1227" y="539" width="1" height="93" fill="#fff"/>
<rect x="1231" y="519" width="1" height="34" fill="#404040"/>
<rect x="1230" y="534" width="3" height="13" fill="#404040"/>
<rect x="1235" y="553" width="1" height="28" fill="#404040"/>
<rect x="1234" y="562" width="3" height="19" fill="#404040"/>
<rect x="1239" y="569" width="1" height="27" fill="#02B1DC"/>
<rect x="1238" y="578" width="3" height="9" fill="#02B1DC"/>
<rect x="1239" y="579" width="1" height="7" fill="#fff"/>
<rect x="1243" y="569" width="1" height="23" fill="#02B1DC"/>
<rect x="1242" y="575" width="3" height="3" fill="#02B1DC"/>
<rect x="1243" y="576" width="1" height="1" fill="#fff"/>
<rect x="1247" y="554" width="1" height="31" fill="#02B1DC"/>
<rect x="1246" y="559" width="3" height="13" fill="#02B1DC"/>
<rect x="1247" y="560" width="1" height="11" fill="#fff"/>
<rect x="1251" y="559" width="1" height="38" fill="#404040"/>
<rect x="1250" y="562" width="3" height="16" fill="#404040"/>
<rect x="1255" y="567" width="1" height="21" fill="#02B1DC"/>
<rect x="1254" y="577" width="3" height="6" fill="#02B1DC"/>
<rect x="1255" y="578" width="1" height="4" fill="#fff"/>
<rect x="1259" y="547" width="1" height="26" fill="#02B1DC"/>
<rect x="1258" y="547" width="3" height="23" fill="#02B1DC"/>
<rect x="1259" y="548" width="1" height="21" fill="#fff"/>
<rect x="1263" y="514" width="1" height="29" fill="#02B1DC"/>
<rect x="1262" y="524" width="3" height="19" fill="#02B1DC"/>
<rect x="1263" y="525" width="1" height="17" fill="#fff"/>
<rect x="1267" y="527" width="1" height="23" fill="#404040"/>
<rect x="1266" y="530" width="3" height="4" fill="#404040"/>
<rect x="1271" y="511" width="1" height="32" fill="#02B1DC"/>
<rect x="1270" y="516" width="3" height="11" fill="#02B1DC"/>
<rect x="1271" y="517" width="1" height="9" fill="#fff"/>
<rect x="1275" y="513" width="1" height="22" fill="#404040"/>
<rect x="1274" y="514" width="3" height="9" fill="#404040"/>
<rect x="1279" y="501" width="1" height="32" fill="#02B1DC"/>
<rect x="1278" y="522" width="3" height="6" fill="#02B1DC"/>
<rect x="1279" y="523" width="1" height="4" fill="#fff"/>
<rect x="1283" y="513" width="1" height="20" fill="#02B1DC"/>
<rect x="1282" y="515" width="3" height="10" fill="#02B1DC"/>
<rect x="1283" y="516" width="1" height="8" fill="#fff"/>
<rect x="1287" y="494" width="1" height="22" fill="#02B1DC"/>
<rect x="1286" y="506" width="3" height="8" fill="#02B1DC"/>
<rect x="1287" y="507" width="1" height="6" fill="#fff"/>
<rect x="1291" y="499" width="1" height="16" fill="#02B1DC"/>
<rect x="1290" y="502" width="3" height="2" fill="#02B1DC"/>
<rect x="1295" y="481" width="1" height="29" fill="#02B1DC"/>
<rect x="1294" y="484" width="3" height="23" fill="#02B1DC"/>
<rect x="1295" y="485" width="1" height="21" fill="#fff"/>
<rect x="1299" y="471" width="1" height="18" fill="#404040"/>
<rect x="1298" y="484" width="3" height="1" fill="#404040"/>
<rect x="1303" y="478" width="1" height="24" fill="#404040"/>
<rect x="1302" y="484" width="3" height="5" fill="#404040"/>
<rect x="1307" y="479" width="1" height="17" fill="#02B1DC"/>
<rect x="1306" y="487" width="3" height="2" fill="#02B1DC"/>
<rect x="1311" y="479" width="1" height="17" fill="#02B1DC"/>
<rect x="1310" y="487" width="3" height="2" fill="#02B1DC"/>
<rect x="1315" y="489" width="1" height="27" fill="#404040"/>
<rect x="1314" y="489" width="3" height="16" fill="#404040"/>
<rect x="1319" y="509" width="1" height="30" fill="#404040"/>
<rect x="1318" y="509" width="3" height="14" fill="#404040"/>
<rect x="1323" y="501" width="1" height="26" fill="#02B1DC"/>
<rect x="1322" y="502" width="3" height="21" fill="#02B1DC"/>
<rect x="1323" y="503" width="1" height="19" fill="#fff"/>
<rect x="1327" y="479" width="1" height="21" fill="#02B1DC"/>
<rect x="1326" y="481" width="3" height="14" fill="#02B1DC"/>
<rect x="1327" y="482" width="1" height="12" fill="#fff"/>
<rect x="1331" y="452" width="1" height="24" fill="#02B1DC"/>
<rect x="1330" y="453" width="3" height="18" fill="#02B1DC"/>
<rect x="1331" y="454" width="1" height="16" fill="#fff"/>
<rect x="1335" y="432" width="1" height="25" fill="#02B1DC"/>
<rect x="1334" y="444" width="3" height="10" fill="#02B1DC"/>
<rect x="1335" y="445" width="1" height="8" fill="#fff"/>
<rect x="1339" y="430" width="1" height="13" fill="#02B1DC"/>
<rect x="1338" y="432" width="3" height="5" fill="#02B1DC"/>
<rect x="1339" y="433" width="1" height="3" fill="#fff"/>
<rect x="1343" y="433" width="1" height="15" fill="#404040"/>
<rect x="1342" y="438" width="3" height="1" fill="#404040"/>
<rect x="1347" y="433" width="1" height="16" fill="#404040"/>
<rect x="1346" y="438" width="3" height="3" fill="#404040"/>
<rect x="1351" y="420" width="1" height="21" fill="#02B1DC"/>
<rect x="1350" y="421" width="3" height="17" fill="#02B1DC"/>
<rect x="1351" y="422" width="1" height="15" fill="#fff"/>
<rect x="1355" y="428" width="1" height="24" fill="#404040"/>
<rect x="1354" y="433" width="3" height="5" fill="#404040"/>
<rect x="1359" y="438" width="1" height="21" fill="#404040"/>
<rect x="1358" y="443" width="3" height="4" fill="#404040"/>
<rect x="1363" y="433" width="1" height="10" fill="#404040"/>
<rect x="1362" y="436" width="3" height="1" fill="#404040"/>
<rect x="1367" y="428" width="1" height="29" fill="#404040"/>
<rect x="1366" y="438" width="3" height="10" fill="#404040"/>
<rect x="1371" y="436" width="1" height="18" fill="#404040"/>
<rect x="1370" y="448" width="3" height="4" fill="#404040"/>
<rect x="1375" y="463" width="1" height="18" fill="#404040"/>
<rect x="1374" y="463" width="3" height="9" fill="#404040"/>
<rect x="1379" y="471" width="1" height="11" fill="#02B1DC"/>
<rect x="1378" y="477" width="3" height="2" fill="#02B1DC"/>
<rect x="1383" y="461" width="1" height="16" fill="#02B1DC"/>
<rect x="1382" y="462" width="3" height="14" fill="#02B1DC"/>
<rect x="1383" y="463" width="1" height="12" fill="#fff"/>
<rect x="1387" y="453" width="1" height="16" fill="#02B1DC"/>
<rect x="1386" y="461" width="3" height="7" fill="#02B1DC"/>
<rect x="1387" y="462" width="1" height="5" fill="#fff"/>
<rect x="1391" y="461" width="1" height="16" fill="#404040"/>
<rect x="1390" y="466" width="3" height="9" fill="#404040"/>
<rect x="1395" y="467" width="1" height="10" fill="#404040"/>
<rect x="1394" y="468" width="3" height="4" fill="#404040"/>
<rect x="1399" y="466" width="1" height="10" fill="#404040"/>
<rect x="1398" y="467" width="3" height="1" fill="#404040"/>
<rect x="1403" y="463" width="1" height="12" fill="#02B1DC"/>
<rect x="1402" y="468" width="3" height="7" fill="#02B1DC"/>
<rect x="1403" y="469" width="1" height="5" fill="#fff"/>
<rect x="1407" y="451" width="1" height="34" fill="#404040"/>
<rect x="1406" y="468" width="3" height="14" fill="#404040"/>
<rect x="1411" y="475" width="1" height="37" fill="#404040"/>
<rect x="1410" y="481" width="3" height="29" fill="#404040"/>
<rect x="1415" y="486" width="1" height="29" fill="#02B1DC"/>
<rect x="1414" y="491" width="3" height="23" fill="#02B1DC"/>
<rect x="1415" y="492" width="1" height="21" fill="#fff"/>
<rect x="1419" y="479" width="1" height="17" fill="#404040"/>
<rect x="1418" y="488" width="3" height="4" fill="#404040"/>
<rect x="1423" y="471" width="1" height="19" fill="#02B1DC"/>
<rect x="1422" y="477" width="3" height="12" fill="#02B1DC"/>
<rect x="1423" y="478" width="1" height="10" fill="#fff"/>
<rect x="1427" y="466" width="1" height="13" fill="#404040"/>
<rect x="1426" y="474" width="3" height="1" fill="#404040"/>
<rect x="1431" y="474" width="1" height="17" fill="#404040"/>
<rect x="1430" y="477" width="3" height="3" fill="#404040"/>
<rect x="1435" y="474" width="1" height="11" fill="#404040"/>
<rect x="1434" y="477" width="3" height="1" fill="#404040"/>
<rect x="1439" y="453" width="1" height="36" fill="#02B1DC"/>
<rect x="1438" y="466" width="3" height="17" fill="#02B1DC"/>
<rect x="1439" y="467" width="1" height="15" fill="#fff"/>
<rect x="1443" y="423" width="1" height="31" fill="#404040"/>
<rect x="1442" y="443" width="3" height="9" fill="#404040"/>
<rect x="1447" y="438" width="1" height="9" fill="#02B1DC"/>
<rect x="1446" y="441" width="3" height="3" fill="#02B1DC"/>
<rect x="1447" y="442" width="1" height="1" fill="#fff"/>
<rect x="1451" y="433" width="1" height="15" fill="#404040"/>
<rect x="1450" y="438" width="3" height="1" fill="#404040"/>
<rect x="1455" y="436" width="1" height="11" fill="#404040"/>
<rect x="1454" y="438" width="3" height="5" fill="#404040"/>
<rect x="1459" y="438" width="1" height="16" fill="#404040"/>
<rect x="1458" y="441" width="3" height="5" fill="#404040"/>
<rect x="1463" y="443" width="1" height="14" fill="#404040"/>
<rect x="1462" y="446" width="3" height="7" fill="#404040"/>
<rect x="1467" y="461" width="1" height="13" fill="#02B1DC"/>
<rect x="1466" y="464" width="3" height="5" fill="#02B1DC"/>
<rect x="1467" y="465" width="1" height="3" fill="#fff"/>
<rect x="1471" y="464" width="1" height="11" fill="#404040"/>
<rect x="1470" y="466" width="3" height="9" fill="#404040"/>
<rect x="1475" y="461" width="1" height="15" fill="#404040"/>
<rect x="1474" y="471" width="3" height="4" fill="#404040"/>
<rect x="1479" y="458" width="1" height="19" fill="#02B1DC"/>
<rect x="1478" y="467" width="3" height="9" fill="#02B1DC"/>
<rect x="1479" y="468" width="1" height="7" fill="#fff"/>
<rect x="1483" y="467" width="1" height="10" fill="#404040"/>
<rect x="1482" y="468" width="3" height="8" fill="#404040"/>
<rect x="1487" y="448" width="1" height="15" fill="#02B1DC"/>
<rect x="1486" y="455" width="3" height="7" fill="#02B1DC"/>
<rect x="1487" y="456" width="1" height="5" fill="#fff"/>
</g>
<path d="M1528,424 C1538,408 1547,392 1555,391.5 C1564,391 1567,421 1578,421.3 C1592,421.5 1605,390 1612,376 L1635,333" fill="none" stroke="#1BAFD6" stroke-width="2.2" stroke-linecap="round"/>
<path d="M1638.7,327.3 L1638.9,337.8 L1630,333 Z" fill="#1BAFD6" stroke="#1BAFD6" stroke-width="1" stroke-linejoin="round"/>
<path d="M1526.5,515.4 C1532,526 1538,540 1546.3,540 C1555,540 1558,519.5 1567.5,519.2 C1578,519 1588,540 1594,551 L1616,591" fill="none" stroke="#4B5762" stroke-width="2.2" stroke-linecap="round"/>
<path d="M1618.8,596.2 L1610.7,590.4 L1618.8,585.8 Z" fill="#4B5762" stroke="#4B5762" stroke-width="1" stroke-linejoin="round"/>
</g>
<rect x="72" y="17" width="120" height="69" fill="#fff"/>
<clipPath id="jclip"><rect x="91.7" y="20" width="12" height="60"/><rect x="80.3" y="57" width="12" height="20"/></clipPath>
<clipPath id="fclip"><rect x="100" y="20" width="39" height="24.5"/><rect x="100" y="44.5" width="32.6" height="14"/><rect x="100" y="58.5" width="20" height="20"/></clipPath>
<clipPath id="dclip2"><rect x="149.6" y="20" width="40" height="60"/></clipPath>
<g font-family="'Liberation Sans',sans-serif" font-weight="bold" font-size="66.6" fill="url(#lg)">
<g clip-path="url(#jclip)"><text x="68.9" y="73.6">J</text></g>
<g clip-path="url(#fclip)"><text x="103.6" y="73.6" textLength="37.4" lengthAdjust="spacingAndGlyphs">F</text></g>
<g clip-path="url(#dclip2)"><text x="135.1" y="73.6">D</text></g>
</g>
<rect x="144.6" y="27.1" width="2.6" height="46.5" fill="url(#lg)"/><rect x="142.7" y="42.9" width="6.6" height="15" fill="url(#lg)"/>
<text x="509.5" y="214.7" font-family="'Liberation Sans',sans-serif" font-weight="bold" font-size="15" fill="#000" textLength="58.6" lengthAdjust="spacingAndGlyphs">200 EMA</text>
<text x="487.6" y="256.7" font-family="'Liberation Sans',sans-serif" font-weight="bold" font-size="15" fill="#00F030" textLength="58.3" lengthAdjust="spacingAndGlyphs">100 EMA</text>
<text x="466.8" y="307.6" font-family="'Liberation Sans',sans-serif" font-weight="bold" font-size="15" fill="#FF0000" textLength="50" lengthAdjust="spacingAndGlyphs">50 EMA</text>
<text x="453.7" y="366.6" font-family="'Liberation Sans',sans-serif" font-weight="bold" font-size="15" fill="#FFC000" textLength="50" lengthAdjust="spacingAndGlyphs">21 EMA</text>
<text x="1789.1" y="289.6" font-family="'Liberation Sans',sans-serif" font-weight="bold" font-size="13.5" fill="#1BAFD6" textLength="44.2" lengthAdjust="spacingAndGlyphs">~4.784</text>
<text x="1789.1" y="322.6" font-family="'Liberation Sans',sans-serif" font-weight="bold" font-size="13.5" fill="#1BAFD6" textLength="44.2" lengthAdjust="spacingAndGlyphs">~4.660</text>
<text x="1790.6" y="385.4" font-family="'Liberation Sans',sans-serif" font-weight="bold" font-size="13.5" fill="#1BAFD6" textLength="44.2" lengthAdjust="spacingAndGlyphs">~4.400</text>
<text x="1791.9" y="419.0" font-family="'Liberation Sans',sans-serif" font-weight="bold" font-size="13.5" fill="#1BAFD6" textLength="44.2" lengthAdjust="spacingAndGlyphs">~4.270</text>
<text x="1793.2" y="473.1" font-family="'Liberation Sans',sans-serif" font-weight="bold" font-size="13.5" fill="#1BAFD6" textLength="44.2" lengthAdjust="spacingAndGlyphs">~4.060</text>
<text x="1794.5" y="512.8" font-family="'Liberation Sans',sans-serif" font-weight="bold" font-size="13.5" fill="#4B5762" textLength="44.2" lengthAdjust="spacingAndGlyphs">~3.904</text>
<text x="1793.2" y="537.2" font-family="'Liberation Sans',sans-serif" font-weight="bold" font-size="13.5" fill="#4B5762" textLength="44.2" lengthAdjust="spacingAndGlyphs">~3.810</text>
<text x="1795" y="595.4" font-family="'Liberation Sans',sans-serif" font-weight="bold" font-size="13.5" fill="#4B5762" textLength="44.2" lengthAdjust="spacingAndGlyphs">~3.580</text>
<text x="1795.7" y="650.1" font-family="'Liberation Sans',sans-serif" font-weight="bold" font-size="13.5" fill="#4B5762" textLength="44.2" lengthAdjust="spacingAndGlyphs">~3.360</text>
<g shape-rendering="crispEdges" fill="#3c3c3c">
<rect x="2" y="2" width="1874" height="1"/>
<rect x="2" y="2" width="1" height="914"/>
<rect x="1875" y="2" width="1" height="914"/>
<rect x="2" y="669" width="1874" height="1"/><rect x="2" y="671" width="1874" height="1"/>
<rect x="2" y="796" width="1874" height="1"/><rect x="2" y="798" width="1874" height="1"/>
<rect x="2" y="915" width="1874" height="1"/>
<rect x="2" y="670" width="1874" height="1" fill="#fff"/><rect x="2" y="797" width="1874" height="1" fill="#fff"/>
</g>
<g font-family="'Liberation Sans',sans-serif" font-size="11">
<rect x="1876" y="6" width="2" height="1" fill="#3c3c3c" shape-rendering="crispEdges"/>
<text x="1881" y="10.0" fill="#222" textLength="28.0" lengthAdjust="spacingAndGlyphs" xml:space="preserve">5.9195</text>
<rect x="1876" y="39" width="2" height="1" fill="#3c3c3c" shape-rendering="crispEdges"/>
<text x="1881" y="43.0" fill="#222" textLength="28.0" lengthAdjust="spacingAndGlyphs" xml:space="preserve">5.7900</text>
<rect x="1876" y="72" width="2" height="1" fill="#3c3c3c" shape-rendering="crispEdges"/>
<text x="1881" y="76.0" fill="#222" textLength="28.0" lengthAdjust="spacingAndGlyphs" xml:space="preserve">5.6605</text>
<rect x="1876" y="105" width="2" height="1" fill="#3c3c3c" shape-rendering="crispEdges"/>
<text x="1881" y="109.0" fill="#222" textLength="28.0" lengthAdjust="spacingAndGlyphs" xml:space="preserve">5.5275</text>
<rect x="1876" y="138" width="2" height="1" fill="#3c3c3c" shape-rendering="crispEdges"/>
<text x="1881" y="142.0" fill="#222" textLength="28.0" lengthAdjust="spacingAndGlyphs" xml:space="preserve">5.3980</text>
<rect x="1876" y="171" width="2" height="1" fill="#3c3c3c" shape-rendering="crispEdges"/>
<text x="1881" y="175.0" fill="#222" textLength="28.0" lengthAdjust="spacingAndGlyphs" xml:space="preserve">5.2685</text>
<rect x="1876" y="204" width="2" height="1" fill="#3c3c3c" shape-rendering="crispEdges"/>
<text x="1881" y="208.0" fill="#222" textLength="28.0" lengthAdjust="spacingAndGlyphs" xml:space="preserve">5.1355</text>
<rect x="1876" y="237" width="2" height="1" fill="#3c3c3c" shape-rendering="crispEdges"/>
<text x="1881" y="241.0" fill="#222" textLength="28.0" lengthAdjust="spacingAndGlyphs" xml:space="preserve">5.0060</text>
<rect x="1876" y="270" width="2" height="1" fill="#3c3c3c" shape-rendering="crispEdges"/>
<text x="1881" y="274.0" fill="#222" textLength="28.0" lengthAdjust="spacingAndGlyphs" xml:space="preserve">4.8765</text>
<rect x="1876" y="303" width="2" height="1" fill="#3c3c3c" shape-rendering="crispEdges"/>
<text x="1881" y="307.0" fill="#222" textLength="28.0" lengthAdjust="spacingAndGlyphs" xml:space="preserve">4.7435</text>
<rect x="1876" y="336" width="2" height="1" fill="#3c3c3c" shape-rendering="crispEdges"/>
<text x="1881" y="340.0" fill="#222" textLength="28.0" lengthAdjust="spacingAndGlyphs" xml:space="preserve">4.6140</text>
<rect x="1876" y="369" width="2" height="1" fill="#3c3c3c" shape-rendering="crispEdges"/>
<text x="1881" y="373.0" fill="#222" textLength="28.0" lengthAdjust="spacingAndGlyphs" xml:space="preserve">4.4845</text>
<rect x="1876" y="402" width="2" height="1" fill="#3c3c3c" shape-rendering="crispEdges"/>
<text x="1881" y="406.0" fill="#222" textLength="28.0" lengthAdjust="spacingAndGlyphs" xml:space="preserve">4.3515</text>
<rect x="1876" y="435" width="2" height="1" fill="#3c3c3c" shape-rendering="crispEdges"/>
<text x="1881" y="439.0" fill="#222" textLength="28.0" lengthAdjust="spacingAndGlyphs" xml:space="preserve">4.2220</text>
<rect x="1876" y="468" width="2" height="1" fill="#3c3c3c" shape-rendering="crispEdges"/>
<text x="1881" y="472.0" fill="#222" textLength="28.0" lengthAdjust="spacingAndGlyphs" xml:space="preserve">4.0925</text>
<rect x="1876" y="501" width="2" height="1" fill="#3c3c3c" shape-rendering="crispEdges"/>
<text x="1881" y="505.0" fill="#222" textLength="28.0" lengthAdjust="spacingAndGlyphs" xml:space="preserve">3.9595</text>
<rect x="1876" y="534" width="2" height="1" fill="#3c3c3c" shape-rendering="crispEdges"/>
<text x="1881" y="538.0" fill="#222" textLength="28.0" lengthAdjust="spacingAndGlyphs" xml:space="preserve">3.8300</text>
<rect x="1876" y="567" width="2" height="1" fill="#3c3c3c" shape-rendering="crispEdges"/>
<text x="1881" y="571.0" fill="#222" textLength="28.0" lengthAdjust="spacingAndGlyphs" xml:space="preserve">3.7005</text>
<rect x="1876" y="600" width="2" height="1" fill="#3c3c3c" shape-rendering="crispEdges"/>
<text x="1881" y="604.0" fill="#222" textLength="28.0" lengthAdjust="spacingAndGlyphs" xml:space="preserve">3.5675</text>
<rect x="1876" y="633" width="2" height="1" fill="#3c3c3c" shape-rendering="crispEdges"/>
<text x="1881" y="637.0" fill="#222" textLength="28.0" lengthAdjust="spacingAndGlyphs" xml:space="preserve">3.4380</text>
<rect x="1876" y="666" width="2" height="1" fill="#3c3c3c" shape-rendering="crispEdges"/>
<text x="1881" y="670.0" fill="#222" textLength="28.0" lengthAdjust="spacingAndGlyphs" xml:space="preserve">3.3085</text>
</g>
<g font-family="'Liberation Sans',sans-serif" font-size="11">
<rect x="1877" y="287.0" width="36" height="11" fill="#000" shape-rendering="crispEdges"/>
<text x="1881" y="295.8" fill="#fff" textLength="28.0" lengthAdjust="spacingAndGlyphs" xml:space="preserve">4.7840</text>
<rect x="1877" y="319.0" width="36" height="11" fill="#000" shape-rendering="crispEdges"/>
<text x="1881" y="327.8" fill="#fff" textLength="28.0" lengthAdjust="spacingAndGlyphs" xml:space="preserve">4.6600</text>
<rect x="1877" y="384.0" width="36" height="11" fill="#000" shape-rendering="crispEdges"/>
<text x="1881" y="392.8" fill="#fff" textLength="28.0" lengthAdjust="spacingAndGlyphs" xml:space="preserve">4.4000</text>
<rect x="1877" y="417.0" width="36" height="11" fill="#000" shape-rendering="crispEdges"/>
<text x="1881" y="425.8" fill="#fff" textLength="28.0" lengthAdjust="spacingAndGlyphs" xml:space="preserve">4.2700</text>
<rect x="1877" y="450.0" width="36" height="11" fill="#404040" shape-rendering="crispEdges"/>
<text x="1881" y="458.8" fill="#fff" textLength="28.0" lengthAdjust="spacingAndGlyphs" xml:space="preserve">4.1420</text>
<rect x="1877" y="470.0" width="36" height="11" fill="#000" shape-rendering="crispEdges"/>
<text x="1881" y="478.8" fill="#fff" textLength="28.0" lengthAdjust="spacingAndGlyphs" xml:space="preserve">4.0600</text>
<rect x="1877" y="509.0" width="36" height="11" fill="#000" shape-rendering="crispEdges"/>
<text x="1881" y="517.8" fill="#fff" textLength="28.0" lengthAdjust="spacingAndGlyphs" xml:space="preserve">3.9040</text>
<rect x="1877" y="533.0" width="36" height="11" fill="#000" shape-rendering="crispEdges"/>
<text x="1881" y="541.8" fill="#fff" textLength="28.0" lengthAdjust="spacingAndGlyphs" xml:space="preserve">3.8100</text>
<rect x="1877" y="591.0" width="36" height="11" fill="#000" shape-rendering="crispEdges"/>
<text x="1881" y="599.8" fill="#fff" textLength="28.0" lengthAdjust="spacingAndGlyphs" xml:space="preserve">3.5800</text>
<rect x="1877" y="647.0" width="36" height="11" fill="#000" shape-rendering="crispEdges"/>
<text x="1881" y="655.8" fill="#fff" textLength="28.0" lengthAdjust="spacingAndGlyphs" xml:space="preserve">3.3600</text>
</g>
<rect x="3" y="293.0" width="5" height="1" fill="#fff" shape-rendering="crispEdges"/>
<path d="M3.65,296.1 V291.6 H7.5 L8.3,293.5 H12" fill="none" stroke="#000" stroke-width="1.3" stroke-linejoin="round"/>
<path d="M1870.5,296.0 V292.0 H1875" fill="none" stroke="#000" stroke-width="1" shape-rendering="crispEdges"/>
<rect x="3" y="653.0" width="5" height="1" fill="#fff" shape-rendering="crispEdges"/>
<path d="M3.65,656.1 V651.6 H7.5 L8.3,653.5 H12" fill="none" stroke="#000" stroke-width="1.3" stroke-linejoin="round"/>
<path d="M1870.5,656.0 V652.0 H1875" fill="none" stroke="#000" stroke-width="1" shape-rendering="crispEdges"/>
<path d="M6,9 H13 L9.5,13 Z" fill="#333"/>
<g font-family="'Liberation Sans',sans-serif" font-size="11"><text x="18.6" y="13.9" fill="#222" textLength="182.5" lengthAdjust="spacingAndGlyphs" xml:space="preserve">AGN.A,Daily  4.1140 4.1720 4.1110 4.1420</text></g>
<g clip-path="url(#cr)">
<line x1="3" y1="697.5" x2="1872" y2="697.5" stroke="#c4c4c4" stroke-width="1" stroke-dasharray="3 3" shape-rendering="crispEdges"/>
<line x1="3" y1="771.5" x2="1872" y2="771.5" stroke="#c4c4c4" stroke-width="1" stroke-dasharray="3 3" shape-rendering="crispEdges"/>
<g fill="none" stroke="#02B1DC" shape-rendering="crispEdges">
<polyline points="3.1,728.3 7.3,732.2 11,729.6" stroke-width="0.8"/>
<polyline points="11,729.6 15.2,721.2" stroke-width="0.9"/>
<polyline points="15.2,721.2 18.8,726.2 23.6,721.2" stroke-width="0.8"/>
<polyline points="23.6,721.2 27.5,719.1 31.4,716.5 35.3,710.7" stroke-width="0.9"/>
<polyline points="35.3,710.7 39.3,710.7 43.2,726.5" stroke-width="1"/>
<polyline points="43.2,726.5 47.1,724.4" stroke-width="0.9"/>
<polyline points="47.1,724.4 52.4,726.2 57.6,725.4 63.6,725.4 67.5,736.9 71.2,735.4 75.4,735.4" stroke-width="1"/>
<polyline points="75.4,735.4 79.8,741.4" stroke-width="0.8"/>
<polyline points="79.8,741.4 83.2,728.3 86.9,742.7" stroke-width="1"/>
<polyline points="86.9,742.7 91.1,747.4 95.5,741.4" stroke-width="0.8"/>
<polyline points="95.5,741.4 99,739.5" stroke-width="0.9"/>
<polyline points="99,739.5 103.4,744" stroke-width="0.7"/>
<polyline points="103.4,744 107.9,746.1" stroke-width="0.9"/>
<polyline points="107.9,746.1 112,744.8 115.7,743.2" stroke-width="1"/>
<polyline points="115.7,743.2 119.9,745.3" stroke-width="0.9"/>
<polyline points="119.9,745.3 123.6,746.6 127.7,747.9" stroke-width="1"/>
<polyline points="127.7,747.9 131.7,739.5 135.6,741.4 139.5,739.5 143.5,742.2" stroke-width="0.9"/>
<polyline points="143.5,742.2 147.9,745.3" stroke-width="0.8"/>
<polyline points="147.9,745.3 151.8,744" stroke-width="1"/>
<polyline points="151.8,744 155.8,741.4 159.7,738.8 163.6,741.4" stroke-width="0.9"/>
<polyline points="163.6,741.4 167.5,741.4" stroke-width="1"/>
<polyline points="167.5,741.4 171.5,738.8" stroke-width="0.9"/>
<polyline points="171.5,738.8 175.4,734.8" stroke-width="0.7"/>
<polyline points="175.4,734.8 179.3,721.7" stroke-width="1"/>
<polyline points="179.3,721.7 183.2,715.2 187.2,709.4" stroke-width="0.9"/>
<polyline points="187.2,709.4 191.1,710.5 195.5,700.3" stroke-width="1"/>
<polyline points="195.5,700.3 199.5,707.3 203.4,710" stroke-width="0.9"/>
<polyline points="203.4,710 207.6,721 211.5,719.9" stroke-width="1"/>
<polyline points="211.5,719.9 215.4,722.3" stroke-width="0.9"/>
<polyline points="215.4,722.3 219.9,719.1 223.8,713.9" stroke-width="0.8"/>
<polyline points="223.8,713.9 227.2,715.2" stroke-width="1"/>
<polyline points="227.2,715.2 231.2,723 235.1,720.4" stroke-width="0.9"/>
<polyline points="235.1,720.4 239,725.7" stroke-width="0.8"/>
<polyline points="239,725.7 243.5,742.7" stroke-width="1"/>
<polyline points="243.5,742.7 247.4,746.6" stroke-width="0.7"/>
<polyline points="247.4,746.6 251.3,749.7 255.2,746.6" stroke-width="0.8"/>
<polyline points="255.2,746.6 259.2,744" stroke-width="0.9"/>
<polyline points="259.2,744 263.1,744" stroke-width="1"/>
<polyline points="263.1,744 267,742.2" stroke-width="0.9"/>
<polyline points="267,742.2 270.9,740.6" stroke-width="1"/>
<polyline points="270.9,740.6 274.9,745.3 279.3,750.5 283.2,745.3 287.2,749.7" stroke-width="0.8"/>
<polyline points="287.2,749.7 291.4,739.5" stroke-width="1"/>
<polyline points="291.4,739.5 295.3,737.4 299.2,730.9" stroke-width="0.9"/>
<polyline points="299.2,730.9 303.7,731.7" stroke-width="1"/>
<polyline points="303.7,731.7 307.6,728.3" stroke-width="0.8"/>
<polyline points="307.6,728.3 311.5,728.3 316,730.1" stroke-width="1"/>
<polyline points="316,730.1 319.9,727.5" stroke-width="0.9"/>
<polyline points="319.9,727.5 323.8,722.3" stroke-width="0.8"/>
<polyline points="323.8,722.3 327.7,721.2" stroke-width="1"/>
<polyline points="327.7,721.2 331.7,724.4" stroke-width="0.8"/>
<polyline points="331.7,724.4 335.6,722.3" stroke-width="0.9"/>
<polyline points="335.6,722.3 339.5,731.7" stroke-width="1"/>
<polyline points="339.5,731.7 343.7,738 347.6,744" stroke-width="0.9"/>
<polyline points="347.6,744 350.8,742.7 355.2,758.4" stroke-width="1"/>
<polyline points="355.2,758.4 359.2,761 363.1,763.6 367,765.5" stroke-width="0.9"/>
<polyline points="367,765.5 371.2,753.7 375.1,754.5" stroke-width="1"/>
<polyline points="375.1,754.5 379.1,756.3" stroke-width="0.9"/>
<polyline points="379.1,756.3 383,756.6" stroke-width="1"/>
<polyline points="383,756.6 387.4,759.7" stroke-width="0.8"/>
<polyline points="387.4,759.7 391.4,752.6" stroke-width="0.9"/>
<polyline points="391.4,752.6 395.3,757.1 399.2,762.3" stroke-width="0.8"/>
<polyline points="399.2,762.3 403.1,770.2" stroke-width="0.9"/>
<polyline points="403.1,770.2 407.6,771" stroke-width="1"/>
<polyline points="407.6,771 412.3,773.6 415.7,772 419.4,765.7 423.6,768.3 427.5,770.2 431.9,772.3" stroke-width="0.9"/>
<polyline points="431.9,772.3 435.9,772.3 439.8,771.5" stroke-width="1"/>
<polyline points="439.8,771.5 444.2,773.6" stroke-width="0.9"/>
<polyline points="444.2,773.6 448.2,774.9" stroke-width="1"/>
<polyline points="448.2,774.9 452.1,776.7" stroke-width="0.9"/>
<polyline points="452.1,776.7 455.5,777.5" stroke-width="1"/>
<polyline points="455.5,777.5 459.9,768.9" stroke-width="0.9"/>
<polyline points="459.9,768.9 463.9,764.4" stroke-width="0.8"/>
<polyline points="463.9,764.4 467.8,764.9 471.2,764.9 475.1,750.5" stroke-width="1"/>
<polyline points="475.1,750.5 479.5,745.6" stroke-width="0.8"/>
<polyline points="479.5,745.6 483.1,744 486.7,745.3" stroke-width="1"/>
<polyline points="486.7,745.3 490.5,741.4" stroke-width="0.7"/>
<polyline points="490.5,741.4 495.2,738.8" stroke-width="0.9"/>
<polyline points="495.2,738.8 499.1,735.6" stroke-width="0.8"/>
<polyline points="499.1,735.6 503,734.3 507,724.4" stroke-width="1"/>
<polyline points="507,724.4 511.2,730.1" stroke-width="0.8"/>
<polyline points="511.2,730.1 515.1,721 519,720.4" stroke-width="1"/>
<polyline points="519,720.4 523.2,725.7" stroke-width="0.8"/>
<polyline points="523.2,725.7 527.1,728.3" stroke-width="0.9"/>
<polyline points="527.1,728.3 531,723" stroke-width="0.8"/>
<polyline points="531,723 535,721.2 539.2,729.1" stroke-width="0.9"/>
<polyline points="539.2,729.1 543.1,725.7" stroke-width="0.8"/>
<polyline points="543.1,725.7 547,724.4" stroke-width="1"/>
<polyline points="547,724.4 551.2,732.7" stroke-width="0.9"/>
<polyline points="551.2,732.7 555.1,727.5 559.1,731.7 563.2,728.3" stroke-width="0.8"/>
<polyline points="563.2,728.3 567.2,722.5 571.1,730.9 575,737.4 579.2,730.1" stroke-width="0.9"/>
<polyline points="579.2,730.1 583.1,725.7" stroke-width="0.8"/>
<polyline points="583.1,725.7 587.1,725.1 591.3,742.7 595.2,729.6" stroke-width="1"/>
<polyline points="595.2,729.6 599.1,724.4" stroke-width="0.8"/>
<polyline points="599.1,724.4 603,727" stroke-width="0.9"/>
<polyline points="603,727 607.2,725.7 611.2,725.7" stroke-width="1"/>
<polyline points="611.2,725.7 615.1,728.3 619,725.7 623.2,723.6" stroke-width="0.9"/>
<polyline points="623.2,723.6 627.1,723.6 631,722.5 635,721.2 639.2,721.2" stroke-width="1"/>
<polyline points="639.2,721.2 643.1,727" stroke-width="0.9"/>
<polyline points="643.1,727 647,725.7 651.2,736.1 655.1,745.8" stroke-width="1"/>
<polyline points="655.1,745.8 659.1,740.1" stroke-width="0.9"/>
<polyline points="659.1,740.1 663.2,740.6 667.2,739.5" stroke-width="1"/>
<polyline points="667.2,739.5 671.1,732.7 675,726.5 679.2,723.6" stroke-width="0.9"/>
<polyline points="679.2,723.6 683.1,722.3 687.1,737.4" stroke-width="1"/>
<polyline points="687.1,737.4 691,740.6" stroke-width="0.8"/>
<polyline points="691,740.6 695.2,753.7" stroke-width="1"/>
<polyline points="695.2,753.7 699.1,751.3" stroke-width="0.9"/>
<polyline points="699.1,751.3 703,755 707.2,750.5 711.2,753.9 715.1,750.5" stroke-width="0.8"/>
<polyline points="715.1,750.5 719,740.6" stroke-width="1"/>
<polyline points="719,740.6 723.2,738" stroke-width="0.9"/>
<polyline points="723.2,738 727.1,732.7" stroke-width="0.8"/>
<polyline points="727.1,732.7 731,731.4 735.2,732.7" stroke-width="1"/>
<polyline points="735.2,732.7 739.2,736.1" stroke-width="0.8"/>
<polyline points="739.2,736.1 743.1,737.4" stroke-width="1"/>
<polyline points="743.1,737.4 747.3,740.6" stroke-width="0.8"/>
<polyline points="747.3,740.6 751.2,729.6 755.1,728.8" stroke-width="1"/>
<polyline points="755.1,728.8 759.1,727" stroke-width="0.9"/>
<polyline points="759.1,727 763.2,725.1" stroke-width="1"/>
<polyline points="763.2,725.1 767.2,718.3" stroke-width="0.9"/>
<polyline points="767.2,718.3 771.1,719.9 775,730.1 779.2,728.3 783.1,729.1" stroke-width="1"/>
<polyline points="783.1,729.1 787.1,726.5" stroke-width="0.9"/>
<polyline points="787.1,726.5 791,722.5" stroke-width="0.7"/>
<polyline points="791,722.5 795.2,725.7 799.1,721.2" stroke-width="0.8"/>
<polyline points="799.1,721.2 803,721.7" stroke-width="1"/>
<polyline points="803,721.7 807.2,729.6" stroke-width="0.9"/>
<polyline points="807.2,729.6 811.2,745.8" stroke-width="1"/>
<polyline points="811.2,745.8 815.1,744" stroke-width="0.9"/>
<polyline points="815.1,744 819,755.2" stroke-width="1"/>
<polyline points="819,755.2 822.9,751.8" stroke-width="0.8"/>
<polyline points="822.9,751.8 827.1,758.4" stroke-width="0.9"/>
<polyline points="827.1,758.4 831,755.2" stroke-width="0.8"/>
<polyline points="831,755.2 835,753.7" stroke-width="1"/>
<polyline points="835,753.7 839.2,744.8 843.1,746.6" stroke-width="0.9"/>
<polyline points="843.1,746.6 847,747.4 850.9,746.6" stroke-width="1"/>
<polyline points="850.9,746.6 855.1,750.5 859.1,755.8 863,751.1" stroke-width="0.8"/>
<polyline points="863,751.1 866.9,748.4" stroke-width="0.9"/>
<polyline points="866.9,748.4 871.1,749.7" stroke-width="1"/>
<polyline points="871.1,749.7 875,752.4" stroke-width="0.9"/>
<polyline points="875,752.4 879,748.4" stroke-width="0.7"/>
<polyline points="879,748.4 882.9,753.7" stroke-width="0.8"/>
<polyline points="882.9,753.7 887.1,756.6" stroke-width="0.9"/>
<polyline points="887.1,756.6 891,739.5" stroke-width="1"/>
<polyline points="891,739.5 894.9,742.2 898.8,744.5" stroke-width="0.9"/>
<polyline points="898.8,744.5 903,738.8 907,734.3 910.9,730.9 915.1,736.1" stroke-width="0.8"/>
<polyline points="915.1,736.1 919,736.7" stroke-width="1"/>
<polyline points="919,736.7 922.9,739.5" stroke-width="0.8"/>
<polyline points="922.9,739.5 926.9,738.8" stroke-width="1"/>
<polyline points="926.9,738.8 931,733.5" stroke-width="0.8"/>
<polyline points="931,733.5 935,724.9" stroke-width="0.9"/>
<polyline points="935,724.9 938.9,729.6" stroke-width="0.8"/>
<polyline points="938.9,729.6 942.8,728.3" stroke-width="1"/>
<polyline points="942.8,728.3 947,730.9 950.9,732.7 954.9,730.1" stroke-width="0.9"/>
<polyline points="954.9,730.1 959.4,725" stroke-width="0.8"/>
<polyline points="959.4,725 963.1,723.3 967,715.6 970.5,717.5" stroke-width="0.9"/>
<polyline points="970.5,717.5 975.2,718.3" stroke-width="1"/>
<polyline points="975.2,718.3 979.1,715.2 983,711.8" stroke-width="0.8"/>
<polyline points="983,711.8 987,712.1 991.2,711.3" stroke-width="1"/>
<polyline points="991.2,711.3 995.1,718.6 999,716 1003.2,713.4 1007.1,716 1011,717.8" stroke-width="0.9"/>
<polyline points="1011,717.8 1015,721.2" stroke-width="0.8"/>
<polyline points="1015,721.2 1019.2,722.5 1023.1,721.2" stroke-width="1"/>
<polyline points="1023.1,721.2 1027,725.1" stroke-width="0.7"/>
<polyline points="1027,725.1 1031.2,717" stroke-width="0.9"/>
<polyline points="1031.2,717 1035.1,721.2 1039.1,726.2" stroke-width="0.8"/>
<polyline points="1039.1,726.2 1043.2,727 1047.2,727.5 1051.1,741.4" stroke-width="1"/>
<polyline points="1051.1,741.4 1055,736.1" stroke-width="0.8"/>
<polyline points="1055,736.1 1059.2,738.8" stroke-width="0.9"/>
<polyline points="1059.2,738.8 1063.1,758.4 1067.1,767.5" stroke-width="1"/>
<polyline points="1067.1,767.5 1071.3,770.2 1075.2,772 1079.1,766.2" stroke-width="0.9"/>
<polyline points="1079.1,766.2 1083,769.4" stroke-width="0.8"/>
<polyline points="1083,769.4 1087.2,769.4" stroke-width="1"/>
<polyline points="1087.2,769.4 1091.2,762.3" stroke-width="0.9"/>
<polyline points="1091.2,762.3 1095.1,765.7" stroke-width="0.8"/>
<polyline points="1095.1,765.7 1099,774.1 1103.2,766.8 1107.1,761" stroke-width="0.9"/>
<polyline points="1107.1,761 1111,761 1115,760.5 1119.2,759.7" stroke-width="1"/>
<polyline points="1119.2,759.7 1123.1,764.9" stroke-width="0.8"/>
<polyline points="1123.1,764.9 1127,765.5 1131.2,764.4 1135.1,764.4 1139.1,765.5" stroke-width="1"/>
<polyline points="1139.1,765.5 1143.2,761.5" stroke-width="0.8"/>
<polyline points="1143.2,761.5 1147.2,762.3 1151.1,763.1" stroke-width="1"/>
<polyline points="1151.1,763.1 1155,760.5" stroke-width="0.9"/>
<polyline points="1155,760.5 1159.2,745.3 1163.1,744" stroke-width="1"/>
<polyline points="1163.1,744 1167.1,736.1" stroke-width="0.9"/>
<polyline points="1167.1,736.1 1171,725.7" stroke-width="1"/>
<polyline points="1171,725.7 1175.2,729.1" stroke-width="0.8"/>
<polyline points="1175.2,729.1 1179.1,728.3" stroke-width="1"/>
<polyline points="1179.1,728.3 1183,722.3 1187.2,725.1" stroke-width="0.9"/>
<polyline points="1187.2,725.1 1191.2,728.3" stroke-width="0.8"/>
<polyline points="1191.2,728.3 1195.1,728.3" stroke-width="1"/>
<polyline points="1195.1,728.3 1199,722.5" stroke-width="0.9"/>
<polyline points="1199,722.5 1203.2,726.2" stroke-width="0.8"/>
<polyline points="1203.2,726.2 1207.1,733.5 1211,735.4" stroke-width="0.9"/>
<polyline points="1211,735.4 1215.2,734.8 1219.2,733.5" stroke-width="1"/>
<polyline points="1219.2,733.5 1223.1,727.5" stroke-width="0.9"/>
<polyline points="1223.1,727.5 1227.3,729.1" stroke-width="1"/>
<polyline points="1227.3,729.1 1231.2,733.5" stroke-width="0.8"/>
<polyline points="1231.2,733.5 1235.1,744.5 1239.1,743.2 1243.2,742.2" stroke-width="1"/>
<polyline points="1243.2,742.2 1247.2,736.1 1251.1,742.2" stroke-width="0.9"/>
<polyline points="1251.1,742.2 1255,742.2 1259.2,731.7" stroke-width="1"/>
<polyline points="1259.2,731.7 1263.1,723.6" stroke-width="0.9"/>
<polyline points="1263.1,723.6 1267.1,727 1271,722.3" stroke-width="0.8"/>
<polyline points="1271,722.3 1275.2,724.4" stroke-width="0.9"/>
<polyline points="1275.2,724.4 1279.1,724.4" stroke-width="1"/>
<polyline points="1279.1,724.4 1283,722.5 1287.2,719.9" stroke-width="0.9"/>
<polyline points="1287.2,719.9 1291.2,718.6" stroke-width="1"/>
<polyline points="1291.2,718.6 1295.1,713.9" stroke-width="0.8"/>
<polyline points="1295.1,713.9 1299,713.4" stroke-width="1"/>
<polyline points="1299,713.4 1302.9,716" stroke-width="0.9"/>
<polyline points="1302.9,716 1307.1,715.2 1311,716 1315,725.1" stroke-width="1"/>
<polyline points="1315,725.1 1319.2,734.3 1323.1,727 1327,719.6 1330.9,712.6 1335.1,710 1339.1,707.3" stroke-width="0.9"/>
<polyline points="1339.1,707.3 1343,711.3" stroke-width="0.7"/>
<polyline points="1343,711.3 1346.9,712.6" stroke-width="1"/>
<polyline points="1346.9,712.6 1351.1,708.6" stroke-width="0.8"/>
<polyline points="1351.1,708.6 1355,716" stroke-width="0.9"/>
<polyline points="1355,716 1359,720.4" stroke-width="0.8"/>
<polyline points="1359,720.4 1362.9,717.8" stroke-width="0.9"/>
<polyline points="1362.9,717.8 1367.1,723" stroke-width="0.8"/>
<polyline points="1367.1,723 1371,724.4" stroke-width="1"/>
<polyline points="1371,724.4 1374.9,732.2" stroke-width="0.9"/>
<polyline points="1374.9,732.2 1378.8,735.4 1383,730.1" stroke-width="0.8"/>
<polyline points="1383,730.1 1387,728.8" stroke-width="1"/>
<polyline points="1387,728.8 1390.9,734" stroke-width="0.8"/>
<polyline points="1390.9,734 1395.1,733 1399,732.2 1403.2,732.4" stroke-width="1"/>
<polyline points="1403.2,732.4 1407.2,740.5 1411.3,749.4 1415.2,741" stroke-width="0.9"/>
<polyline points="1415.2,741 1419.2,739.9" stroke-width="1"/>
<polyline points="1419.2,739.9 1423.1,732.7" stroke-width="0.9"/>
<polyline points="1423.1,732.7 1427.2,732.7" stroke-width="1"/>
<polyline points="1427.2,732.7 1431.3,734.7" stroke-width="0.9"/>
<polyline points="1431.3,734.7 1435.2,736.2" stroke-width="1"/>
<polyline points="1435.2,736.2 1439.1,729.7 1443.2,723.6" stroke-width="0.9"/>
<polyline points="1443.2,723.6 1447.2,719.3" stroke-width="0.8"/>
<polyline points="1447.2,719.3 1450.7,717.8" stroke-width="1"/>
<polyline points="1450.7,717.8 1455.3,720.5 1459.5,722.8" stroke-width="0.9"/>
<polyline points="1459.5,722.8 1463.5,727" stroke-width="0.8"/>
<polyline points="1463.5,727 1467.4,732.6 1471.4,738.3" stroke-width="0.9"/>
<polyline points="1471.4,738.3 1475.3,738.9" stroke-width="1"/>
<polyline points="1475.3,738.9 1479.5,734.6" stroke-width="0.7"/>
<polyline points="1479.5,734.6 1483.5,738.9" stroke-width="0.8"/>
<polyline points="1483.5,738.9 1487.7,729.3" stroke-width="1"/>
</g>
</g>
<g clip-path="url(#cd)">
<g shape-rendering="crispEdges">
<rect x="3" y="833" width="1" height="7" fill="#02B1DC"/>
<rect x="7" y="833" width="1" height="5" fill="#02B1DC"/>
<rect x="11" y="833" width="1" height="3" fill="#02B1DC"/>
<rect x="19" y="830" width="1" height="4" fill="#02B1DC"/>
<rect x="23" y="827" width="1" height="7" fill="#02B1DC"/>
<rect x="27" y="826" width="1" height="8" fill="#02B1DC"/>
<rect x="31" y="822" width="1" height="12" fill="#02B1DC"/>
<rect x="35" y="818" width="1" height="16" fill="#02B1DC"/>
<rect x="39" y="814" width="1" height="20" fill="#02B1DC"/>
<rect x="43" y="814" width="1" height="20" fill="#02B1DC"/>
<rect x="47" y="815" width="1" height="19" fill="#02B1DC"/>
<rect x="51" y="815" width="1" height="19" fill="#02B1DC"/>
<rect x="55" y="815" width="1" height="19" fill="#02B1DC"/>
<rect x="59" y="817" width="1" height="17" fill="#02B1DC"/>
<rect x="63" y="818" width="1" height="16" fill="#02B1DC"/>
<rect x="67" y="821" width="1" height="13" fill="#02B1DC"/>
<rect x="71" y="822" width="1" height="12" fill="#02B1DC"/>
<rect x="75" y="825" width="1" height="9" fill="#02B1DC"/>
<rect x="79" y="827" width="1" height="7" fill="#02B1DC"/>
<rect x="83" y="826" width="1" height="8" fill="#02B1DC"/>
<rect x="87" y="832" width="1" height="2" fill="#02B1DC"/>
<rect x="91" y="833" width="1" height="1" fill="#02B1DC"/>
<rect x="95" y="833" width="1" height="3" fill="#02B1DC"/>
<rect x="99" y="833" width="1" height="4" fill="#02B1DC"/>
<rect x="103" y="833" width="1" height="6" fill="#02B1DC"/>
<rect x="107" y="833" width="1" height="9" fill="#02B1DC"/>
<rect x="111" y="833" width="1" height="11" fill="#02B1DC"/>
<rect x="115" y="833" width="1" height="12" fill="#02B1DC"/>
<rect x="119" y="833" width="1" height="13" fill="#02B1DC"/>
<rect x="123" y="833" width="1" height="13" fill="#02B1DC"/>
<rect x="127" y="833" width="1" height="15" fill="#02B1DC"/>
<rect x="131" y="833" width="1" height="13" fill="#02B1DC"/>
<rect x="135" y="833" width="1" height="13" fill="#02B1DC"/>
<rect x="139" y="833" width="1" height="13" fill="#02B1DC"/>
<rect x="143" y="833" width="1" height="13" fill="#02B1DC"/>
<rect x="147" y="833" width="1" height="13" fill="#02B1DC"/>
<rect x="151" y="833" width="1" height="13" fill="#02B1DC"/>
<rect x="155" y="833" width="1" height="11" fill="#02B1DC"/>
<rect x="159" y="833" width="1" height="11" fill="#02B1DC"/>
<rect x="163" y="833" width="1" height="10" fill="#02B1DC"/>
<rect x="167" y="833" width="1" height="10" fill="#02B1DC"/>
<rect x="171" y="833" width="1" height="8" fill="#02B1DC"/>
<rect x="175" y="833" width="1" height="6" fill="#02B1DC"/>
<rect x="179" y="833" width="1" height="3" fill="#02B1DC"/>
<rect x="183" y="833" width="1" height="1" fill="#02B1DC"/>
<rect x="187" y="827" width="1" height="7" fill="#02B1DC"/>
<rect x="191" y="822" width="1" height="12" fill="#02B1DC"/>
<rect x="195" y="814" width="1" height="20" fill="#02B1DC"/>
<rect x="199" y="810" width="1" height="24" fill="#02B1DC"/>
<rect x="203" y="807" width="1" height="27" fill="#02B1DC"/>
<rect x="207" y="807" width="1" height="27" fill="#02B1DC"/>
<rect x="211" y="807" width="1" height="27" fill="#02B1DC"/>
<rect x="215" y="807" width="1" height="27" fill="#02B1DC"/>
<rect x="219" y="808" width="1" height="26" fill="#02B1DC"/>
<rect x="223" y="807" width="1" height="27" fill="#02B1DC"/>
<rect x="227" y="806" width="1" height="28" fill="#02B1DC"/>
<rect x="231" y="807" width="1" height="27" fill="#02B1DC"/>
<rect x="235" y="808" width="1" height="26" fill="#02B1DC"/>
<rect x="239" y="810" width="1" height="24" fill="#02B1DC"/>
<rect x="243" y="817" width="1" height="17" fill="#02B1DC"/>
<rect x="247" y="823" width="1" height="11" fill="#02B1DC"/>
<rect x="251" y="829" width="1" height="5" fill="#02B1DC"/>
<rect x="259" y="833" width="1" height="3" fill="#02B1DC"/>
<rect x="263" y="833" width="1" height="5" fill="#02B1DC"/>
<rect x="267" y="833" width="1" height="6" fill="#02B1DC"/>
<rect x="271" y="833" width="1" height="7" fill="#02B1DC"/>
<rect x="275" y="833" width="1" height="8" fill="#02B1DC"/>
<rect x="279" y="833" width="1" height="11" fill="#02B1DC"/>
<rect x="283" y="833" width="1" height="13" fill="#02B1DC"/>
<rect x="287" y="833" width="1" height="14" fill="#02B1DC"/>
<rect x="291" y="833" width="1" height="14" fill="#02B1DC"/>
<rect x="295" y="833" width="1" height="11" fill="#02B1DC"/>
<rect x="299" y="833" width="1" height="9" fill="#02B1DC"/>
<rect x="303" y="833" width="1" height="6" fill="#02B1DC"/>
<rect x="307" y="833" width="1" height="3" fill="#02B1DC"/>
<rect x="311" y="833" width="1" height="2" fill="#02B1DC"/>
<rect x="323" y="830" width="1" height="4" fill="#02B1DC"/>
<rect x="327" y="827" width="1" height="7" fill="#02B1DC"/>
<rect x="331" y="826" width="1" height="8" fill="#02B1DC"/>
<rect x="335" y="825" width="1" height="9" fill="#02B1DC"/>
<rect x="339" y="826" width="1" height="8" fill="#02B1DC"/>
<rect x="343" y="830" width="1" height="4" fill="#02B1DC"/>
<rect x="347" y="832" width="1" height="2" fill="#02B1DC"/>
<rect x="355" y="833" width="1" height="7" fill="#02B1DC"/>
<rect x="359" y="833" width="1" height="14" fill="#02B1DC"/>
<rect x="363" y="833" width="1" height="20" fill="#02B1DC"/>
<rect x="367" y="833" width="1" height="26" fill="#02B1DC"/>
<rect x="371" y="833" width="1" height="28" fill="#02B1DC"/>
<rect x="375" y="833" width="1" height="30" fill="#02B1DC"/>
<rect x="379" y="833" width="1" height="31" fill="#02B1DC"/>
<rect x="383" y="833" width="1" height="32" fill="#02B1DC"/>
<rect x="387" y="833" width="1" height="33" fill="#02B1DC"/>
<rect x="391" y="833" width="1" height="34" fill="#02B1DC"/>
<rect x="395" y="833" width="1" height="34" fill="#02B1DC"/>
<rect x="399" y="833" width="1" height="37" fill="#02B1DC"/>
<rect x="403" y="833" width="1" height="44" fill="#02B1DC"/>
<rect x="407" y="833" width="1" height="51" fill="#02B1DC"/>
<rect x="411" y="833" width="1" height="57" fill="#02B1DC"/>
<rect x="415" y="833" width="1" height="60" fill="#02B1DC"/>
<rect x="419" y="833" width="1" height="62" fill="#02B1DC"/>
<rect x="423" y="833" width="1" height="64" fill="#02B1DC"/>
<rect x="427" y="833" width="1" height="66" fill="#02B1DC"/>
<rect x="431" y="833" width="1" height="68" fill="#02B1DC"/>
<rect x="435" y="833" width="1" height="70" fill="#02B1DC"/>
<rect x="439" y="833" width="1" height="71" fill="#02B1DC"/>
<rect x="443" y="833" width="1" height="72" fill="#02B1DC"/>
<rect x="447" y="833" width="1" height="73" fill="#02B1DC"/>
<rect x="451" y="833" width="1" height="74" fill="#02B1DC"/>
<rect x="455" y="833" width="1" height="75" fill="#02B1DC"/>
<rect x="459" y="833" width="1" height="74" fill="#02B1DC"/>
<rect x="463" y="833" width="1" height="73" fill="#02B1DC"/>
<rect x="467" y="833" width="1" height="70" fill="#02B1DC"/>
<rect x="471" y="833" width="1" height="66" fill="#02B1DC"/>
<rect x="475" y="833" width="1" height="61" fill="#02B1DC"/>
<rect x="479" y="833" width="1" height="54" fill="#02B1DC"/>
<rect x="483" y="833" width="1" height="48" fill="#02B1DC"/>
<rect x="487" y="833" width="1" height="43" fill="#02B1DC"/>
<rect x="491" y="833" width="1" height="38" fill="#02B1DC"/>
<rect x="495" y="833" width="1" height="34" fill="#02B1DC"/>
<rect x="499" y="833" width="1" height="28" fill="#02B1DC"/>
<rect x="503" y="833" width="1" height="23" fill="#02B1DC"/>
<rect x="507" y="833" width="1" height="18" fill="#02B1DC"/>
<rect x="511" y="833" width="1" height="13" fill="#02B1DC"/>
<rect x="515" y="833" width="1" height="6" fill="#02B1DC"/>
<rect x="519" y="833" width="1" height="1" fill="#02B1DC"/>
<rect x="527" y="832" width="1" height="2" fill="#02B1DC"/>
<rect x="531" y="829" width="1" height="5" fill="#02B1DC"/>
<rect x="535" y="826" width="1" height="8" fill="#02B1DC"/>
<rect x="539" y="825" width="1" height="9" fill="#02B1DC"/>
<rect x="543" y="825" width="1" height="9" fill="#02B1DC"/>
<rect x="547" y="823" width="1" height="11" fill="#02B1DC"/>
<rect x="551" y="825" width="1" height="9" fill="#02B1DC"/>
<rect x="555" y="825" width="1" height="9" fill="#02B1DC"/>
<rect x="559" y="825" width="1" height="9" fill="#02B1DC"/>
<rect x="563" y="824" width="1" height="10" fill="#02B1DC"/>
<rect x="567" y="825" width="1" height="9" fill="#02B1DC"/>
<rect x="571" y="825" width="1" height="9" fill="#02B1DC"/>
<rect x="575" y="826" width="1" height="8" fill="#02B1DC"/>
<rect x="579" y="826" width="1" height="8" fill="#02B1DC"/>
<rect x="583" y="825" width="1" height="9" fill="#02B1DC"/>
<rect x="587" y="825" width="1" height="9" fill="#02B1DC"/>
<rect x="591" y="829" width="1" height="5" fill="#02B1DC"/>
<rect x="595" y="827" width="1" height="7" fill="#02B1DC"/>
<rect x="599" y="825" width="1" height="9" fill="#02B1DC"/>
<rect x="603" y="823" width="1" height="11" fill="#02B1DC"/>
<rect x="607" y="822" width="1" height="12" fill="#02B1DC"/>
<rect x="611" y="821" width="1" height="13" fill="#02B1DC"/>
<rect x="615" y="821" width="1" height="13" fill="#02B1DC"/>
<rect x="619" y="820" width="1" height="14" fill="#02B1DC"/>
<rect x="623" y="819" width="1" height="15" fill="#02B1DC"/>
<rect x="627" y="818" width="1" height="16" fill="#02B1DC"/>
<rect x="631" y="817" width="1" height="17" fill="#02B1DC"/>
<rect x="635" y="817" width="1" height="17" fill="#02B1DC"/>
<rect x="639" y="816" width="1" height="18" fill="#02B1DC"/>
<rect x="643" y="817" width="1" height="17" fill="#02B1DC"/>
<rect x="647" y="818" width="1" height="16" fill="#02B1DC"/>
<rect x="651" y="822" width="1" height="12" fill="#02B1DC"/>
<rect x="655" y="826" width="1" height="8" fill="#02B1DC"/>
<rect x="659" y="829" width="1" height="5" fill="#02B1DC"/>
<rect x="663" y="832" width="1" height="2" fill="#02B1DC"/>
<rect x="667" y="832" width="1" height="2" fill="#02B1DC"/>
<rect x="671" y="832" width="1" height="2" fill="#02B1DC"/>
<rect x="675" y="830" width="1" height="4" fill="#02B1DC"/>
<rect x="679" y="827" width="1" height="7" fill="#02B1DC"/>
<rect x="683" y="826" width="1" height="8" fill="#02B1DC"/>
<rect x="687" y="827" width="1" height="7" fill="#02B1DC"/>
<rect x="691" y="830" width="1" height="4" fill="#02B1DC"/>
<rect x="695" y="833" width="1" height="3" fill="#02B1DC"/>
<rect x="699" y="833" width="1" height="7" fill="#02B1DC"/>
<rect x="703" y="833" width="1" height="13" fill="#02B1DC"/>
<rect x="707" y="833" width="1" height="15" fill="#02B1DC"/>
<rect x="711" y="833" width="1" height="18" fill="#02B1DC"/>
<rect x="715" y="833" width="1" height="20" fill="#02B1DC"/>
<rect x="719" y="833" width="1" height="18" fill="#02B1DC"/>
<rect x="723" y="833" width="1" height="16" fill="#02B1DC"/>
<rect x="727" y="833" width="1" height="13" fill="#02B1DC"/>
<rect x="731" y="833" width="1" height="10" fill="#02B1DC"/>
<rect x="735" y="833" width="1" height="8" fill="#02B1DC"/>
<rect x="739" y="833" width="1" height="7" fill="#02B1DC"/>
<rect x="743" y="833" width="1" height="5" fill="#02B1DC"/>
<rect x="747" y="833" width="1" height="5" fill="#02B1DC"/>
<rect x="751" y="833" width="1" height="3" fill="#02B1DC"/>
<rect x="755" y="833" width="1" height="2" fill="#02B1DC"/>
<rect x="759" y="833" width="1" height="1" fill="#02B1DC"/>
<rect x="767" y="829" width="1" height="5" fill="#02B1DC"/>
<rect x="771" y="827" width="1" height="7" fill="#02B1DC"/>
<rect x="775" y="826" width="1" height="8" fill="#02B1DC"/>
<rect x="779" y="826" width="1" height="8" fill="#02B1DC"/>
<rect x="783" y="825" width="1" height="9" fill="#02B1DC"/>
<rect x="787" y="825" width="1" height="9" fill="#02B1DC"/>
<rect x="791" y="823" width="1" height="11" fill="#02B1DC"/>
<rect x="795" y="823" width="1" height="11" fill="#02B1DC"/>
<rect x="799" y="823" width="1" height="11" fill="#02B1DC"/>
<rect x="803" y="821" width="1" height="13" fill="#02B1DC"/>
<rect x="807" y="823" width="1" height="11" fill="#02B1DC"/>
<rect x="811" y="827" width="1" height="7" fill="#02B1DC"/>
<rect x="815" y="830" width="1" height="4" fill="#02B1DC"/>
<rect x="819" y="833" width="1" height="3" fill="#02B1DC"/>
<rect x="823" y="833" width="1" height="8" fill="#02B1DC"/>
<rect x="827" y="833" width="1" height="13" fill="#02B1DC"/>
<rect x="831" y="833" width="1" height="19" fill="#02B1DC"/>
<rect x="835" y="833" width="1" height="20" fill="#02B1DC"/>
<rect x="839" y="833" width="1" height="21" fill="#02B1DC"/>
<rect x="843" y="833" width="1" height="21" fill="#02B1DC"/>
<rect x="847" y="833" width="1" height="21" fill="#02B1DC"/>
<rect x="851" y="833" width="1" height="21" fill="#02B1DC"/>
<rect x="855" y="833" width="1" height="22" fill="#02B1DC"/>
<rect x="859" y="833" width="1" height="23" fill="#02B1DC"/>
<rect x="863" y="833" width="1" height="25" fill="#02B1DC"/>
<rect x="867" y="833" width="1" height="24" fill="#02B1DC"/>
<rect x="871" y="833" width="1" height="25" fill="#02B1DC"/>
<rect x="875" y="833" width="1" height="25" fill="#02B1DC"/>
<rect x="879" y="833" width="1" height="26" fill="#02B1DC"/>
<rect x="883" y="833" width="1" height="26" fill="#02B1DC"/>
<rect x="887" y="833" width="1" height="27" fill="#02B1DC"/>
<rect x="891" y="833" width="1" height="25" fill="#02B1DC"/>
<rect x="895" y="833" width="1" height="23" fill="#02B1DC"/>
<rect x="899" y="833" width="1" height="22" fill="#02B1DC"/>
<rect x="903" y="833" width="1" height="19" fill="#02B1DC"/>
<rect x="907" y="833" width="1" height="16" fill="#02B1DC"/>
<rect x="911" y="833" width="1" height="13" fill="#02B1DC"/>
<rect x="915" y="833" width="1" height="11" fill="#02B1DC"/>
<rect x="919" y="833" width="1" height="10" fill="#02B1DC"/>
<rect x="923" y="833" width="1" height="8" fill="#02B1DC"/>
<rect x="927" y="833" width="1" height="7" fill="#02B1DC"/>
<rect x="931" y="833" width="1" height="5" fill="#02B1DC"/>
<rect x="935" y="833" width="1" height="3" fill="#02B1DC"/>
<rect x="939" y="833" width="1" height="1" fill="#02B1DC"/>
<rect x="947" y="832" width="1" height="2" fill="#02B1DC"/>
<rect x="951" y="831" width="1" height="3" fill="#02B1DC"/>
<rect x="955" y="831" width="1" height="3" fill="#02B1DC"/>
<rect x="959" y="830" width="1" height="4" fill="#02B1DC"/>
<rect x="963" y="827" width="1" height="7" fill="#02B1DC"/>
<rect x="967" y="823" width="1" height="11" fill="#02B1DC"/>
<rect x="971" y="822" width="1" height="12" fill="#02B1DC"/>
<rect x="975" y="819" width="1" height="15" fill="#02B1DC"/>
<rect x="979" y="818" width="1" height="16" fill="#02B1DC"/>
<rect x="983" y="815" width="1" height="19" fill="#02B1DC"/>
<rect x="987" y="813" width="1" height="21" fill="#02B1DC"/>
<rect x="991" y="812" width="1" height="22" fill="#02B1DC"/>
<rect x="995" y="812" width="1" height="22" fill="#02B1DC"/>
<rect x="999" y="812" width="1" height="22" fill="#02B1DC"/>
<rect x="1003" y="812" width="1" height="22" fill="#02B1DC"/>
<rect x="1007" y="813" width="1" height="21" fill="#02B1DC"/>
<rect x="1011" y="813" width="1" height="21" fill="#02B1DC"/>
<rect x="1015" y="813" width="1" height="21" fill="#02B1DC"/>
<rect x="1019" y="815" width="1" height="19" fill="#02B1DC"/>
<rect x="1023" y="815" width="1" height="19" fill="#02B1DC"/>
<rect x="1027" y="816" width="1" height="18" fill="#02B1DC"/>
<rect x="1031" y="817" width="1" height="17" fill="#02B1DC"/>
<rect x="1035" y="818" width="1" height="16" fill="#02B1DC"/>
<rect x="1039" y="819" width="1" height="15" fill="#02B1DC"/>
<rect x="1043" y="820" width="1" height="14" fill="#02B1DC"/>
<rect x="1047" y="821" width="1" height="13" fill="#02B1DC"/>
<rect x="1051" y="825" width="1" height="9" fill="#02B1DC"/>
<rect x="1055" y="826" width="1" height="8" fill="#02B1DC"/>
<rect x="1059" y="829" width="1" height="5" fill="#02B1DC"/>
<rect x="1063" y="833" width="1" height="2" fill="#02B1DC"/>
<rect x="1067" y="833" width="1" height="13" fill="#02B1DC"/>
<rect x="1071" y="833" width="1" height="22" fill="#02B1DC"/>
<rect x="1075" y="833" width="1" height="30" fill="#02B1DC"/>
<rect x="1079" y="833" width="1" height="35" fill="#02B1DC"/>
<rect x="1083" y="833" width="1" height="41" fill="#02B1DC"/>
<rect x="1087" y="833" width="1" height="44" fill="#02B1DC"/>
<rect x="1091" y="833" width="1" height="46" fill="#02B1DC"/>
<rect x="1095" y="833" width="1" height="48" fill="#02B1DC"/>
<rect x="1099" y="833" width="1" height="56" fill="#02B1DC"/>
<rect x="1103" y="833" width="1" height="59" fill="#02B1DC"/>
<rect x="1107" y="833" width="1" height="60" fill="#02B1DC"/>
<rect x="1111" y="833" width="1" height="60" fill="#02B1DC"/>
<rect x="1115" y="833" width="1" height="60" fill="#02B1DC"/>
<rect x="1119" y="833" width="1" height="60" fill="#02B1DC"/>
<rect x="1123" y="833" width="1" height="60" fill="#02B1DC"/>
<rect x="1127" y="833" width="1" height="59" fill="#02B1DC"/>
<rect x="1131" y="833" width="1" height="59" fill="#02B1DC"/>
<rect x="1135" y="833" width="1" height="58" fill="#02B1DC"/>
<rect x="1139" y="833" width="1" height="58" fill="#02B1DC"/>
<rect x="1143" y="833" width="1" height="56" fill="#02B1DC"/>
<rect x="1147" y="833" width="1" height="54" fill="#02B1DC"/>
<rect x="1151" y="833" width="1" height="52" fill="#02B1DC"/>
<rect x="1155" y="833" width="1" height="49" fill="#02B1DC"/>
<rect x="1159" y="833" width="1" height="44" fill="#02B1DC"/>
<rect x="1163" y="833" width="1" height="40" fill="#02B1DC"/>
<rect x="1167" y="833" width="1" height="34" fill="#02B1DC"/>
<rect x="1171" y="833" width="1" height="27" fill="#02B1DC"/>
<rect x="1175" y="833" width="1" height="20" fill="#02B1DC"/>
<rect x="1179" y="833" width="1" height="14" fill="#02B1DC"/>
<rect x="1183" y="833" width="1" height="9" fill="#02B1DC"/>
<rect x="1187" y="833" width="1" height="5" fill="#02B1DC"/>
<rect x="1191" y="833" width="1" height="2" fill="#02B1DC"/>
<rect x="1199" y="832" width="1" height="2" fill="#02B1DC"/>
<rect x="1203" y="830" width="1" height="4" fill="#02B1DC"/>
<rect x="1207" y="829" width="1" height="5" fill="#02B1DC"/>
<rect x="1211" y="831" width="1" height="3" fill="#02B1DC"/>
<rect x="1215" y="832" width="1" height="2" fill="#02B1DC"/>
<rect x="1219" y="832" width="1" height="2" fill="#02B1DC"/>
<rect x="1223" y="832" width="1" height="2" fill="#02B1DC"/>
<rect x="1227" y="832" width="1" height="2" fill="#02B1DC"/>
<rect x="1231" y="832" width="1" height="2" fill="#02B1DC"/>
<rect x="1235" y="832" width="1" height="2" fill="#02B1DC"/>
<rect x="1239" y="833" width="1" height="1" fill="#02B1DC"/>
<rect x="1243" y="833" width="1" height="2" fill="#02B1DC"/>
<rect x="1247" y="833" width="1" height="3" fill="#02B1DC"/>
<rect x="1251" y="833" width="1" height="3" fill="#02B1DC"/>
<rect x="1255" y="833" width="1" height="4" fill="#02B1DC"/>
<rect x="1259" y="833" width="1" height="2" fill="#02B1DC"/>
<rect x="1267" y="831" width="1" height="3" fill="#02B1DC"/>
<rect x="1271" y="829" width="1" height="5" fill="#02B1DC"/>
<rect x="1275" y="827" width="1" height="7" fill="#02B1DC"/>
<rect x="1279" y="826" width="1" height="8" fill="#02B1DC"/>
<rect x="1283" y="824" width="1" height="10" fill="#02B1DC"/>
<rect x="1287" y="823" width="1" height="11" fill="#02B1DC"/>
<rect x="1291" y="821" width="1" height="13" fill="#02B1DC"/>
<rect x="1295" y="819" width="1" height="15" fill="#02B1DC"/>
<rect x="1299" y="817" width="1" height="17" fill="#02B1DC"/>
<rect x="1303" y="815" width="1" height="19" fill="#02B1DC"/>
<rect x="1307" y="815" width="1" height="19" fill="#02B1DC"/>
<rect x="1311" y="815" width="1" height="19" fill="#02B1DC"/>
<rect x="1315" y="815" width="1" height="19" fill="#02B1DC"/>
<rect x="1319" y="819" width="1" height="15" fill="#02B1DC"/>
<rect x="1323" y="819" width="1" height="15" fill="#02B1DC"/>
<rect x="1327" y="818" width="1" height="16" fill="#02B1DC"/>
<rect x="1331" y="815" width="1" height="19" fill="#02B1DC"/>
<rect x="1335" y="812" width="1" height="22" fill="#02B1DC"/>
<rect x="1339" y="809" width="1" height="25" fill="#02B1DC"/>
<rect x="1343" y="808" width="1" height="26" fill="#02B1DC"/>
<rect x="1347" y="807" width="1" height="27" fill="#02B1DC"/>
<rect x="1351" y="806" width="1" height="28" fill="#02B1DC"/>
<rect x="1355" y="806" width="1" height="28" fill="#02B1DC"/>
<rect x="1359" y="807" width="1" height="27" fill="#02B1DC"/>
<rect x="1363" y="808" width="1" height="26" fill="#02B1DC"/>
<rect x="1367" y="809" width="1" height="25" fill="#02B1DC"/>
<rect x="1371" y="811" width="1" height="23" fill="#02B1DC"/>
<rect x="1375" y="814" width="1" height="20" fill="#02B1DC"/>
<rect x="1379" y="818" width="1" height="16" fill="#02B1DC"/>
<rect x="1383" y="819" width="1" height="15" fill="#02B1DC"/>
<rect x="1387" y="821" width="1" height="13" fill="#02B1DC"/>
<rect x="1391" y="823" width="1" height="11" fill="#02B1DC"/>
<rect x="1395" y="825" width="1" height="9" fill="#02B1DC"/>
<rect x="1399" y="826" width="1" height="8" fill="#02B1DC"/>
<rect x="1403" y="827" width="1" height="7" fill="#02B1DC"/>
<rect x="1407" y="829" width="1" height="5" fill="#02B1DC"/>
<rect x="1411" y="832" width="1" height="2" fill="#02B1DC"/>
<rect x="1419" y="832" width="1" height="2" fill="#02B1DC"/>
<rect x="1443" y="831" width="1" height="3" fill="#02B1DC"/>
<rect x="1447" y="828" width="1" height="6" fill="#02B1DC"/>
<rect x="1451" y="827" width="1" height="7" fill="#02B1DC"/>
<rect x="1455" y="826" width="1" height="8" fill="#02B1DC"/>
<rect x="1459" y="826" width="1" height="8" fill="#02B1DC"/>
<rect x="1463" y="826" width="1" height="8" fill="#02B1DC"/>
<rect x="1467" y="827" width="1" height="7" fill="#02B1DC"/>
<rect x="1471" y="828" width="1" height="6" fill="#02B1DC"/>
<rect x="1475" y="829" width="1" height="5" fill="#02B1DC"/>
<rect x="1479" y="830" width="1" height="4" fill="#02B1DC"/>
<rect x="1483" y="831" width="1" height="3" fill="#02B1DC"/>
<rect x="1487" y="831" width="1" height="3" fill="#02B1DC"/>
</g>
<g fill="none" stroke="#000" shape-rendering="crispEdges">
<polyline points="2.6,851.3 5.6,848.9 8.6,846.6 11.6,844.5" stroke-width="0.8"/>
<polyline points="11.6,844.5 14.6,842.5 17.6,840.7 20.6,838.9 23.6,837.2 26.6,835.3 29.6,833.3" stroke-width="0.9"/>
<polyline points="29.6,833.3 32.6,831.1 35.6,828.9" stroke-width="0.8"/>
<polyline points="35.6,828.9 38.6,826.9 41.6,824.9 44.6,822.9 47.6,821 50.6,819.3" stroke-width="0.9"/>
<polyline points="50.6,819.3 53.6,818.1 56.6,817.1 59.6,816.3 62.6,815.8 65.6,815.6 68.6,815.5 71.6,816 74.6,816.9 77.6,817.8 80.6,818.8 83.6,820" stroke-width="1"/>
<polyline points="83.6,820 86.6,821.3 89.6,823 92.6,825 95.6,827 98.6,828.8 101.6,830.7 104.6,832.5 107.6,834.3 110.6,836 113.6,837.6 116.6,839.1 119.6,840.6 122.6,842" stroke-width="0.9"/>
<polyline points="122.6,842 125.6,843.3 128.6,844.6 131.6,845.6 134.6,846.3 137.6,846.8 140.6,847.2 143.6,847.4 146.6,847.4 149.6,847.3 152.6,847.1 155.6,846.9 158.6,846.8 161.6,846.6 164.6,846.4 167.6,846.1 170.6,845.8 173.6,845.3 176.6,844.6 179.6,843.8 182.6,842.7" stroke-width="1"/>
<polyline points="182.6,842.7 185.6,840.9 188.6,838.8" stroke-width="0.9"/>
<polyline points="188.6,838.8 191.6,836.5 194.6,833.6 197.6,830.4" stroke-width="0.8"/>
<polyline points="197.6,830.4 200.6,827.4 203.6,824.4 206.6,821.4 209.6,818.4 212.6,815.5" stroke-width="0.7"/>
<polyline points="212.6,815.5 215.6,813.2" stroke-width="0.8"/>
<polyline points="215.6,813.2 218.6,811.2 221.6,809.5" stroke-width="0.9"/>
<polyline points="221.6,809.5 224.6,808.3 227.6,807.4 230.6,806.7 233.6,806.3 236.6,806.4 239.6,806.7 242.6,807.1 245.6,808.1 248.6,809.4" stroke-width="1"/>
<polyline points="248.6,809.4 251.6,811.4" stroke-width="0.9"/>
<polyline points="251.6,811.4 254.6,814.2 257.6,817" stroke-width="0.8"/>
<polyline points="257.6,817 260.6,820 263.6,823.1 266.6,826" stroke-width="0.7"/>
<polyline points="266.6,826 269.6,828.9 272.6,831.5 275.6,833.8 278.6,835.9" stroke-width="0.8"/>
<polyline points="278.6,835.9 281.6,837.9 284.6,839.9 287.6,841.5 290.6,842.8" stroke-width="0.9"/>
<polyline points="290.6,842.8 293.6,843.9 296.6,844.3 299.6,844.3 302.6,844.3 305.6,844.3 308.6,844.1 311.6,843.5 314.6,842.6 317.6,841.5 320.6,840.3" stroke-width="1"/>
<polyline points="320.6,840.3 323.6,838.5" stroke-width="0.9"/>
<polyline points="323.6,838.5 326.6,836.3" stroke-width="0.8"/>
<polyline points="326.6,836.3 329.6,834.4 332.6,832.9 335.6,831.5" stroke-width="0.9"/>
<polyline points="335.6,831.5 338.6,830.3 341.6,829.6 344.6,828.9 347.6,828.5 350.6,828.3 353.6,828.6 356.6,829.3" stroke-width="1"/>
<polyline points="356.6,829.3 359.6,831.4" stroke-width="0.9"/>
<polyline points="359.6,831.4 362.6,834.4" stroke-width="0.7"/>
<polyline points="362.6,834.4 365.6,837.3" stroke-width="0.8"/>
<polyline points="365.6,837.3 368.6,840.3 371.6,843.4 374.6,846.4 377.6,849.4 380.6,852.3" stroke-width="0.7"/>
<polyline points="380.6,852.3 383.6,855.1 386.6,857.7 389.6,860" stroke-width="0.8"/>
<polyline points="389.6,860 392.6,862.1 395.6,863.8" stroke-width="0.9"/>
<polyline points="395.6,863.8 398.6,865.1 401.6,866.3" stroke-width="1"/>
<polyline points="401.6,866.3 404.6,867.9" stroke-width="0.9"/>
<polyline points="404.6,867.9 407.6,870.2 410.6,872.7 413.6,875.3 416.6,878 419.6,880.9" stroke-width="0.8"/>
<polyline points="419.6,880.9 422.6,883.9 425.6,887" stroke-width="0.7"/>
<polyline points="425.6,887 428.6,889.7 431.6,892.3 434.6,894.6" stroke-width="0.8"/>
<polyline points="434.6,894.6 437.6,896.5 440.6,898.3 443.6,899.9 446.6,901.2" stroke-width="0.9"/>
<polyline points="446.6,901.2 449.6,902.5 452.6,903.6 455.6,904.5 458.6,905.4 461.6,906.1 464.6,906.3 467.6,906.3 470.6,906.3 473.6,905.7" stroke-width="1"/>
<polyline points="473.6,905.7 476.6,904.1 479.6,902.3 482.6,901 485.6,899.1" stroke-width="0.9"/>
<polyline points="485.6,899.1 488.6,896.1" stroke-width="0.7"/>
<polyline points="488.6,896.1 491.6,892.5 494.6,888.8 497.6,885.4 500.6,881.8 503.6,877.6" stroke-width="0.8"/>
<polyline points="503.6,877.6 506.6,872.9 509.6,868.5 512.6,864.1" stroke-width="0.9"/>
<polyline points="512.6,864.1 515.6,859.9 518.6,856 521.6,852.6 524.6,849.4" stroke-width="0.8"/>
<polyline points="524.6,849.4 527.6,846.4 530.6,843.3" stroke-width="0.7"/>
<polyline points="530.6,843.3 533.6,840.1 536.6,837 539.6,834.2 542.6,832.1" stroke-width="0.8"/>
<polyline points="542.6,832.1 545.6,830.2 548.6,828.8" stroke-width="0.9"/>
<polyline points="548.6,828.8 551.6,827.8 554.6,826.9 557.6,826.1 560.6,825.4 563.6,824.7 566.6,824.4 569.6,824.4 572.6,824.4 575.6,824.4 578.6,824.4 581.6,824.4 584.6,824.4 587.6,824.4 590.6,825 593.6,825.8 596.6,825.9 599.6,825.7 602.6,825.5 605.6,825.1 608.6,824.7 611.6,824.2 614.6,823.6 617.6,823 620.6,822.5 623.6,821.9 626.6,821.2 629.6,820.5 632.6,819.6 635.6,818.9 638.6,818.3 641.6,817.8 644.6,817.4 647.6,817.3 650.6,817.6 653.6,818.2 656.6,818.9 659.6,820 662.6,821.2 665.6,822.4 668.6,823.6 671.6,824.8 674.6,825.9 677.6,826.9 680.6,827.6 683.6,828.1 686.6,828.6 689.6,829.1 692.6,829.6 695.6,830 698.6,830.7 701.6,831.8" stroke-width="1"/>
<polyline points="701.6,831.8 704.6,833.2 707.6,834.8 710.6,836.8" stroke-width="0.9"/>
<polyline points="710.6,836.8 713.6,839.3 716.6,841.6 719.6,844.2 722.6,846.6" stroke-width="0.8"/>
<polyline points="722.6,846.6 725.6,847.9 728.6,848 731.6,848.1 734.6,848.1 737.6,848.2 740.6,848.1 743.6,847.3 746.6,846.2 749.6,845.1 752.6,843.8" stroke-width="1"/>
<polyline points="752.6,843.8 755.6,842.4" stroke-width="0.9"/>
<polyline points="755.6,842.4 758.6,841.2 761.6,840 764.6,838.8 767.6,837.6 770.6,836.3 773.6,835 776.6,833.7 779.6,832.5 782.6,831.3 785.6,830.2 788.6,829.2 791.6,828.2 794.6,827.2 797.6,826.4 800.6,825.6 803.6,824.8 806.6,824.4 809.6,824.4 812.6,824.4 815.6,824.4 818.6,824.7" stroke-width="1"/>
<polyline points="818.6,824.7 821.6,826.1 824.6,828 827.6,830.1" stroke-width="0.9"/>
<polyline points="827.6,830.1 830.6,832.9" stroke-width="0.8"/>
<polyline points="830.6,832.9 833.6,835.8 836.6,838.9 839.6,841.9" stroke-width="0.7"/>
<polyline points="839.6,841.9 842.6,844.6 845.6,847.1 848.6,849.2" stroke-width="0.8"/>
<polyline points="848.6,849.2 851.6,851 854.6,852.6 857.6,854" stroke-width="0.9"/>
<polyline points="857.6,854 860.6,855 863.6,855.8 866.6,856.5 869.6,857 872.6,857.5 875.6,857.8 878.6,858.2 881.6,858.5 884.6,858.9 887.6,859.3 890.6,859.4 893.6,859.3 896.6,859.1 899.6,858.7 902.6,858.2 905.6,857.4 908.6,856.5 911.6,855.4 914.6,854.1" stroke-width="1"/>
<polyline points="914.6,854.1 917.6,852.6 920.6,851 923.6,849.4 926.6,847.9 929.6,846.3 932.6,844.8 935.6,843.3 938.6,841.8 941.6,840.5 944.6,839.1" stroke-width="0.9"/>
<polyline points="944.6,839.1 947.6,837.8 950.6,836.6 953.6,835.5 956.6,834.8 959.6,834.4 962.6,833.5" stroke-width="1"/>
<polyline points="962.6,833.5 965.6,832.1 968.6,830.5 971.6,829.1" stroke-width="0.9"/>
<polyline points="971.6,829.1 974.6,827.8 977.6,826.6 980.6,825.2" stroke-width="1"/>
<polyline points="980.6,825.2 983.6,823.8 986.6,822.2 989.6,820.4 992.6,818.7 995.6,817.4 998.6,816" stroke-width="0.9"/>
<polyline points="998.6,816 1001.6,814.8 1004.6,813.8 1007.6,813.3 1010.6,813 1013.6,812.7 1016.6,812.6 1019.6,812.6 1022.6,812.8 1025.6,813.1 1028.6,813.4 1031.6,813.6 1034.6,813.9 1037.6,814.2 1040.6,814.6 1043.6,815.2 1046.6,816.2 1049.6,817.4 1052.6,818.4 1055.6,819.3 1058.6,820.3" stroke-width="1"/>
<polyline points="1058.6,820.3 1061.6,821.6 1064.6,823.7" stroke-width="0.9"/>
<polyline points="1064.6,823.7 1067.6,826.2 1070.6,829 1073.6,832.3 1076.6,836.3" stroke-width="0.8"/>
<polyline points="1076.6,836.3 1079.6,841.4 1082.6,846.7 1085.6,851.8 1088.6,856.9 1091.6,861.6 1094.6,866.1" stroke-width="0.9"/>
<polyline points="1094.6,866.1 1097.6,870.3 1100.6,874 1103.6,877.3" stroke-width="0.8"/>
<polyline points="1103.6,877.3 1106.6,880.3" stroke-width="0.7"/>
<polyline points="1106.6,880.3 1109.6,883" stroke-width="0.8"/>
<polyline points="1109.6,883 1112.6,885.1 1115.6,886.7 1118.6,888.2" stroke-width="0.9"/>
<polyline points="1118.6,888.2 1121.6,889.5" stroke-width="1"/>
<polyline points="1121.6,889.5 1124.6,890.9 1127.6,892.5" stroke-width="0.9"/>
<polyline points="1127.6,892.5 1130.6,893.7 1133.6,894 1136.6,894 1139.6,894 1142.6,893.9 1145.6,893.3 1148.6,892.6 1151.6,891.8 1154.6,890.8 1157.6,889.7 1160.6,888.4" stroke-width="1"/>
<polyline points="1160.6,888.4 1163.6,886.9 1166.6,884.9" stroke-width="0.9"/>
<polyline points="1166.6,884.9 1169.6,882.6 1172.6,880" stroke-width="0.8"/>
<polyline points="1172.6,880 1175.6,877.1" stroke-width="0.7"/>
<polyline points="1175.6,877.1 1178.6,873.8 1181.6,869.9" stroke-width="0.8"/>
<polyline points="1181.6,869.9 1184.6,865.2 1187.6,860.7" stroke-width="0.9"/>
<polyline points="1187.6,860.7 1190.6,856.6 1193.6,852.8 1196.6,849.2 1199.6,845.8 1202.6,842.5" stroke-width="0.8"/>
<polyline points="1202.6,842.5 1205.6,839.4" stroke-width="0.7"/>
<polyline points="1205.6,839.4 1208.6,837" stroke-width="0.8"/>
<polyline points="1208.6,837 1211.6,835.1 1214.6,833.4" stroke-width="0.9"/>
<polyline points="1214.6,833.4 1217.6,832.1 1220.6,831.3 1223.6,830.7 1226.6,830.4 1229.6,830.4 1232.6,830.4 1235.6,830.4 1238.6,830.4 1241.6,830.4 1244.6,830.9 1247.6,831.5 1250.6,832.2 1253.6,833 1256.6,834.1 1259.6,835 1262.6,835.6 1265.6,835.5 1268.6,835.2 1271.6,834.8 1274.6,834.2 1277.6,833.3 1280.6,832 1283.6,830.8 1286.6,829.6 1289.6,828.5 1292.6,827.4 1295.6,826.2 1298.6,825 1301.6,823.8 1304.6,822.5 1307.6,821.4 1310.6,820.4 1313.6,819.3 1316.6,818.3 1319.6,817.6 1322.6,817.1 1325.6,816.8 1328.6,816.5 1331.6,816.3 1334.6,815.9 1337.6,815.5 1340.6,814.9 1343.6,814.3 1346.6,813.6 1349.6,812.8 1352.6,811.9 1355.6,811 1358.6,810 1361.6,808.7 1364.6,807.7 1367.6,807.6 1370.6,807.6 1373.6,807.7 1376.6,808.4 1379.6,809.6 1382.6,810.6 1385.6,811.8 1388.6,813 1391.6,814.3 1394.6,815.5 1397.6,816.4 1400.6,817.6" stroke-width="1"/>
<polyline points="1400.6,817.6 1403.6,819.4 1406.6,821.3" stroke-width="0.9"/>
<polyline points="1406.6,821.3 1409.6,822.4 1412.6,823.5" stroke-width="1"/>
<polyline points="1412.6,823.5 1415.6,825 1418.6,826.6 1421.6,828.2" stroke-width="0.9"/>
<polyline points="1421.6,828.2 1424.6,829.5 1427.6,830.4 1430.6,831.1 1433.6,832 1436.6,832.9 1439.6,833.4 1442.6,833.3 1445.6,833.3 1448.6,833.3 1451.6,832.5" stroke-width="1"/>
<polyline points="1451.6,832.5 1454.6,831.1" stroke-width="0.9"/>
<polyline points="1454.6,831.1 1457.6,830.1 1460.6,829.2 1463.6,828.5 1466.6,827.8 1469.6,827.3 1472.6,827.1 1475.6,827.1 1478.6,827.1 1481.6,827.2 1484.6,827.5 1486,827.7" stroke-width="1"/>
</g>
</g>
<g font-family="'Liberation Sans',sans-serif" font-size="11">
<text x="7.3" y="684.0" fill="#222" textLength="67.7" lengthAdjust="spacingAndGlyphs" xml:space="preserve">RSI(14) 54.7010</text>
<text x="7.3" y="811.0" fill="#222" textLength="137.5" lengthAdjust="spacingAndGlyphs" xml:space="preserve">MACD(12,26,9) 0.01000 0.02053</text>
<text x="1879.3" y="681.9" fill="#222" textLength="15.0" lengthAdjust="spacingAndGlyphs" xml:space="preserve">100</text>
<text x="1878.3" y="700.9" fill="#222" textLength="10.0" lengthAdjust="spacingAndGlyphs" xml:space="preserve">80</text>
<text x="1878.3" y="775.0" fill="#222" textLength="10.0" lengthAdjust="spacingAndGlyphs" xml:space="preserve">20</text>
<text x="1879.3" y="792.6" fill="#222" textLength="5.0" lengthAdjust="spacingAndGlyphs" xml:space="preserve">0</text>
<text x="1879.3" y="808.8" fill="#222" textLength="32.4" lengthAdjust="spacingAndGlyphs" xml:space="preserve">0.12684</text>
<text x="1879.3" y="836.7" fill="#222" textLength="17.4" lengthAdjust="spacingAndGlyphs" xml:space="preserve">0.00</text>
<text x="1879.3" y="912.0" fill="#222" textLength="35.4" lengthAdjust="spacingAndGlyphs" xml:space="preserve">-0.30708</text>
</g>
<rect x="1876" y="673" width="1" height="1" fill="#3c3c3c" shape-rendering="crispEdges"/>
<rect x="1876" y="795" width="1" height="1" fill="#3c3c3c" shape-rendering="crispEdges"/>
<rect x="1876" y="800" width="1" height="1" fill="#3c3c3c" shape-rendering="crispEdges"/>
<rect x="1876" y="833" width="1" height="1" fill="#3c3c3c" shape-rendering="crispEdges"/>
<rect x="1876" y="914" width="1" height="1" fill="#3c3c3c" shape-rendering="crispEdges"/>
<g font-family="'Liberation Sans',sans-serif" font-size="11">
<rect x="3" y="916" width="1" height="3" fill="#3c3c3c" shape-rendering="crispEdges"/>
<text x="2.6" y="928.0" fill="#222" textLength="46.5" lengthAdjust="spacingAndGlyphs" xml:space="preserve">19 Jul 2018</text>
<rect x="67" y="916" width="1" height="3" fill="#3c3c3c" shape-rendering="crispEdges"/>
<text x="66.6" y="928.0" fill="#222" textLength="50.5" lengthAdjust="spacingAndGlyphs" xml:space="preserve">10 Aug 2018</text>
<rect x="131" y="916" width="1" height="3" fill="#3c3c3c" shape-rendering="crispEdges"/>
<text x="130.6" y="928.0" fill="#222" textLength="46.0" lengthAdjust="spacingAndGlyphs" xml:space="preserve">3 Sep 2018</text>
<rect x="195" y="916" width="1" height="3" fill="#3c3c3c" shape-rendering="crispEdges"/>
<text x="194.6" y="928.0" fill="#222" textLength="51.0" lengthAdjust="spacingAndGlyphs" xml:space="preserve">25 Sep 2018</text>
<rect x="259" y="916" width="1" height="3" fill="#3c3c3c" shape-rendering="crispEdges"/>
<text x="258.6" y="928.0" fill="#222" textLength="49.0" lengthAdjust="spacingAndGlyphs" xml:space="preserve">17 Oct 2018</text>
<rect x="323" y="916" width="1" height="3" fill="#3c3c3c" shape-rendering="crispEdges"/>
<text x="322.6" y="928.0" fill="#222" textLength="46.0" lengthAdjust="spacingAndGlyphs" xml:space="preserve">8 Nov 2018</text>
<rect x="387" y="916" width="1" height="3" fill="#3c3c3c" shape-rendering="crispEdges"/>
<text x="386.6" y="928.0" fill="#222" textLength="51.0" lengthAdjust="spacingAndGlyphs" xml:space="preserve">30 Nov 2018</text>
<rect x="451" y="916" width="1" height="3" fill="#3c3c3c" shape-rendering="crispEdges"/>
<text x="450.6" y="928.0" fill="#222" textLength="51.0" lengthAdjust="spacingAndGlyphs" xml:space="preserve">24 Dec 2018</text>
<rect x="515" y="916" width="1" height="3" fill="#3c3c3c" shape-rendering="crispEdges"/>
<text x="514.6" y="928.0" fill="#222" textLength="49.5" lengthAdjust="spacingAndGlyphs" xml:space="preserve">18 Jan 2019</text>
<rect x="579" y="916" width="1" height="3" fill="#3c3c3c" shape-rendering="crispEdges"/>
<text x="578.6" y="928.0" fill="#222" textLength="49.8" lengthAdjust="spacingAndGlyphs" xml:space="preserve">11 Feb 2019</text>
<rect x="643" y="916" width="1" height="3" fill="#3c3c3c" shape-rendering="crispEdges"/>
<text x="642.6" y="928.0" fill="#222" textLength="45.5" lengthAdjust="spacingAndGlyphs" xml:space="preserve">5 Mar 2019</text>
<rect x="707" y="916" width="1" height="3" fill="#3c3c3c" shape-rendering="crispEdges"/>
<text x="706.6" y="928.0" fill="#222" textLength="50.5" lengthAdjust="spacingAndGlyphs" xml:space="preserve">27 Mar 2019</text>
<rect x="771" y="916" width="1" height="3" fill="#3c3c3c" shape-rendering="crispEdges"/>
<text x="770.6" y="928.0" fill="#222" textLength="48.5" lengthAdjust="spacingAndGlyphs" xml:space="preserve">18 Apr 2019</text>
<rect x="835" y="916" width="1" height="3" fill="#3c3c3c" shape-rendering="crispEdges"/>
<text x="834.6" y="928.0" fill="#222" textLength="52.0" lengthAdjust="spacingAndGlyphs" xml:space="preserve">15 May 2019</text>
<rect x="899" y="916" width="1" height="3" fill="#3c3c3c" shape-rendering="crispEdges"/>
<text x="898.6" y="928.0" fill="#222" textLength="44.5" lengthAdjust="spacingAndGlyphs" xml:space="preserve">6 Jun 2019</text>
<rect x="963" y="916" width="1" height="3" fill="#3c3c3c" shape-rendering="crispEdges"/>
<text x="962.6" y="928.0" fill="#222" textLength="49.5" lengthAdjust="spacingAndGlyphs" xml:space="preserve">28 Jun 2019</text>
<rect x="1027" y="916" width="1" height="3" fill="#3c3c3c" shape-rendering="crispEdges"/>
<text x="1026.6" y="928.0" fill="#222" textLength="46.5" lengthAdjust="spacingAndGlyphs" xml:space="preserve">22 Jul 2019</text>
<rect x="1091" y="916" width="1" height="3" fill="#3c3c3c" shape-rendering="crispEdges"/>
<text x="1090.6" y="928.0" fill="#222" textLength="50.5" lengthAdjust="spacingAndGlyphs" xml:space="preserve">13 Aug 2019</text>
<rect x="1155" y="916" width="1" height="3" fill="#3c3c3c" shape-rendering="crispEdges"/>
<text x="1154.6" y="928.0" fill="#222" textLength="46.0" lengthAdjust="spacingAndGlyphs" xml:space="preserve">4 Sep 2019</text>
<rect x="1219" y="916" width="1" height="3" fill="#3c3c3c" shape-rendering="crispEdges"/>
<text x="1218.6" y="928.0" fill="#222" textLength="51.0" lengthAdjust="spacingAndGlyphs" xml:space="preserve">26 Sep 2019</text>
<rect x="1283" y="916" width="1" height="3" fill="#3c3c3c" shape-rendering="crispEdges"/>
<text x="1282.6" y="928.0" fill="#222" textLength="49.0" lengthAdjust="spacingAndGlyphs" xml:space="preserve">18 Oct 2019</text>
<rect x="1347" y="916" width="1" height="3" fill="#3c3c3c" shape-rendering="crispEdges"/>
<text x="1346.6" y="928.0" fill="#222" textLength="50.3" lengthAdjust="spacingAndGlyphs" xml:space="preserve">11 Nov 2019</text>
<rect x="1411" y="916" width="1" height="3" fill="#3c3c3c" shape-rendering="crispEdges"/>
<text x="1410.6" y="928.0" fill="#222" textLength="46.0" lengthAdjust="spacingAndGlyphs" xml:space="preserve">3 Dec 2019</text>
<rect x="1475" y="916" width="1" height="3" fill="#3c3c3c" shape-rendering="crispEdges"/>
<text x="1474.6" y="928.0" fill="#222" textLength="51.0" lengthAdjust="spacingAndGlyphs" xml:space="preserve">27 Dec 2019</text>
</g>
</svg></body></html>
